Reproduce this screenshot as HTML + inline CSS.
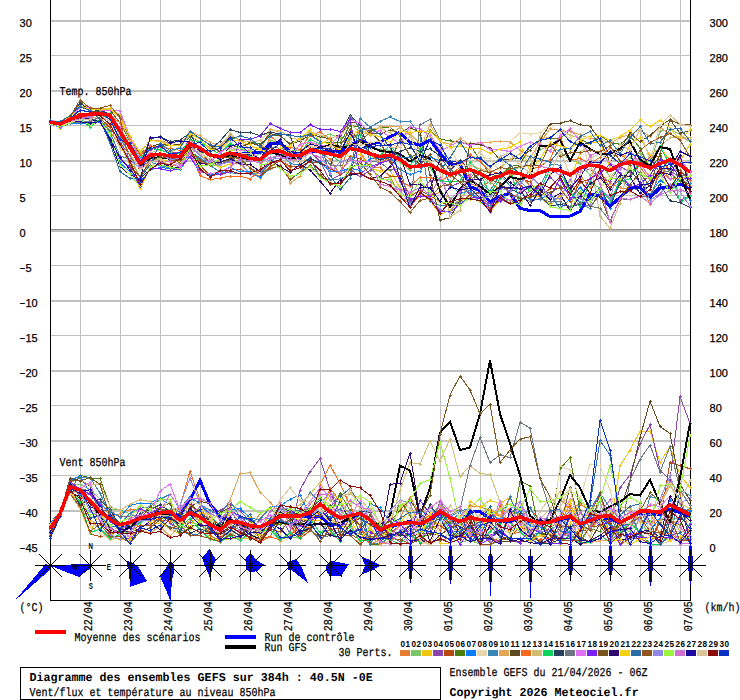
<!DOCTYPE html>
<html lang="fr"><head><meta charset="utf-8"><title>Diagramme des ensembles GEFS</title>
<style>html,body{margin:0;padding:0;background:#fff}svg{display:block}text{stroke:#000;stroke-width:0.25px;paint-order:stroke fill}text[font-weight=bold]{stroke-width:0}</style></head>
<body>
<svg width="740" height="700" viewBox="0 0 740 700">
<rect width="740" height="700" fill="#fff"/>
<g shape-rendering="crispEdges">
<rect x="80" y="0" width="1" height="600" fill="#c0c0c0"/>
<rect x="120" y="0" width="1" height="600" fill="#c0c0c0"/>
<rect x="160" y="0" width="1" height="600" fill="#c0c0c0"/>
<rect x="200" y="0" width="1" height="600" fill="#c0c0c0"/>
<rect x="240" y="0" width="1" height="600" fill="#c0c0c0"/>
<rect x="280" y="0" width="1" height="600" fill="#c0c0c0"/>
<rect x="320" y="0" width="1" height="600" fill="#c0c0c0"/>
<rect x="360" y="0" width="1" height="600" fill="#c0c0c0"/>
<rect x="400" y="0" width="1" height="600" fill="#c0c0c0"/>
<rect x="440" y="0" width="1" height="600" fill="#c0c0c0"/>
<rect x="480" y="0" width="1" height="600" fill="#c0c0c0"/>
<rect x="520" y="0" width="1" height="600" fill="#c0c0c0"/>
<rect x="560" y="0" width="1" height="600" fill="#c0c0c0"/>
<rect x="600" y="0" width="1" height="600" fill="#c0c0c0"/>
<rect x="640" y="0" width="1" height="600" fill="#c0c0c0"/>
<rect x="680" y="0" width="1" height="600" fill="#c0c0c0"/>
<rect x="50" y="20" width="640" height="2" fill="#c0c0c0"/>
<rect x="50" y="55" width="640" height="1" fill="#c0c0c0"/>
<rect x="50" y="90" width="640" height="2" fill="#c0c0c0"/>
<rect x="50" y="125" width="640" height="1" fill="#c0c0c0"/>
<rect x="50" y="160" width="640" height="2" fill="#c0c0c0"/>
<rect x="50" y="195" width="640" height="1" fill="#c0c0c0"/>
<rect x="50" y="230" width="640" height="2" fill="#c0c0c0"/>
<rect x="50" y="229" width="640" height="1" fill="#909090"/>
<rect x="50" y="265" width="640" height="1" fill="#c0c0c0"/>
<rect x="50" y="300" width="640" height="2" fill="#c0c0c0"/>
<rect x="50" y="335" width="640" height="1" fill="#c0c0c0"/>
<rect x="50" y="370" width="640" height="2" fill="#c0c0c0"/>
<rect x="50" y="405" width="640" height="1" fill="#c0c0c0"/>
<rect x="50" y="440" width="640" height="2" fill="#c0c0c0"/>
<rect x="50" y="475" width="640" height="1" fill="#c0c0c0"/>
<rect x="50" y="510" width="640" height="2" fill="#c0c0c0"/>
<rect x="50" y="545" width="640" height="1" fill="#c0c0c0"/>
</g>
<g shape-rendering="crispEdges" fill="#000">
<rect x="50" y="0" width="1" height="601"/>
<rect x="690" y="0" width="1" height="601"/>
<rect x="50" y="600" width="641" height="1"/>
</g>
<g shape-rendering="crispEdges" stroke-linejoin="miter">
<polyline points="50,122.8 60,126.3 70,120.7 80,117.4 90,118.0 100,116.4 110,130.7 120,146.6 130,161.1 140,176.4 150,162.8 160,160.2 170,165.4 180,164.9 190,150.4 200,162.5 210,163.5 220,160.6 230,162.9 240,164.1 250,173.1 260,175.7 270,166.2 280,160.4 290,167.4 300,152.1 310,149.4 320,151.7 330,159.4 340,174.5 350,139.9 360,151.6 370,167.4 380,167.8 390,176.1 400,196.3 410,204.6 420,196.4 430,194.3 440,192.7 450,206.6 460,199.5 470,183.7 480,187.2 490,181.6 500,189.8 510,174.5 520,174.3 530,186.0 540,197.1 550,203.8 560,195.7 570,208.9 580,175.2 590,187.3 600,173.6 610,183.1 620,187.8 630,188.9 640,184.1 650,204.1 660,166.5 670,179.1 680,178.0 690,187.0" fill="none" stroke="#E67E30" stroke-width="1" />
<path d="M49,122h3v1h-3zM50,121h1v3h-1zM59,126h3v1h-3zM60,125h1v3h-1zM69,120h3v1h-3zM70,119h1v3h-1zM79,117h3v1h-3zM80,116h1v3h-1zM89,118h3v1h-3zM90,117h1v3h-1zM99,116h3v1h-3zM100,115h1v3h-1zM109,130h3v1h-3zM110,129h1v3h-1zM119,146h3v1h-3zM120,145h1v3h-1zM129,161h3v1h-3zM130,160h1v3h-1zM139,176h3v1h-3zM140,175h1v3h-1zM149,162h3v1h-3zM150,161h1v3h-1zM159,160h3v1h-3zM160,159h1v3h-1zM169,165h3v1h-3zM170,164h1v3h-1zM179,164h3v1h-3zM180,163h1v3h-1zM189,150h3v1h-3zM190,149h1v3h-1zM199,162h3v1h-3zM200,161h1v3h-1zM209,163h3v1h-3zM210,162h1v3h-1zM219,160h3v1h-3zM220,159h1v3h-1zM229,162h3v1h-3zM230,161h1v3h-1zM239,164h3v1h-3zM240,163h1v3h-1zM249,173h3v1h-3zM250,172h1v3h-1zM259,175h3v1h-3zM260,174h1v3h-1zM269,166h3v1h-3zM270,165h1v3h-1zM279,160h3v1h-3zM280,159h1v3h-1zM289,167h3v1h-3zM290,166h1v3h-1zM299,152h3v1h-3zM300,151h1v3h-1zM309,149h3v1h-3zM310,148h1v3h-1zM319,151h3v1h-3zM320,150h1v3h-1zM329,159h3v1h-3zM330,158h1v3h-1zM339,174h3v1h-3zM340,173h1v3h-1zM349,139h3v1h-3zM350,138h1v3h-1zM359,151h3v1h-3zM360,150h1v3h-1zM369,167h3v1h-3zM370,166h1v3h-1zM379,167h3v1h-3zM380,166h1v3h-1zM389,176h3v1h-3zM390,175h1v3h-1zM399,196h3v1h-3zM400,195h1v3h-1zM409,204h3v1h-3zM410,203h1v3h-1zM419,196h3v1h-3zM420,195h1v3h-1zM429,194h3v1h-3zM430,193h1v3h-1zM439,192h3v1h-3zM440,191h1v3h-1zM449,206h3v1h-3zM450,205h1v3h-1zM459,199h3v1h-3zM460,198h1v3h-1zM469,183h3v1h-3zM470,182h1v3h-1zM479,187h3v1h-3zM480,186h1v3h-1zM489,181h3v1h-3zM490,180h1v3h-1zM499,189h3v1h-3zM500,188h1v3h-1zM509,174h3v1h-3zM510,173h1v3h-1zM519,174h3v1h-3zM520,173h1v3h-1zM529,186h3v1h-3zM530,185h1v3h-1zM539,197h3v1h-3zM540,196h1v3h-1zM549,203h3v1h-3zM550,202h1v3h-1zM559,195h3v1h-3zM560,194h1v3h-1zM569,208h3v1h-3zM570,207h1v3h-1zM579,175h3v1h-3zM580,174h1v3h-1zM589,187h3v1h-3zM590,186h1v3h-1zM599,173h3v1h-3zM600,172h1v3h-1zM609,183h3v1h-3zM610,182h1v3h-1zM619,187h3v1h-3zM620,186h1v3h-1zM629,188h3v1h-3zM630,187h1v3h-1zM639,184h3v1h-3zM640,183h1v3h-1zM649,204h3v1h-3zM650,203h1v3h-1zM659,166h3v1h-3zM660,165h1v3h-1zM669,179h3v1h-3zM670,178h1v3h-1zM679,177h3v1h-3zM680,176h1v3h-1zM689,186h3v1h-3zM690,185h1v3h-1z" fill="#E67E30"/>
<polyline points="50,529.7 60,514.3 70,485.6 80,495.1 90,505.9 100,501.3 110,516.2 120,513.8 130,509.4 140,508.8 150,514.6 160,514.2 170,516.5 180,527.9 190,506.4 200,511.2 210,521.1 220,530.3 230,522.6 240,525.3 250,528.7 260,513.5 270,508.4 280,517.5 290,526.7 300,538.4 310,512.6 320,514.0 330,488.5 340,500.8 350,517.0 360,514.7 370,512.3 380,541.6 390,531.5 400,518.6 410,497.1 420,513.5 430,523.8 440,502.7 450,521.3 460,517.0 470,505.9 480,506.5 490,511.0 500,515.9 510,497.6 520,518.4 530,508.1 540,521.4 550,523.5 560,499.8 570,508.4 580,504.3 590,510.4 600,496.5 610,525.8 620,530.8 630,529.5 640,511.8 650,505.9 660,503.1 670,481.3 680,492.9 690,537.9" fill="none" stroke="#E67E30" stroke-width="1" />
<path d="M49,529h3v1h-3zM50,528h1v3h-1zM59,514h3v1h-3zM60,513h1v3h-1zM69,485h3v1h-3zM70,484h1v3h-1zM79,495h3v1h-3zM80,494h1v3h-1zM89,505h3v1h-3zM90,504h1v3h-1zM99,501h3v1h-3zM100,500h1v3h-1zM109,516h3v1h-3zM110,515h1v3h-1zM119,513h3v1h-3zM120,512h1v3h-1zM129,509h3v1h-3zM130,508h1v3h-1zM139,508h3v1h-3zM140,507h1v3h-1zM149,514h3v1h-3zM150,513h1v3h-1zM159,514h3v1h-3zM160,513h1v3h-1zM169,516h3v1h-3zM170,515h1v3h-1zM179,527h3v1h-3zM180,526h1v3h-1zM189,506h3v1h-3zM190,505h1v3h-1zM199,511h3v1h-3zM200,510h1v3h-1zM209,521h3v1h-3zM210,520h1v3h-1zM219,530h3v1h-3zM220,529h1v3h-1zM229,522h3v1h-3zM230,521h1v3h-1zM239,525h3v1h-3zM240,524h1v3h-1zM249,528h3v1h-3zM250,527h1v3h-1zM259,513h3v1h-3zM260,512h1v3h-1zM269,508h3v1h-3zM270,507h1v3h-1zM279,517h3v1h-3zM280,516h1v3h-1zM289,526h3v1h-3zM290,525h1v3h-1zM299,538h3v1h-3zM300,537h1v3h-1zM309,512h3v1h-3zM310,511h1v3h-1zM319,514h3v1h-3zM320,513h1v3h-1zM329,488h3v1h-3zM330,487h1v3h-1zM339,500h3v1h-3zM340,499h1v3h-1zM349,517h3v1h-3zM350,516h1v3h-1zM359,514h3v1h-3zM360,513h1v3h-1zM369,512h3v1h-3zM370,511h1v3h-1zM379,541h3v1h-3zM380,540h1v3h-1zM389,531h3v1h-3zM390,530h1v3h-1zM399,518h3v1h-3zM400,517h1v3h-1zM409,497h3v1h-3zM410,496h1v3h-1zM419,513h3v1h-3zM420,512h1v3h-1zM429,523h3v1h-3zM430,522h1v3h-1zM439,502h3v1h-3zM440,501h1v3h-1zM449,521h3v1h-3zM450,520h1v3h-1zM459,516h3v1h-3zM460,515h1v3h-1zM469,505h3v1h-3zM470,504h1v3h-1zM479,506h3v1h-3zM480,505h1v3h-1zM489,511h3v1h-3zM490,510h1v3h-1zM499,515h3v1h-3zM500,514h1v3h-1zM509,497h3v1h-3zM510,496h1v3h-1zM519,518h3v1h-3zM520,517h1v3h-1zM529,508h3v1h-3zM530,507h1v3h-1zM539,521h3v1h-3zM540,520h1v3h-1zM549,523h3v1h-3zM550,522h1v3h-1zM559,499h3v1h-3zM560,498h1v3h-1zM569,508h3v1h-3zM570,507h1v3h-1zM579,504h3v1h-3zM580,503h1v3h-1zM589,510h3v1h-3zM590,509h1v3h-1zM599,496h3v1h-3zM600,495h1v3h-1zM609,525h3v1h-3zM610,524h1v3h-1zM619,530h3v1h-3zM620,529h1v3h-1zM629,529h3v1h-3zM630,528h1v3h-1zM639,511h3v1h-3zM640,510h1v3h-1zM649,505h3v1h-3zM650,504h1v3h-1zM659,503h3v1h-3zM660,502h1v3h-1zM669,481h3v1h-3zM670,480h1v3h-1zM679,492h3v1h-3zM680,491h1v3h-1zM689,537h3v1h-3zM690,536h1v3h-1z" fill="#E67E30"/>
<polyline points="50,121.9 60,123.8 70,119.0 80,116.0 90,115.2 100,113.6 110,119.7 120,134.3 130,155.2 140,178.0 150,162.2 160,158.3 170,162.2 180,163.6 190,152.9 200,160.8 210,165.1 220,165.7 230,157.1 240,162.7 250,159.4 260,153.4 270,140.0 280,143.4 290,150.6 300,150.7 310,132.7 320,137.2 330,134.1 340,138.3 350,134.7 360,139.7 370,146.6 380,149.8 390,150.1 400,162.2 410,170.3 420,158.1 430,162.1 440,190.9 450,198.8 460,202.7 470,182.5 480,173.8 490,183.7 500,173.7 510,170.3 520,167.3 530,165.1 540,149.7 550,145.4 560,152.3 570,159.5 580,163.6 590,175.1 600,163.5 610,176.4 620,168.6 630,157.0 640,153.3 650,165.4 660,131.2 670,129.5 680,134.7 690,141.8" fill="none" stroke="#7DC46A" stroke-width="1" />
<path d="M49,121h3v1h-3zM50,120h1v3h-1zM59,123h3v1h-3zM60,122h1v3h-1zM69,119h3v1h-3zM70,118h1v3h-1zM79,115h3v1h-3zM80,114h1v3h-1zM89,115h3v1h-3zM90,114h1v3h-1zM99,113h3v1h-3zM100,112h1v3h-1zM109,119h3v1h-3zM110,118h1v3h-1zM119,134h3v1h-3zM120,133h1v3h-1zM129,155h3v1h-3zM130,154h1v3h-1zM139,177h3v1h-3zM140,176h1v3h-1zM149,162h3v1h-3zM150,161h1v3h-1zM159,158h3v1h-3zM160,157h1v3h-1zM169,162h3v1h-3zM170,161h1v3h-1zM179,163h3v1h-3zM180,162h1v3h-1zM189,152h3v1h-3zM190,151h1v3h-1zM199,160h3v1h-3zM200,159h1v3h-1zM209,165h3v1h-3zM210,164h1v3h-1zM219,165h3v1h-3zM220,164h1v3h-1zM229,157h3v1h-3zM230,156h1v3h-1zM239,162h3v1h-3zM240,161h1v3h-1zM249,159h3v1h-3zM250,158h1v3h-1zM259,153h3v1h-3zM260,152h1v3h-1zM269,140h3v1h-3zM270,139h1v3h-1zM279,143h3v1h-3zM280,142h1v3h-1zM289,150h3v1h-3zM290,149h1v3h-1zM299,150h3v1h-3zM300,149h1v3h-1zM309,132h3v1h-3zM310,131h1v3h-1zM319,137h3v1h-3zM320,136h1v3h-1zM329,134h3v1h-3zM330,133h1v3h-1zM339,138h3v1h-3zM340,137h1v3h-1zM349,134h3v1h-3zM350,133h1v3h-1zM359,139h3v1h-3zM360,138h1v3h-1zM369,146h3v1h-3zM370,145h1v3h-1zM379,149h3v1h-3zM380,148h1v3h-1zM389,150h3v1h-3zM390,149h1v3h-1zM399,162h3v1h-3zM400,161h1v3h-1zM409,170h3v1h-3zM410,169h1v3h-1zM419,158h3v1h-3zM420,157h1v3h-1zM429,162h3v1h-3zM430,161h1v3h-1zM439,190h3v1h-3zM440,189h1v3h-1zM449,198h3v1h-3zM450,197h1v3h-1zM459,202h3v1h-3zM460,201h1v3h-1zM469,182h3v1h-3zM470,181h1v3h-1zM479,173h3v1h-3zM480,172h1v3h-1zM489,183h3v1h-3zM490,182h1v3h-1zM499,173h3v1h-3zM500,172h1v3h-1zM509,170h3v1h-3zM510,169h1v3h-1zM519,167h3v1h-3zM520,166h1v3h-1zM529,165h3v1h-3zM530,164h1v3h-1zM539,149h3v1h-3zM540,148h1v3h-1zM549,145h3v1h-3zM550,144h1v3h-1zM559,152h3v1h-3zM560,151h1v3h-1zM569,159h3v1h-3zM570,158h1v3h-1zM579,163h3v1h-3zM580,162h1v3h-1zM589,175h3v1h-3zM590,174h1v3h-1zM599,163h3v1h-3zM600,162h1v3h-1zM609,176h3v1h-3zM610,175h1v3h-1zM619,168h3v1h-3zM620,167h1v3h-1zM629,157h3v1h-3zM630,156h1v3h-1zM639,153h3v1h-3zM640,152h1v3h-1zM649,165h3v1h-3zM650,164h1v3h-1zM659,131h3v1h-3zM660,130h1v3h-1zM669,129h3v1h-3zM670,128h1v3h-1zM679,134h3v1h-3zM680,133h1v3h-1zM689,141h3v1h-3zM690,140h1v3h-1z" fill="#7DC46A"/>
<polyline points="50,529.7 60,513.8 70,484.4 80,484.1 90,489.7 100,499.0 110,509.2 120,510.1 130,513.8 140,518.3 150,517.0 160,512.1 170,509.2 180,515.8 190,514.0 200,521.5 210,535.2 220,542.8 230,532.4 240,538.9 250,538.7 260,531.2 270,526.9 280,537.5 290,536.6 300,538.3 310,530.6 320,536.4 330,516.6 340,508.9 350,522.3 360,515.1 370,530.2 380,539.0 390,528.6 400,521.2 410,533.4 420,524.7 430,523.4 440,511.0 450,538.1 460,542.4 470,539.9 480,544.5 490,531.4 500,521.8 510,522.4 520,519.7 530,533.8 540,525.2 550,522.9 560,518.4 570,531.0 580,544.7 590,525.3 600,500.6 610,535.8 620,528.3 630,531.7 640,518.9 650,536.4 660,541.1 670,519.4 680,518.1 690,516.9" fill="none" stroke="#7DC46A" stroke-width="1" />
<path d="M49,529h3v1h-3zM50,528h1v3h-1zM59,513h3v1h-3zM60,512h1v3h-1zM69,484h3v1h-3zM70,483h1v3h-1zM79,484h3v1h-3zM80,483h1v3h-1zM89,489h3v1h-3zM90,488h1v3h-1zM99,499h3v1h-3zM100,498h1v3h-1zM109,509h3v1h-3zM110,508h1v3h-1zM119,510h3v1h-3zM120,509h1v3h-1zM129,513h3v1h-3zM130,512h1v3h-1zM139,518h3v1h-3zM140,517h1v3h-1zM149,517h3v1h-3zM150,516h1v3h-1zM159,512h3v1h-3zM160,511h1v3h-1zM169,509h3v1h-3zM170,508h1v3h-1zM179,515h3v1h-3zM180,514h1v3h-1zM189,513h3v1h-3zM190,512h1v3h-1zM199,521h3v1h-3zM200,520h1v3h-1zM209,535h3v1h-3zM210,534h1v3h-1zM219,542h3v1h-3zM220,541h1v3h-1zM229,532h3v1h-3zM230,531h1v3h-1zM239,538h3v1h-3zM240,537h1v3h-1zM249,538h3v1h-3zM250,537h1v3h-1zM259,531h3v1h-3zM260,530h1v3h-1zM269,526h3v1h-3zM270,525h1v3h-1zM279,537h3v1h-3zM280,536h1v3h-1zM289,536h3v1h-3zM290,535h1v3h-1zM299,538h3v1h-3zM300,537h1v3h-1zM309,530h3v1h-3zM310,529h1v3h-1zM319,536h3v1h-3zM320,535h1v3h-1zM329,516h3v1h-3zM330,515h1v3h-1zM339,508h3v1h-3zM340,507h1v3h-1zM349,522h3v1h-3zM350,521h1v3h-1zM359,515h3v1h-3zM360,514h1v3h-1zM369,530h3v1h-3zM370,529h1v3h-1zM379,539h3v1h-3zM380,538h1v3h-1zM389,528h3v1h-3zM390,527h1v3h-1zM399,521h3v1h-3zM400,520h1v3h-1zM409,533h3v1h-3zM410,532h1v3h-1zM419,524h3v1h-3zM420,523h1v3h-1zM429,523h3v1h-3zM430,522h1v3h-1zM439,511h3v1h-3zM440,510h1v3h-1zM449,538h3v1h-3zM450,537h1v3h-1zM459,542h3v1h-3zM460,541h1v3h-1zM469,539h3v1h-3zM470,538h1v3h-1zM479,544h3v1h-3zM480,543h1v3h-1zM489,531h3v1h-3zM490,530h1v3h-1zM499,521h3v1h-3zM500,520h1v3h-1zM509,522h3v1h-3zM510,521h1v3h-1zM519,519h3v1h-3zM520,518h1v3h-1zM529,533h3v1h-3zM530,532h1v3h-1zM539,525h3v1h-3zM540,524h1v3h-1zM549,522h3v1h-3zM550,521h1v3h-1zM559,518h3v1h-3zM560,517h1v3h-1zM569,530h3v1h-3zM570,529h1v3h-1zM579,544h3v1h-3zM580,543h1v3h-1zM589,525h3v1h-3zM590,524h1v3h-1zM599,500h3v1h-3zM600,499h1v3h-1zM609,535h3v1h-3zM610,534h1v3h-1zM619,528h3v1h-3zM620,527h1v3h-1zM629,531h3v1h-3zM630,530h1v3h-1zM639,518h3v1h-3zM640,517h1v3h-1zM649,536h3v1h-3zM650,535h1v3h-1zM659,541h3v1h-3zM660,540h1v3h-1zM669,519h3v1h-3zM670,518h1v3h-1zM679,518h3v1h-3zM680,517h1v3h-1zM689,516h3v1h-3zM690,515h1v3h-1z" fill="#7DC46A"/>
<polyline points="50,121.6 60,128.0 70,119.3 80,117.0 90,114.2 100,113.8 110,114.9 120,145.1 130,165.0 140,188.8 150,168.0 160,158.3 170,162.5 180,161.6 190,147.6 200,154.4 210,162.4 220,167.6 230,164.1 240,159.0 250,167.6 260,178.3 270,161.6 280,153.4 290,152.8 300,155.5 310,141.4 320,145.1 330,138.2 340,148.4 350,157.6 360,154.3 370,167.3 380,171.4 390,170.1 400,188.2 410,193.1 420,193.7 430,200.0 440,214.7 450,210.4 460,199.5 470,199.3 480,191.4 490,211.8 500,200.2 510,200.6 520,200.8 530,196.2 540,197.1 550,205.8 560,196.3 570,181.0 580,153.2 590,143.2 600,141.6 610,167.7 620,166.5 630,144.5 640,137.7 650,155.1 660,147.5 670,160.2 680,161.7 690,144.1" fill="none" stroke="#F1C40F" stroke-width="1" />
<path d="M49,121h3v1h-3zM50,120h1v3h-1zM59,128h3v1h-3zM60,127h1v3h-1zM69,119h3v1h-3zM70,118h1v3h-1zM79,117h3v1h-3zM80,116h1v3h-1zM89,114h3v1h-3zM90,113h1v3h-1zM99,113h3v1h-3zM100,112h1v3h-1zM109,114h3v1h-3zM110,113h1v3h-1zM119,145h3v1h-3zM120,144h1v3h-1zM129,165h3v1h-3zM130,164h1v3h-1zM139,188h3v1h-3zM140,187h1v3h-1zM149,168h3v1h-3zM150,167h1v3h-1zM159,158h3v1h-3zM160,157h1v3h-1zM169,162h3v1h-3zM170,161h1v3h-1zM179,161h3v1h-3zM180,160h1v3h-1zM189,147h3v1h-3zM190,146h1v3h-1zM199,154h3v1h-3zM200,153h1v3h-1zM209,162h3v1h-3zM210,161h1v3h-1zM219,167h3v1h-3zM220,166h1v3h-1zM229,164h3v1h-3zM230,163h1v3h-1zM239,159h3v1h-3zM240,158h1v3h-1zM249,167h3v1h-3zM250,166h1v3h-1zM259,178h3v1h-3zM260,177h1v3h-1zM269,161h3v1h-3zM270,160h1v3h-1zM279,153h3v1h-3zM280,152h1v3h-1zM289,152h3v1h-3zM290,151h1v3h-1zM299,155h3v1h-3zM300,154h1v3h-1zM309,141h3v1h-3zM310,140h1v3h-1zM319,145h3v1h-3zM320,144h1v3h-1zM329,138h3v1h-3zM330,137h1v3h-1zM339,148h3v1h-3zM340,147h1v3h-1zM349,157h3v1h-3zM350,156h1v3h-1zM359,154h3v1h-3zM360,153h1v3h-1zM369,167h3v1h-3zM370,166h1v3h-1zM379,171h3v1h-3zM380,170h1v3h-1zM389,170h3v1h-3zM390,169h1v3h-1zM399,188h3v1h-3zM400,187h1v3h-1zM409,193h3v1h-3zM410,192h1v3h-1zM419,193h3v1h-3zM420,192h1v3h-1zM429,199h3v1h-3zM430,198h1v3h-1zM439,214h3v1h-3zM440,213h1v3h-1zM449,210h3v1h-3zM450,209h1v3h-1zM459,199h3v1h-3zM460,198h1v3h-1zM469,199h3v1h-3zM470,198h1v3h-1zM479,191h3v1h-3zM480,190h1v3h-1zM489,211h3v1h-3zM490,210h1v3h-1zM499,200h3v1h-3zM500,199h1v3h-1zM509,200h3v1h-3zM510,199h1v3h-1zM519,200h3v1h-3zM520,199h1v3h-1zM529,196h3v1h-3zM530,195h1v3h-1zM539,197h3v1h-3zM540,196h1v3h-1zM549,205h3v1h-3zM550,204h1v3h-1zM559,196h3v1h-3zM560,195h1v3h-1zM569,180h3v1h-3zM570,179h1v3h-1zM579,153h3v1h-3zM580,152h1v3h-1zM589,143h3v1h-3zM590,142h1v3h-1zM599,141h3v1h-3zM600,140h1v3h-1zM609,167h3v1h-3zM610,166h1v3h-1zM619,166h3v1h-3zM620,165h1v3h-1zM629,144h3v1h-3zM630,143h1v3h-1zM639,137h3v1h-3zM640,136h1v3h-1zM649,155h3v1h-3zM650,154h1v3h-1zM659,147h3v1h-3zM660,146h1v3h-1zM669,160h3v1h-3zM670,159h1v3h-1zM679,161h3v1h-3zM680,160h1v3h-1zM689,144h3v1h-3zM690,143h1v3h-1z" fill="#F1C40F"/>
<polyline points="50,529.9 60,514.1 70,492.8 80,507.9 90,520.1 100,524.4 110,525.2 120,523.7 130,527.5 140,517.9 150,522.3 160,523.8 170,528.2 180,534.3 190,519.6 200,522.0 210,538.3 220,540.7 230,538.9 240,539.0 250,538.4 260,534.6 270,511.4 280,502.6 290,519.0 300,521.5 310,521.1 320,520.5 330,518.3 340,526.1 350,526.8 360,510.8 370,526.6 380,542.5 390,529.6 400,507.1 410,501.9 420,530.5 430,519.9 440,524.6 450,534.1 460,535.8 470,501.2 480,507.8 490,500.2 500,503.6 510,497.5 520,516.4 530,522.4 540,532.8 550,541.7 560,544.3 570,523.2 580,499.7 590,511.5 600,517.6 610,530.9 620,465.7 630,450.0 640,431.0 650,431.0 660,462.5 670,446.8 680,475.0 690,487.7" fill="none" stroke="#F1C40F" stroke-width="1" />
<path d="M49,529h3v1h-3zM50,528h1v3h-1zM59,514h3v1h-3zM60,513h1v3h-1zM69,492h3v1h-3zM70,491h1v3h-1zM79,507h3v1h-3zM80,506h1v3h-1zM89,520h3v1h-3zM90,519h1v3h-1zM99,524h3v1h-3zM100,523h1v3h-1zM109,525h3v1h-3zM110,524h1v3h-1zM119,523h3v1h-3zM120,522h1v3h-1zM129,527h3v1h-3zM130,526h1v3h-1zM139,517h3v1h-3zM140,516h1v3h-1zM149,522h3v1h-3zM150,521h1v3h-1zM159,523h3v1h-3zM160,522h1v3h-1zM169,528h3v1h-3zM170,527h1v3h-1zM179,534h3v1h-3zM180,533h1v3h-1zM189,519h3v1h-3zM190,518h1v3h-1zM199,522h3v1h-3zM200,521h1v3h-1zM209,538h3v1h-3zM210,537h1v3h-1zM219,540h3v1h-3zM220,539h1v3h-1zM229,538h3v1h-3zM230,537h1v3h-1zM239,539h3v1h-3zM240,538h1v3h-1zM249,538h3v1h-3zM250,537h1v3h-1zM259,534h3v1h-3zM260,533h1v3h-1zM269,511h3v1h-3zM270,510h1v3h-1zM279,502h3v1h-3zM280,501h1v3h-1zM289,518h3v1h-3zM290,517h1v3h-1zM299,521h3v1h-3zM300,520h1v3h-1zM309,521h3v1h-3zM310,520h1v3h-1zM319,520h3v1h-3zM320,519h1v3h-1zM329,518h3v1h-3zM330,517h1v3h-1zM339,526h3v1h-3zM340,525h1v3h-1zM349,526h3v1h-3zM350,525h1v3h-1zM359,510h3v1h-3zM360,509h1v3h-1zM369,526h3v1h-3zM370,525h1v3h-1zM379,542h3v1h-3zM380,541h1v3h-1zM389,529h3v1h-3zM390,528h1v3h-1zM399,507h3v1h-3zM400,506h1v3h-1zM409,501h3v1h-3zM410,500h1v3h-1zM419,530h3v1h-3zM420,529h1v3h-1zM429,519h3v1h-3zM430,518h1v3h-1zM439,524h3v1h-3zM440,523h1v3h-1zM449,534h3v1h-3zM450,533h1v3h-1zM459,535h3v1h-3zM460,534h1v3h-1zM469,501h3v1h-3zM470,500h1v3h-1zM479,507h3v1h-3zM480,506h1v3h-1zM489,500h3v1h-3zM490,499h1v3h-1zM499,503h3v1h-3zM500,502h1v3h-1zM509,497h3v1h-3zM510,496h1v3h-1zM519,516h3v1h-3zM520,515h1v3h-1zM529,522h3v1h-3zM530,521h1v3h-1zM539,532h3v1h-3zM540,531h1v3h-1zM549,541h3v1h-3zM550,540h1v3h-1zM559,544h3v1h-3zM560,543h1v3h-1zM569,523h3v1h-3zM570,522h1v3h-1zM579,499h3v1h-3zM580,498h1v3h-1zM589,511h3v1h-3zM590,510h1v3h-1zM599,517h3v1h-3zM600,516h1v3h-1zM609,530h3v1h-3zM610,529h1v3h-1zM619,465h3v1h-3zM620,464h1v3h-1zM629,450h3v1h-3zM630,449h1v3h-1zM639,431h3v1h-3zM640,430h1v3h-1zM649,431h3v1h-3zM650,430h1v3h-1zM659,462h3v1h-3zM660,461h1v3h-1zM669,446h3v1h-3zM670,445h1v3h-1zM679,475h3v1h-3zM680,474h1v3h-1zM689,487h3v1h-3zM690,486h1v3h-1z" fill="#F1C40F"/>
<polyline points="50,122.3 60,124.2 70,120.1 80,117.8 90,113.4 100,111.1 110,114.0 120,129.5 130,144.6 140,161.1 150,150.1 160,146.5 170,152.1 180,152.3 190,139.7 200,147.1 210,154.7 220,157.7 230,154.2 240,153.7 250,155.8 260,162.0 270,150.5 280,152.3 290,155.9 300,159.3 310,151.2 320,161.5 330,180.4 340,174.7 350,168.9 360,176.9 370,170.4 380,163.1 390,160.0 400,178.7 410,201.9 420,193.5 430,180.6 440,180.3 450,186.6 460,182.6 470,194.9 480,198.1 490,208.4 500,199.6 510,203.3 520,203.3 530,190.1 540,188.7 550,177.4 560,186.4 570,193.2 580,167.5 590,169.6 600,177.7 610,181.3 620,166.1 630,172.4 640,163.8 650,158.1 660,172.9 670,185.7 680,200.5 690,195.3" fill="none" stroke="#8E44AD" stroke-width="1" />
<path d="M49,122h3v1h-3zM50,121h1v3h-1zM59,124h3v1h-3zM60,123h1v3h-1zM69,120h3v1h-3zM70,119h1v3h-1zM79,117h3v1h-3zM80,116h1v3h-1zM89,113h3v1h-3zM90,112h1v3h-1zM99,111h3v1h-3zM100,110h1v3h-1zM109,113h3v1h-3zM110,112h1v3h-1zM119,129h3v1h-3zM120,128h1v3h-1zM129,144h3v1h-3zM130,143h1v3h-1zM139,161h3v1h-3zM140,160h1v3h-1zM149,150h3v1h-3zM150,149h1v3h-1zM159,146h3v1h-3zM160,145h1v3h-1zM169,152h3v1h-3zM170,151h1v3h-1zM179,152h3v1h-3zM180,151h1v3h-1zM189,139h3v1h-3zM190,138h1v3h-1zM199,147h3v1h-3zM200,146h1v3h-1zM209,154h3v1h-3zM210,153h1v3h-1zM219,157h3v1h-3zM220,156h1v3h-1zM229,154h3v1h-3zM230,153h1v3h-1zM239,153h3v1h-3zM240,152h1v3h-1zM249,155h3v1h-3zM250,154h1v3h-1zM259,162h3v1h-3zM260,161h1v3h-1zM269,150h3v1h-3zM270,149h1v3h-1zM279,152h3v1h-3zM280,151h1v3h-1zM289,155h3v1h-3zM290,154h1v3h-1zM299,159h3v1h-3zM300,158h1v3h-1zM309,151h3v1h-3zM310,150h1v3h-1zM319,161h3v1h-3zM320,160h1v3h-1zM329,180h3v1h-3zM330,179h1v3h-1zM339,174h3v1h-3zM340,173h1v3h-1zM349,168h3v1h-3zM350,167h1v3h-1zM359,176h3v1h-3zM360,175h1v3h-1zM369,170h3v1h-3zM370,169h1v3h-1zM379,163h3v1h-3zM380,162h1v3h-1zM389,159h3v1h-3zM390,158h1v3h-1zM399,178h3v1h-3zM400,177h1v3h-1zM409,201h3v1h-3zM410,200h1v3h-1zM419,193h3v1h-3zM420,192h1v3h-1zM429,180h3v1h-3zM430,179h1v3h-1zM439,180h3v1h-3zM440,179h1v3h-1zM449,186h3v1h-3zM450,185h1v3h-1zM459,182h3v1h-3zM460,181h1v3h-1zM469,194h3v1h-3zM470,193h1v3h-1zM479,198h3v1h-3zM480,197h1v3h-1zM489,208h3v1h-3zM490,207h1v3h-1zM499,199h3v1h-3zM500,198h1v3h-1zM509,203h3v1h-3zM510,202h1v3h-1zM519,203h3v1h-3zM520,202h1v3h-1zM529,190h3v1h-3zM530,189h1v3h-1zM539,188h3v1h-3zM540,187h1v3h-1zM549,177h3v1h-3zM550,176h1v3h-1zM559,186h3v1h-3zM560,185h1v3h-1zM569,193h3v1h-3zM570,192h1v3h-1zM579,167h3v1h-3zM580,166h1v3h-1zM589,169h3v1h-3zM590,168h1v3h-1zM599,177h3v1h-3zM600,176h1v3h-1zM609,181h3v1h-3zM610,180h1v3h-1zM619,166h3v1h-3zM620,165h1v3h-1zM629,172h3v1h-3zM630,171h1v3h-1zM639,163h3v1h-3zM640,162h1v3h-1zM649,158h3v1h-3zM650,157h1v3h-1zM659,172h3v1h-3zM660,171h1v3h-1zM669,185h3v1h-3zM670,184h1v3h-1zM679,200h3v1h-3zM680,199h1v3h-1zM689,195h3v1h-3zM690,194h1v3h-1z" fill="#8E44AD"/>
<polyline points="50,531.8 60,514.8 70,493.4 80,489.2 90,494.8 100,502.6 110,527.3 120,532.9 130,540.2 140,527.0 150,523.6 160,508.4 170,523.2 180,530.4 190,522.1 200,506.4 210,513.5 220,510.7 230,504.1 240,510.6 250,521.2 260,533.4 270,527.6 280,515.2 290,533.4 300,490.0 310,471.6 320,458.6 330,490.0 340,515.0 350,534.6 360,527.1 370,540.4 380,531.8 390,532.9 400,525.6 410,522.3 420,509.7 430,516.4 440,506.0 450,517.1 460,527.6 470,532.8 480,533.5 490,542.0 500,523.2 510,522.0 520,516.5 530,532.6 540,541.0 550,526.7 560,522.1 570,510.9 580,526.0 590,515.6 600,492.4 610,525.8 620,487.7 630,475.0 640,443.7 650,424.8 660,470.0 670,480.0 680,396.5 690,423.3" fill="none" stroke="#8E44AD" stroke-width="1" />
<path d="M49,531h3v1h-3zM50,530h1v3h-1zM59,514h3v1h-3zM60,513h1v3h-1zM69,493h3v1h-3zM70,492h1v3h-1zM79,489h3v1h-3zM80,488h1v3h-1zM89,494h3v1h-3zM90,493h1v3h-1zM99,502h3v1h-3zM100,501h1v3h-1zM109,527h3v1h-3zM110,526h1v3h-1zM119,532h3v1h-3zM120,531h1v3h-1zM129,540h3v1h-3zM130,539h1v3h-1zM139,526h3v1h-3zM140,525h1v3h-1zM149,523h3v1h-3zM150,522h1v3h-1zM159,508h3v1h-3zM160,507h1v3h-1zM169,523h3v1h-3zM170,522h1v3h-1zM179,530h3v1h-3zM180,529h1v3h-1zM189,522h3v1h-3zM190,521h1v3h-1zM199,506h3v1h-3zM200,505h1v3h-1zM209,513h3v1h-3zM210,512h1v3h-1zM219,510h3v1h-3zM220,509h1v3h-1zM229,504h3v1h-3zM230,503h1v3h-1zM239,510h3v1h-3zM240,509h1v3h-1zM249,521h3v1h-3zM250,520h1v3h-1zM259,533h3v1h-3zM260,532h1v3h-1zM269,527h3v1h-3zM270,526h1v3h-1zM279,515h3v1h-3zM280,514h1v3h-1zM289,533h3v1h-3zM290,532h1v3h-1zM299,490h3v1h-3zM300,489h1v3h-1zM309,471h3v1h-3zM310,470h1v3h-1zM319,458h3v1h-3zM320,457h1v3h-1zM329,490h3v1h-3zM330,489h1v3h-1zM339,515h3v1h-3zM340,514h1v3h-1zM349,534h3v1h-3zM350,533h1v3h-1zM359,527h3v1h-3zM360,526h1v3h-1zM369,540h3v1h-3zM370,539h1v3h-1zM379,531h3v1h-3zM380,530h1v3h-1zM389,532h3v1h-3zM390,531h1v3h-1zM399,525h3v1h-3zM400,524h1v3h-1zM409,522h3v1h-3zM410,521h1v3h-1zM419,509h3v1h-3zM420,508h1v3h-1zM429,516h3v1h-3zM430,515h1v3h-1zM439,505h3v1h-3zM440,504h1v3h-1zM449,517h3v1h-3zM450,516h1v3h-1zM459,527h3v1h-3zM460,526h1v3h-1zM469,532h3v1h-3zM470,531h1v3h-1zM479,533h3v1h-3zM480,532h1v3h-1zM489,541h3v1h-3zM490,540h1v3h-1zM499,523h3v1h-3zM500,522h1v3h-1zM509,522h3v1h-3zM510,521h1v3h-1zM519,516h3v1h-3zM520,515h1v3h-1zM529,532h3v1h-3zM530,531h1v3h-1zM539,540h3v1h-3zM540,539h1v3h-1zM549,526h3v1h-3zM550,525h1v3h-1zM559,522h3v1h-3zM560,521h1v3h-1zM569,510h3v1h-3zM570,509h1v3h-1zM579,525h3v1h-3zM580,524h1v3h-1zM589,515h3v1h-3zM590,514h1v3h-1zM599,492h3v1h-3zM600,491h1v3h-1zM609,525h3v1h-3zM610,524h1v3h-1zM619,487h3v1h-3zM620,486h1v3h-1zM629,475h3v1h-3zM630,474h1v3h-1zM639,443h3v1h-3zM640,442h1v3h-1zM649,424h3v1h-3zM650,423h1v3h-1zM659,470h3v1h-3zM660,469h1v3h-1zM669,480h3v1h-3zM670,479h1v3h-1zM679,396h3v1h-3zM680,395h1v3h-1zM689,423h3v1h-3zM690,422h1v3h-1z" fill="#8E44AD"/>
<polyline points="50,122.8 60,125.2 70,121.1 80,117.7 90,120.3 100,118.0 110,127.4 120,142.5 130,155.5 140,169.9 150,155.2 160,154.5 170,160.2 180,162.4 190,151.5 200,165.1 210,175.8 220,174.2 230,170.1 240,169.2 250,173.9 260,176.5 270,166.9 280,160.7 290,166.1 300,166.4 310,162.0 320,162.4 330,168.3 340,174.4 350,156.6 360,158.5 370,165.4 380,178.8 390,176.8 400,176.3 410,196.2 420,190.2 430,195.9 440,201.3 450,206.2 460,205.0 470,194.6 480,192.0 490,210.4 500,184.9 510,191.2 520,178.2 530,181.9 540,196.3 550,188.9 560,188.2 570,201.3 580,182.1 590,179.3 600,170.6 610,187.9 620,179.3 630,175.8 640,165.2 650,157.4 660,156.1 670,170.9 680,170.6 690,180.4" fill="none" stroke="#B5490F" stroke-width="1" />
<path d="M49,122h3v1h-3zM50,121h1v3h-1zM59,125h3v1h-3zM60,124h1v3h-1zM69,121h3v1h-3zM70,120h1v3h-1zM79,117h3v1h-3zM80,116h1v3h-1zM89,120h3v1h-3zM90,119h1v3h-1zM99,117h3v1h-3zM100,116h1v3h-1zM109,127h3v1h-3zM110,126h1v3h-1zM119,142h3v1h-3zM120,141h1v3h-1zM129,155h3v1h-3zM130,154h1v3h-1zM139,169h3v1h-3zM140,168h1v3h-1zM149,155h3v1h-3zM150,154h1v3h-1zM159,154h3v1h-3zM160,153h1v3h-1zM169,160h3v1h-3zM170,159h1v3h-1zM179,162h3v1h-3zM180,161h1v3h-1zM189,151h3v1h-3zM190,150h1v3h-1zM199,165h3v1h-3zM200,164h1v3h-1zM209,175h3v1h-3zM210,174h1v3h-1zM219,174h3v1h-3zM220,173h1v3h-1zM229,170h3v1h-3zM230,169h1v3h-1zM239,169h3v1h-3zM240,168h1v3h-1zM249,173h3v1h-3zM250,172h1v3h-1zM259,176h3v1h-3zM260,175h1v3h-1zM269,166h3v1h-3zM270,165h1v3h-1zM279,160h3v1h-3zM280,159h1v3h-1zM289,166h3v1h-3zM290,165h1v3h-1zM299,166h3v1h-3zM300,165h1v3h-1zM309,161h3v1h-3zM310,160h1v3h-1zM319,162h3v1h-3zM320,161h1v3h-1zM329,168h3v1h-3zM330,167h1v3h-1zM339,174h3v1h-3zM340,173h1v3h-1zM349,156h3v1h-3zM350,155h1v3h-1zM359,158h3v1h-3zM360,157h1v3h-1zM369,165h3v1h-3zM370,164h1v3h-1zM379,178h3v1h-3zM380,177h1v3h-1zM389,176h3v1h-3zM390,175h1v3h-1zM399,176h3v1h-3zM400,175h1v3h-1zM409,196h3v1h-3zM410,195h1v3h-1zM419,190h3v1h-3zM420,189h1v3h-1zM429,195h3v1h-3zM430,194h1v3h-1zM439,201h3v1h-3zM440,200h1v3h-1zM449,206h3v1h-3zM450,205h1v3h-1zM459,205h3v1h-3zM460,204h1v3h-1zM469,194h3v1h-3zM470,193h1v3h-1zM479,192h3v1h-3zM480,191h1v3h-1zM489,210h3v1h-3zM490,209h1v3h-1zM499,184h3v1h-3zM500,183h1v3h-1zM509,191h3v1h-3zM510,190h1v3h-1zM519,178h3v1h-3zM520,177h1v3h-1zM529,181h3v1h-3zM530,180h1v3h-1zM539,196h3v1h-3zM540,195h1v3h-1zM549,188h3v1h-3zM550,187h1v3h-1zM559,188h3v1h-3zM560,187h1v3h-1zM569,201h3v1h-3zM570,200h1v3h-1zM579,182h3v1h-3zM580,181h1v3h-1zM589,179h3v1h-3zM590,178h1v3h-1zM599,170h3v1h-3zM600,169h1v3h-1zM609,187h3v1h-3zM610,186h1v3h-1zM619,179h3v1h-3zM620,178h1v3h-1zM629,175h3v1h-3zM630,174h1v3h-1zM639,165h3v1h-3zM640,164h1v3h-1zM649,157h3v1h-3zM650,156h1v3h-1zM659,156h3v1h-3zM660,155h1v3h-1zM669,170h3v1h-3zM670,169h1v3h-1zM679,170h3v1h-3zM680,169h1v3h-1zM689,180h3v1h-3zM690,179h1v3h-1z" fill="#B5490F"/>
<polyline points="50,528.6 60,514.0 70,489.4 80,502.0 90,533.9 100,536.4 110,534.9 120,530.6 130,531.1 140,525.5 150,525.9 160,517.1 170,518.5 180,519.7 190,527.4 200,523.3 210,528.8 220,537.3 230,530.6 240,535.1 250,537.4 260,539.2 270,536.5 280,520.7 290,524.2 300,538.5 310,531.0 320,510.9 330,530.4 340,527.8 350,533.6 360,540.0 370,528.9 380,542.2 390,532.7 400,535.7 410,528.4 420,543.4 430,526.7 440,525.7 450,532.4 460,539.4 470,513.7 480,530.7 490,542.6 500,537.4 510,537.2 520,527.3 530,530.2 540,542.5 550,541.7 560,537.2 570,531.1 580,531.4 590,529.7 600,514.5 610,524.3 620,544.7 630,538.1 640,538.4 650,543.5 660,522.0 670,462.5 680,465.7 690,468.8" fill="none" stroke="#B5490F" stroke-width="1" />
<path d="M49,528h3v1h-3zM50,527h1v3h-1zM59,514h3v1h-3zM60,513h1v3h-1zM69,489h3v1h-3zM70,488h1v3h-1zM79,502h3v1h-3zM80,501h1v3h-1zM89,533h3v1h-3zM90,532h1v3h-1zM99,536h3v1h-3zM100,535h1v3h-1zM109,534h3v1h-3zM110,533h1v3h-1zM119,530h3v1h-3zM120,529h1v3h-1zM129,531h3v1h-3zM130,530h1v3h-1zM139,525h3v1h-3zM140,524h1v3h-1zM149,525h3v1h-3zM150,524h1v3h-1zM159,517h3v1h-3zM160,516h1v3h-1zM169,518h3v1h-3zM170,517h1v3h-1zM179,519h3v1h-3zM180,518h1v3h-1zM189,527h3v1h-3zM190,526h1v3h-1zM199,523h3v1h-3zM200,522h1v3h-1zM209,528h3v1h-3zM210,527h1v3h-1zM219,537h3v1h-3zM220,536h1v3h-1zM229,530h3v1h-3zM230,529h1v3h-1zM239,535h3v1h-3zM240,534h1v3h-1zM249,537h3v1h-3zM250,536h1v3h-1zM259,539h3v1h-3zM260,538h1v3h-1zM269,536h3v1h-3zM270,535h1v3h-1zM279,520h3v1h-3zM280,519h1v3h-1zM289,524h3v1h-3zM290,523h1v3h-1zM299,538h3v1h-3zM300,537h1v3h-1zM309,530h3v1h-3zM310,529h1v3h-1zM319,510h3v1h-3zM320,509h1v3h-1zM329,530h3v1h-3zM330,529h1v3h-1zM339,527h3v1h-3zM340,526h1v3h-1zM349,533h3v1h-3zM350,532h1v3h-1zM359,539h3v1h-3zM360,538h1v3h-1zM369,528h3v1h-3zM370,527h1v3h-1zM379,542h3v1h-3zM380,541h1v3h-1zM389,532h3v1h-3zM390,531h1v3h-1zM399,535h3v1h-3zM400,534h1v3h-1zM409,528h3v1h-3zM410,527h1v3h-1zM419,543h3v1h-3zM420,542h1v3h-1zM429,526h3v1h-3zM430,525h1v3h-1zM439,525h3v1h-3zM440,524h1v3h-1zM449,532h3v1h-3zM450,531h1v3h-1zM459,539h3v1h-3zM460,538h1v3h-1zM469,513h3v1h-3zM470,512h1v3h-1zM479,530h3v1h-3zM480,529h1v3h-1zM489,542h3v1h-3zM490,541h1v3h-1zM499,537h3v1h-3zM500,536h1v3h-1zM509,537h3v1h-3zM510,536h1v3h-1zM519,527h3v1h-3zM520,526h1v3h-1zM529,530h3v1h-3zM530,529h1v3h-1zM539,542h3v1h-3zM540,541h1v3h-1zM549,541h3v1h-3zM550,540h1v3h-1zM559,537h3v1h-3zM560,536h1v3h-1zM569,531h3v1h-3zM570,530h1v3h-1zM579,531h3v1h-3zM580,530h1v3h-1zM589,529h3v1h-3zM590,528h1v3h-1zM599,514h3v1h-3zM600,513h1v3h-1zM609,524h3v1h-3zM610,523h1v3h-1zM619,544h3v1h-3zM620,543h1v3h-1zM629,538h3v1h-3zM630,537h1v3h-1zM639,538h3v1h-3zM640,537h1v3h-1zM649,543h3v1h-3zM650,542h1v3h-1zM659,522h3v1h-3zM660,521h1v3h-1zM669,462h3v1h-3zM670,461h1v3h-1zM679,465h3v1h-3zM680,464h1v3h-1zM689,468h3v1h-3zM690,467h1v3h-1z" fill="#B5490F"/>
<polyline points="50,121.0 60,122.2 70,115.8 80,102.6 90,108.3 100,108.7 110,109.1 120,116.1 130,138.6 140,153.4 150,146.2 160,146.7 170,145.4 180,145.7 190,136.6 200,141.4 210,148.9 220,147.9 230,136.2 240,140.2 250,142.4 260,144.1 270,135.9 280,135.5 290,143.5 300,139.2 310,133.4 320,142.1 330,142.8 340,142.8 350,125.3 360,127.3 370,131.0 380,127.8 390,126.9 400,136.2 410,157.3 420,152.7 430,130.8 440,139.1 450,140.9 460,142.3 470,144.8 480,159.9 490,174.1 500,176.2 510,166.4 520,164.9 530,146.5 540,139.5 550,138.8 560,138.4 570,130.7 580,139.1 590,144.0 600,135.4 610,142.3 620,144.3 630,135.9 640,148.0 650,169.4 660,155.9 670,173.4 680,181.2 690,184.0" fill="none" stroke="#4E7F0E" stroke-width="1" />
<path d="M49,121h3v1h-3zM50,120h1v3h-1zM59,122h3v1h-3zM60,121h1v3h-1zM69,115h3v1h-3zM70,114h1v3h-1zM79,102h3v1h-3zM80,101h1v3h-1zM89,108h3v1h-3zM90,107h1v3h-1zM99,108h3v1h-3zM100,107h1v3h-1zM109,109h3v1h-3zM110,108h1v3h-1zM119,116h3v1h-3zM120,115h1v3h-1zM129,138h3v1h-3zM130,137h1v3h-1zM139,153h3v1h-3zM140,152h1v3h-1zM149,146h3v1h-3zM150,145h1v3h-1zM159,146h3v1h-3zM160,145h1v3h-1zM169,145h3v1h-3zM170,144h1v3h-1zM179,145h3v1h-3zM180,144h1v3h-1zM189,136h3v1h-3zM190,135h1v3h-1zM199,141h3v1h-3zM200,140h1v3h-1zM209,148h3v1h-3zM210,147h1v3h-1zM219,147h3v1h-3zM220,146h1v3h-1zM229,136h3v1h-3zM230,135h1v3h-1zM239,140h3v1h-3zM240,139h1v3h-1zM249,142h3v1h-3zM250,141h1v3h-1zM259,144h3v1h-3zM260,143h1v3h-1zM269,135h3v1h-3zM270,134h1v3h-1zM279,135h3v1h-3zM280,134h1v3h-1zM289,143h3v1h-3zM290,142h1v3h-1zM299,139h3v1h-3zM300,138h1v3h-1zM309,133h3v1h-3zM310,132h1v3h-1zM319,142h3v1h-3zM320,141h1v3h-1zM329,142h3v1h-3zM330,141h1v3h-1zM339,142h3v1h-3zM340,141h1v3h-1zM349,125h3v1h-3zM350,124h1v3h-1zM359,127h3v1h-3zM360,126h1v3h-1zM369,130h3v1h-3zM370,129h1v3h-1zM379,127h3v1h-3zM380,126h1v3h-1zM389,126h3v1h-3zM390,125h1v3h-1zM399,136h3v1h-3zM400,135h1v3h-1zM409,157h3v1h-3zM410,156h1v3h-1zM419,152h3v1h-3zM420,151h1v3h-1zM429,130h3v1h-3zM430,129h1v3h-1zM439,139h3v1h-3zM440,138h1v3h-1zM449,140h3v1h-3zM450,139h1v3h-1zM459,142h3v1h-3zM460,141h1v3h-1zM469,144h3v1h-3zM470,143h1v3h-1zM479,159h3v1h-3zM480,158h1v3h-1zM489,174h3v1h-3zM490,173h1v3h-1zM499,176h3v1h-3zM500,175h1v3h-1zM509,166h3v1h-3zM510,165h1v3h-1zM519,164h3v1h-3zM520,163h1v3h-1zM529,146h3v1h-3zM530,145h1v3h-1zM539,139h3v1h-3zM540,138h1v3h-1zM549,138h3v1h-3zM550,137h1v3h-1zM559,138h3v1h-3zM560,137h1v3h-1zM569,130h3v1h-3zM570,129h1v3h-1zM579,139h3v1h-3zM580,138h1v3h-1zM589,143h3v1h-3zM590,142h1v3h-1zM599,135h3v1h-3zM600,134h1v3h-1zM609,142h3v1h-3zM610,141h1v3h-1zM619,144h3v1h-3zM620,143h1v3h-1zM629,135h3v1h-3zM630,134h1v3h-1zM639,148h3v1h-3zM640,147h1v3h-1zM649,169h3v1h-3zM650,168h1v3h-1zM659,155h3v1h-3zM660,154h1v3h-1zM669,173h3v1h-3zM670,172h1v3h-1zM679,181h3v1h-3zM680,180h1v3h-1zM689,183h3v1h-3zM690,182h1v3h-1z" fill="#4E7F0E"/>
<polyline points="50,530.7 60,514.8 70,490.7 80,475.0 90,478.0 100,478.0 110,507.0 120,534.6 130,527.7 140,521.5 150,513.0 160,518.5 170,518.5 180,534.6 190,526.3 200,525.1 210,531.9 220,532.5 230,522.8 240,521.2 250,529.9 260,529.9 270,524.0 280,524.3 290,520.2 300,511.0 310,508.5 320,497.5 330,513.5 340,493.6 350,510.3 360,532.2 370,544.1 380,544.9 390,536.3 400,500.3 410,515.3 420,537.0 430,534.8 440,510.4 450,523.8 460,536.5 470,527.4 480,544.3 490,545.0 500,539.4 510,537.1 520,481.0 530,486.0 540,535.0 550,531.7 560,468.8 570,457.8 580,510.0 590,528.4 600,531.7 610,506.9 620,537.0 630,510.2 640,535.1 650,543.0 660,518.6 670,520.9 680,524.8 690,511.1" fill="none" stroke="#4E7F0E" stroke-width="1" />
<path d="M49,530h3v1h-3zM50,529h1v3h-1zM59,514h3v1h-3zM60,513h1v3h-1zM69,490h3v1h-3zM70,489h1v3h-1zM79,475h3v1h-3zM80,474h1v3h-1zM89,478h3v1h-3zM90,477h1v3h-1zM99,478h3v1h-3zM100,477h1v3h-1zM109,507h3v1h-3zM110,506h1v3h-1zM119,534h3v1h-3zM120,533h1v3h-1zM129,527h3v1h-3zM130,526h1v3h-1zM139,521h3v1h-3zM140,520h1v3h-1zM149,513h3v1h-3zM150,512h1v3h-1zM159,518h3v1h-3zM160,517h1v3h-1zM169,518h3v1h-3zM170,517h1v3h-1zM179,534h3v1h-3zM180,533h1v3h-1zM189,526h3v1h-3zM190,525h1v3h-1zM199,525h3v1h-3zM200,524h1v3h-1zM209,531h3v1h-3zM210,530h1v3h-1zM219,532h3v1h-3zM220,531h1v3h-1zM229,522h3v1h-3zM230,521h1v3h-1zM239,521h3v1h-3zM240,520h1v3h-1zM249,529h3v1h-3zM250,528h1v3h-1zM259,529h3v1h-3zM260,528h1v3h-1zM269,524h3v1h-3zM270,523h1v3h-1zM279,524h3v1h-3zM280,523h1v3h-1zM289,520h3v1h-3zM290,519h1v3h-1zM299,510h3v1h-3zM300,509h1v3h-1zM309,508h3v1h-3zM310,507h1v3h-1zM319,497h3v1h-3zM320,496h1v3h-1zM329,513h3v1h-3zM330,512h1v3h-1zM339,493h3v1h-3zM340,492h1v3h-1zM349,510h3v1h-3zM350,509h1v3h-1zM359,532h3v1h-3zM360,531h1v3h-1zM369,544h3v1h-3zM370,543h1v3h-1zM379,544h3v1h-3zM380,543h1v3h-1zM389,536h3v1h-3zM390,535h1v3h-1zM399,500h3v1h-3zM400,499h1v3h-1zM409,515h3v1h-3zM410,514h1v3h-1zM419,537h3v1h-3zM420,536h1v3h-1zM429,534h3v1h-3zM430,533h1v3h-1zM439,510h3v1h-3zM440,509h1v3h-1zM449,523h3v1h-3zM450,522h1v3h-1zM459,536h3v1h-3zM460,535h1v3h-1zM469,527h3v1h-3zM470,526h1v3h-1zM479,544h3v1h-3zM480,543h1v3h-1zM489,544h3v1h-3zM490,543h1v3h-1zM499,539h3v1h-3zM500,538h1v3h-1zM509,537h3v1h-3zM510,536h1v3h-1zM519,481h3v1h-3zM520,480h1v3h-1zM529,486h3v1h-3zM530,485h1v3h-1zM539,535h3v1h-3zM540,534h1v3h-1zM549,531h3v1h-3zM550,530h1v3h-1zM559,468h3v1h-3zM560,467h1v3h-1zM569,457h3v1h-3zM570,456h1v3h-1zM579,510h3v1h-3zM580,509h1v3h-1zM589,528h3v1h-3zM590,527h1v3h-1zM599,531h3v1h-3zM600,530h1v3h-1zM609,506h3v1h-3zM610,505h1v3h-1zM619,536h3v1h-3zM620,535h1v3h-1zM629,510h3v1h-3zM630,509h1v3h-1zM639,535h3v1h-3zM640,534h1v3h-1zM649,543h3v1h-3zM650,542h1v3h-1zM659,518h3v1h-3zM660,517h1v3h-1zM669,520h3v1h-3zM670,519h1v3h-1zM679,524h3v1h-3zM680,523h1v3h-1zM689,511h3v1h-3zM690,510h1v3h-1z" fill="#4E7F0E"/>
<polyline points="50,124.0 60,127.4 70,123.2 80,123.6 90,123.8 100,121.9 110,137.2 120,162.9 130,171.8 140,182.3 150,169.7 160,167.6 170,168.4 180,169.7 190,156.1 200,170.1 210,175.3 220,172.6 230,167.1 240,171.9 250,171.4 260,177.8 270,168.5 280,165.6 290,179.3 300,173.1 310,158.8 320,162.6 330,171.0 340,171.5 350,168.2 360,170.5 370,158.3 380,158.8 390,157.1 400,169.7 410,174.6 420,171.1 430,157.4 440,160.5 450,184.3 460,193.5 470,190.4 480,202.1 490,205.5 500,195.9 510,200.4 520,191.8 530,199.2 540,199.5 550,193.6 560,208.3 570,199.5 580,187.4 590,197.1 600,188.8 610,208.1 620,179.1 630,187.4 640,188.2 650,194.2 660,180.1 670,187.9 680,177.8 690,200.5" fill="none" stroke="#0A7CFF" stroke-width="1" />
<path d="M49,124h3v1h-3zM50,123h1v3h-1zM59,127h3v1h-3zM60,126h1v3h-1zM69,123h3v1h-3zM70,122h1v3h-1zM79,123h3v1h-3zM80,122h1v3h-1zM89,123h3v1h-3zM90,122h1v3h-1zM99,121h3v1h-3zM100,120h1v3h-1zM109,137h3v1h-3zM110,136h1v3h-1zM119,162h3v1h-3zM120,161h1v3h-1zM129,171h3v1h-3zM130,170h1v3h-1zM139,182h3v1h-3zM140,181h1v3h-1zM149,169h3v1h-3zM150,168h1v3h-1zM159,167h3v1h-3zM160,166h1v3h-1zM169,168h3v1h-3zM170,167h1v3h-1zM179,169h3v1h-3zM180,168h1v3h-1zM189,156h3v1h-3zM190,155h1v3h-1zM199,170h3v1h-3zM200,169h1v3h-1zM209,175h3v1h-3zM210,174h1v3h-1zM219,172h3v1h-3zM220,171h1v3h-1zM229,167h3v1h-3zM230,166h1v3h-1zM239,171h3v1h-3zM240,170h1v3h-1zM249,171h3v1h-3zM250,170h1v3h-1zM259,177h3v1h-3zM260,176h1v3h-1zM269,168h3v1h-3zM270,167h1v3h-1zM279,165h3v1h-3zM280,164h1v3h-1zM289,179h3v1h-3zM290,178h1v3h-1zM299,173h3v1h-3zM300,172h1v3h-1zM309,158h3v1h-3zM310,157h1v3h-1zM319,162h3v1h-3zM320,161h1v3h-1zM329,171h3v1h-3zM330,170h1v3h-1zM339,171h3v1h-3zM340,170h1v3h-1zM349,168h3v1h-3zM350,167h1v3h-1zM359,170h3v1h-3zM360,169h1v3h-1zM369,158h3v1h-3zM370,157h1v3h-1zM379,158h3v1h-3zM380,157h1v3h-1zM389,157h3v1h-3zM390,156h1v3h-1zM399,169h3v1h-3zM400,168h1v3h-1zM409,174h3v1h-3zM410,173h1v3h-1zM419,171h3v1h-3zM420,170h1v3h-1zM429,157h3v1h-3zM430,156h1v3h-1zM439,160h3v1h-3zM440,159h1v3h-1zM449,184h3v1h-3zM450,183h1v3h-1zM459,193h3v1h-3zM460,192h1v3h-1zM469,190h3v1h-3zM470,189h1v3h-1zM479,202h3v1h-3zM480,201h1v3h-1zM489,205h3v1h-3zM490,204h1v3h-1zM499,195h3v1h-3zM500,194h1v3h-1zM509,200h3v1h-3zM510,199h1v3h-1zM519,191h3v1h-3zM520,190h1v3h-1zM529,199h3v1h-3zM530,198h1v3h-1zM539,199h3v1h-3zM540,198h1v3h-1zM549,193h3v1h-3zM550,192h1v3h-1zM559,208h3v1h-3zM560,207h1v3h-1zM569,199h3v1h-3zM570,198h1v3h-1zM579,187h3v1h-3zM580,186h1v3h-1zM589,197h3v1h-3zM590,196h1v3h-1zM599,188h3v1h-3zM600,187h1v3h-1zM609,208h3v1h-3zM610,207h1v3h-1zM619,179h3v1h-3zM620,178h1v3h-1zM629,187h3v1h-3zM630,186h1v3h-1zM639,188h3v1h-3zM640,187h1v3h-1zM649,194h3v1h-3zM650,193h1v3h-1zM659,180h3v1h-3zM660,179h1v3h-1zM669,187h3v1h-3zM670,186h1v3h-1zM679,177h3v1h-3zM680,176h1v3h-1zM689,200h3v1h-3zM690,199h1v3h-1z" fill="#0A7CFF"/>
<polyline points="50,523.3 60,511.7 70,480.3 80,476.1 90,492.6 100,504.2 110,511.4 120,517.4 130,505.4 140,503.0 150,503.2 160,498.1 170,504.8 180,512.5 190,499.3 200,502.0 210,516.8 220,524.3 230,509.7 240,508.5 250,518.0 260,520.1 270,507.3 280,506.0 290,499.2 300,495.1 310,514.3 320,512.4 330,517.2 340,518.7 350,514.7 360,524.9 370,503.8 380,507.8 390,521.5 400,525.4 410,522.2 420,520.7 430,506.4 440,519.2 450,516.8 460,511.4 470,540.9 480,535.4 490,515.8 500,518.8 510,518.1 520,510.9 530,525.9 540,526.4 550,534.6 560,530.7 570,533.1 580,531.9 590,514.5 600,518.2 610,525.6 620,526.8 630,523.1 640,509.3 650,530.3 660,518.5 670,500.2 680,508.6 690,510.9" fill="none" stroke="#0A7CFF" stroke-width="1" />
<path d="M49,523h3v1h-3zM50,522h1v3h-1zM59,511h3v1h-3zM60,510h1v3h-1zM69,480h3v1h-3zM70,479h1v3h-1zM79,476h3v1h-3zM80,475h1v3h-1zM89,492h3v1h-3zM90,491h1v3h-1zM99,504h3v1h-3zM100,503h1v3h-1zM109,511h3v1h-3zM110,510h1v3h-1zM119,517h3v1h-3zM120,516h1v3h-1zM129,505h3v1h-3zM130,504h1v3h-1zM139,503h3v1h-3zM140,502h1v3h-1zM149,503h3v1h-3zM150,502h1v3h-1zM159,498h3v1h-3zM160,497h1v3h-1zM169,504h3v1h-3zM170,503h1v3h-1zM179,512h3v1h-3zM180,511h1v3h-1zM189,499h3v1h-3zM190,498h1v3h-1zM199,502h3v1h-3zM200,501h1v3h-1zM209,516h3v1h-3zM210,515h1v3h-1zM219,524h3v1h-3zM220,523h1v3h-1zM229,509h3v1h-3zM230,508h1v3h-1zM239,508h3v1h-3zM240,507h1v3h-1zM249,517h3v1h-3zM250,516h1v3h-1zM259,520h3v1h-3zM260,519h1v3h-1zM269,507h3v1h-3zM270,506h1v3h-1zM279,505h3v1h-3zM280,504h1v3h-1zM289,499h3v1h-3zM290,498h1v3h-1zM299,495h3v1h-3zM300,494h1v3h-1zM309,514h3v1h-3zM310,513h1v3h-1zM319,512h3v1h-3zM320,511h1v3h-1zM329,517h3v1h-3zM330,516h1v3h-1zM339,518h3v1h-3zM340,517h1v3h-1zM349,514h3v1h-3zM350,513h1v3h-1zM359,524h3v1h-3zM360,523h1v3h-1zM369,503h3v1h-3zM370,502h1v3h-1zM379,507h3v1h-3zM380,506h1v3h-1zM389,521h3v1h-3zM390,520h1v3h-1zM399,525h3v1h-3zM400,524h1v3h-1zM409,522h3v1h-3zM410,521h1v3h-1zM419,520h3v1h-3zM420,519h1v3h-1zM429,506h3v1h-3zM430,505h1v3h-1zM439,519h3v1h-3zM440,518h1v3h-1zM449,516h3v1h-3zM450,515h1v3h-1zM459,511h3v1h-3zM460,510h1v3h-1zM469,540h3v1h-3zM470,539h1v3h-1zM479,535h3v1h-3zM480,534h1v3h-1zM489,515h3v1h-3zM490,514h1v3h-1zM499,518h3v1h-3zM500,517h1v3h-1zM509,518h3v1h-3zM510,517h1v3h-1zM519,510h3v1h-3zM520,509h1v3h-1zM529,525h3v1h-3zM530,524h1v3h-1zM539,526h3v1h-3zM540,525h1v3h-1zM549,534h3v1h-3zM550,533h1v3h-1zM559,530h3v1h-3zM560,529h1v3h-1zM569,533h3v1h-3zM570,532h1v3h-1zM579,531h3v1h-3zM580,530h1v3h-1zM589,514h3v1h-3zM590,513h1v3h-1zM599,518h3v1h-3zM600,517h1v3h-1zM609,525h3v1h-3zM610,524h1v3h-1zM619,526h3v1h-3zM620,525h1v3h-1zM629,523h3v1h-3zM630,522h1v3h-1zM639,509h3v1h-3zM640,508h1v3h-1zM649,530h3v1h-3zM650,529h1v3h-1zM659,518h3v1h-3zM660,517h1v3h-1zM669,500h3v1h-3zM670,499h1v3h-1zM679,508h3v1h-3zM680,507h1v3h-1zM689,510h3v1h-3zM690,509h1v3h-1z" fill="#0A7CFF"/>
<polyline points="50,121.8 60,123.8 70,120.2 80,115.6 90,112.4 100,111.7 110,113.1 120,128.1 130,144.0 140,155.9 150,152.7 160,154.5 170,156.5 180,161.1 190,150.5 200,153.0 210,155.9 220,150.7 230,140.3 240,143.1 250,148.0 260,147.6 270,143.2 280,135.5 290,143.7 300,149.9 310,146.6 320,146.0 330,149.8 340,162.7 350,144.7 360,137.9 370,148.1 380,159.8 390,144.0 400,147.1 410,129.2 420,130.6 430,131.6 440,152.9 450,145.4 460,168.8 470,163.3 480,156.6 490,158.9 500,171.4 510,142.0 520,132.7 530,134.2 540,132.7 550,124.5 560,133.0 570,138.0 580,134.0 590,169.7 600,180.8 610,175.1 620,178.4 630,192.1 640,172.6 650,173.7 660,175.2 670,158.8 680,159.6 690,164.0" fill="none" stroke="#E8D5A8" stroke-width="1" />
<path d="M49,121h3v1h-3zM50,120h1v3h-1zM59,123h3v1h-3zM60,122h1v3h-1zM69,120h3v1h-3zM70,119h1v3h-1zM79,115h3v1h-3zM80,114h1v3h-1zM89,112h3v1h-3zM90,111h1v3h-1zM99,111h3v1h-3zM100,110h1v3h-1zM109,113h3v1h-3zM110,112h1v3h-1zM119,128h3v1h-3zM120,127h1v3h-1zM129,144h3v1h-3zM130,143h1v3h-1zM139,155h3v1h-3zM140,154h1v3h-1zM149,152h3v1h-3zM150,151h1v3h-1zM159,154h3v1h-3zM160,153h1v3h-1zM169,156h3v1h-3zM170,155h1v3h-1zM179,161h3v1h-3zM180,160h1v3h-1zM189,150h3v1h-3zM190,149h1v3h-1zM199,153h3v1h-3zM200,152h1v3h-1zM209,155h3v1h-3zM210,154h1v3h-1zM219,150h3v1h-3zM220,149h1v3h-1zM229,140h3v1h-3zM230,139h1v3h-1zM239,143h3v1h-3zM240,142h1v3h-1zM249,148h3v1h-3zM250,147h1v3h-1zM259,147h3v1h-3zM260,146h1v3h-1zM269,143h3v1h-3zM270,142h1v3h-1zM279,135h3v1h-3zM280,134h1v3h-1zM289,143h3v1h-3zM290,142h1v3h-1zM299,149h3v1h-3zM300,148h1v3h-1zM309,146h3v1h-3zM310,145h1v3h-1zM319,146h3v1h-3zM320,145h1v3h-1zM329,149h3v1h-3zM330,148h1v3h-1zM339,162h3v1h-3zM340,161h1v3h-1zM349,144h3v1h-3zM350,143h1v3h-1zM359,137h3v1h-3zM360,136h1v3h-1zM369,148h3v1h-3zM370,147h1v3h-1zM379,159h3v1h-3zM380,158h1v3h-1zM389,144h3v1h-3zM390,143h1v3h-1zM399,147h3v1h-3zM400,146h1v3h-1zM409,129h3v1h-3zM410,128h1v3h-1zM419,130h3v1h-3zM420,129h1v3h-1zM429,131h3v1h-3zM430,130h1v3h-1zM439,152h3v1h-3zM440,151h1v3h-1zM449,145h3v1h-3zM450,144h1v3h-1zM459,168h3v1h-3zM460,167h1v3h-1zM469,163h3v1h-3zM470,162h1v3h-1zM479,156h3v1h-3zM480,155h1v3h-1zM489,158h3v1h-3zM490,157h1v3h-1zM499,171h3v1h-3zM500,170h1v3h-1zM509,142h3v1h-3zM510,141h1v3h-1zM519,132h3v1h-3zM520,131h1v3h-1zM529,134h3v1h-3zM530,133h1v3h-1zM539,132h3v1h-3zM540,131h1v3h-1zM549,124h3v1h-3zM550,123h1v3h-1zM559,133h3v1h-3zM560,132h1v3h-1zM569,138h3v1h-3zM570,137h1v3h-1zM579,134h3v1h-3zM580,133h1v3h-1zM589,169h3v1h-3zM590,168h1v3h-1zM599,180h3v1h-3zM600,179h1v3h-1zM609,175h3v1h-3zM610,174h1v3h-1zM619,178h3v1h-3zM620,177h1v3h-1zM629,192h3v1h-3zM630,191h1v3h-1zM639,172h3v1h-3zM640,171h1v3h-1zM649,173h3v1h-3zM650,172h1v3h-1zM659,175h3v1h-3zM660,174h1v3h-1zM669,158h3v1h-3zM670,157h1v3h-1zM679,159h3v1h-3zM680,158h1v3h-1zM689,163h3v1h-3zM690,162h1v3h-1z" fill="#E8D5A8"/>
<polyline points="50,533.0 60,515.1 70,494.2 80,498.1 90,526.1 100,533.2 110,539.4 120,538.1 130,527.3 140,515.7 150,518.5 160,512.8 170,530.9 180,525.1 190,533.7 200,531.7 210,524.4 220,531.2 230,532.9 240,519.2 250,525.9 260,529.4 270,528.7 280,542.2 290,537.8 300,521.4 310,514.6 320,491.7 330,505.2 340,519.6 350,517.2 360,523.8 370,515.5 380,522.0 390,532.1 400,537.2 410,511.6 420,542.7 430,544.5 440,539.0 450,532.9 460,529.3 470,510.5 480,524.2 490,539.5 500,537.8 510,516.3 520,503.8 530,521.9 540,535.4 550,544.6 560,465.7 570,470.0 580,500.0 590,464.0 600,465.7 610,490.0 620,529.9 630,512.1 640,522.5 650,537.7 660,544.5 670,541.1 680,519.7 690,542.4" fill="none" stroke="#E8D5A8" stroke-width="1" />
<path d="M49,532h3v1h-3zM50,531h1v3h-1zM59,515h3v1h-3zM60,514h1v3h-1zM69,494h3v1h-3zM70,493h1v3h-1zM79,498h3v1h-3zM80,497h1v3h-1zM89,526h3v1h-3zM90,525h1v3h-1zM99,533h3v1h-3zM100,532h1v3h-1zM109,539h3v1h-3zM110,538h1v3h-1zM119,538h3v1h-3zM120,537h1v3h-1zM129,527h3v1h-3zM130,526h1v3h-1zM139,515h3v1h-3zM140,514h1v3h-1zM149,518h3v1h-3zM150,517h1v3h-1zM159,512h3v1h-3zM160,511h1v3h-1zM169,530h3v1h-3zM170,529h1v3h-1zM179,525h3v1h-3zM180,524h1v3h-1zM189,533h3v1h-3zM190,532h1v3h-1zM199,531h3v1h-3zM200,530h1v3h-1zM209,524h3v1h-3zM210,523h1v3h-1zM219,531h3v1h-3zM220,530h1v3h-1zM229,532h3v1h-3zM230,531h1v3h-1zM239,519h3v1h-3zM240,518h1v3h-1zM249,525h3v1h-3zM250,524h1v3h-1zM259,529h3v1h-3zM260,528h1v3h-1zM269,528h3v1h-3zM270,527h1v3h-1zM279,542h3v1h-3zM280,541h1v3h-1zM289,537h3v1h-3zM290,536h1v3h-1zM299,521h3v1h-3zM300,520h1v3h-1zM309,514h3v1h-3zM310,513h1v3h-1zM319,491h3v1h-3zM320,490h1v3h-1zM329,505h3v1h-3zM330,504h1v3h-1zM339,519h3v1h-3zM340,518h1v3h-1zM349,517h3v1h-3zM350,516h1v3h-1zM359,523h3v1h-3zM360,522h1v3h-1zM369,515h3v1h-3zM370,514h1v3h-1zM379,521h3v1h-3zM380,520h1v3h-1zM389,532h3v1h-3zM390,531h1v3h-1zM399,537h3v1h-3zM400,536h1v3h-1zM409,511h3v1h-3zM410,510h1v3h-1zM419,542h3v1h-3zM420,541h1v3h-1zM429,544h3v1h-3zM430,543h1v3h-1zM439,538h3v1h-3zM440,537h1v3h-1zM449,532h3v1h-3zM450,531h1v3h-1zM459,529h3v1h-3zM460,528h1v3h-1zM469,510h3v1h-3zM470,509h1v3h-1zM479,524h3v1h-3zM480,523h1v3h-1zM489,539h3v1h-3zM490,538h1v3h-1zM499,537h3v1h-3zM500,536h1v3h-1zM509,516h3v1h-3zM510,515h1v3h-1zM519,503h3v1h-3zM520,502h1v3h-1zM529,521h3v1h-3zM530,520h1v3h-1zM539,535h3v1h-3zM540,534h1v3h-1zM549,544h3v1h-3zM550,543h1v3h-1zM559,465h3v1h-3zM560,464h1v3h-1zM569,470h3v1h-3zM570,469h1v3h-1zM579,500h3v1h-3zM580,499h1v3h-1zM589,464h3v1h-3zM590,463h1v3h-1zM599,465h3v1h-3zM600,464h1v3h-1zM609,490h3v1h-3zM610,489h1v3h-1zM619,529h3v1h-3zM620,528h1v3h-1zM629,512h3v1h-3zM630,511h1v3h-1zM639,522h3v1h-3zM640,521h1v3h-1zM649,537h3v1h-3zM650,536h1v3h-1zM659,544h3v1h-3zM660,543h1v3h-1zM669,541h3v1h-3zM670,540h1v3h-1zM679,519h3v1h-3zM680,518h1v3h-1zM689,542h3v1h-3zM690,541h1v3h-1z" fill="#E8D5A8"/>
<polyline points="50,123.0 60,125.3 70,122.3 80,120.6 90,123.5 100,119.7 110,131.8 120,156.2 130,159.1 140,167.7 150,161.9 160,165.6 170,167.8 180,168.7 190,151.2 200,158.0 210,165.4 220,172.1 230,172.6 240,173.9 250,173.4 260,173.6 270,163.5 280,151.7 290,163.4 300,165.2 310,157.3 320,177.5 330,180.3 340,178.9 350,174.0 360,118.4 370,127.0 380,121.6 390,116.9 400,121.6 410,121.6 420,135.0 430,201.1 440,205.6 450,204.8 460,203.0 470,198.6 480,182.8 490,190.8 500,174.6 510,185.9 520,181.4 530,190.2 540,186.8 550,164.7 560,165.1 570,192.2 580,202.5 590,208.8 600,191.2 610,204.2 620,179.0 630,184.4 640,192.6 650,179.4 660,173.3 670,158.3 680,174.5 690,183.9" fill="none" stroke="#3A87B7" stroke-width="1" />
<path d="M49,123h3v1h-3zM50,122h1v3h-1zM59,125h3v1h-3zM60,124h1v3h-1zM69,122h3v1h-3zM70,121h1v3h-1zM79,120h3v1h-3zM80,119h1v3h-1zM89,123h3v1h-3zM90,122h1v3h-1zM99,119h3v1h-3zM100,118h1v3h-1zM109,131h3v1h-3zM110,130h1v3h-1zM119,156h3v1h-3zM120,155h1v3h-1zM129,159h3v1h-3zM130,158h1v3h-1zM139,167h3v1h-3zM140,166h1v3h-1zM149,161h3v1h-3zM150,160h1v3h-1zM159,165h3v1h-3zM160,164h1v3h-1zM169,167h3v1h-3zM170,166h1v3h-1zM179,168h3v1h-3zM180,167h1v3h-1zM189,151h3v1h-3zM190,150h1v3h-1zM199,158h3v1h-3zM200,157h1v3h-1zM209,165h3v1h-3zM210,164h1v3h-1zM219,172h3v1h-3zM220,171h1v3h-1zM229,172h3v1h-3zM230,171h1v3h-1zM239,173h3v1h-3zM240,172h1v3h-1zM249,173h3v1h-3zM250,172h1v3h-1zM259,173h3v1h-3zM260,172h1v3h-1zM269,163h3v1h-3zM270,162h1v3h-1zM279,151h3v1h-3zM280,150h1v3h-1zM289,163h3v1h-3zM290,162h1v3h-1zM299,165h3v1h-3zM300,164h1v3h-1zM309,157h3v1h-3zM310,156h1v3h-1zM319,177h3v1h-3zM320,176h1v3h-1zM329,180h3v1h-3zM330,179h1v3h-1zM339,178h3v1h-3zM340,177h1v3h-1zM349,174h3v1h-3zM350,173h1v3h-1zM359,118h3v1h-3zM360,117h1v3h-1zM369,127h3v1h-3zM370,126h1v3h-1zM379,121h3v1h-3zM380,120h1v3h-1zM389,116h3v1h-3zM390,115h1v3h-1zM399,121h3v1h-3zM400,120h1v3h-1zM409,121h3v1h-3zM410,120h1v3h-1zM419,135h3v1h-3zM420,134h1v3h-1zM429,201h3v1h-3zM430,200h1v3h-1zM439,205h3v1h-3zM440,204h1v3h-1zM449,204h3v1h-3zM450,203h1v3h-1zM459,202h3v1h-3zM460,201h1v3h-1zM469,198h3v1h-3zM470,197h1v3h-1zM479,182h3v1h-3zM480,181h1v3h-1zM489,190h3v1h-3zM490,189h1v3h-1zM499,174h3v1h-3zM500,173h1v3h-1zM509,185h3v1h-3zM510,184h1v3h-1zM519,181h3v1h-3zM520,180h1v3h-1zM529,190h3v1h-3zM530,189h1v3h-1zM539,186h3v1h-3zM540,185h1v3h-1zM549,164h3v1h-3zM550,163h1v3h-1zM559,165h3v1h-3zM560,164h1v3h-1zM569,192h3v1h-3zM570,191h1v3h-1zM579,202h3v1h-3zM580,201h1v3h-1zM589,208h3v1h-3zM590,207h1v3h-1zM599,191h3v1h-3zM600,190h1v3h-1zM609,204h3v1h-3zM610,203h1v3h-1zM619,178h3v1h-3zM620,177h1v3h-1zM629,184h3v1h-3zM630,183h1v3h-1zM639,192h3v1h-3zM640,191h1v3h-1zM649,179h3v1h-3zM650,178h1v3h-1zM659,173h3v1h-3zM660,172h1v3h-1zM669,158h3v1h-3zM670,157h1v3h-1zM679,174h3v1h-3zM680,173h1v3h-1zM689,183h3v1h-3zM690,182h1v3h-1z" fill="#3A87B7"/>
<polyline points="50,526.4 60,512.3 70,482.0 80,477.8 90,477.3 100,493.2 110,514.7 120,524.1 130,513.2 140,508.4 150,506.6 160,499.3 170,494.2 180,509.1 190,496.3 200,504.5 210,510.1 220,514.6 230,500.7 240,517.0 250,520.7 260,519.2 270,518.7 280,508.8 290,513.1 300,509.6 310,492.3 320,503.0 330,512.9 340,509.5 350,512.9 360,517.5 370,543.5 380,543.5 390,537.3 400,530.5 410,525.5 420,533.1 430,524.8 440,510.5 450,525.7 460,510.6 470,509.2 480,528.0 490,509.5 500,523.5 510,497.0 520,520.9 530,507.7 540,526.0 550,521.0 560,524.1 570,533.3 580,501.5 590,510.4 600,492.6 610,508.1 620,519.0 630,511.9 640,536.6 650,496.4 660,499.5 670,540.2 680,490.5 690,495.6" fill="none" stroke="#3A87B7" stroke-width="1" />
<path d="M49,526h3v1h-3zM50,525h1v3h-1zM59,512h3v1h-3zM60,511h1v3h-1zM69,482h3v1h-3zM70,481h1v3h-1zM79,477h3v1h-3zM80,476h1v3h-1zM89,477h3v1h-3zM90,476h1v3h-1zM99,493h3v1h-3zM100,492h1v3h-1zM109,514h3v1h-3zM110,513h1v3h-1zM119,524h3v1h-3zM120,523h1v3h-1zM129,513h3v1h-3zM130,512h1v3h-1zM139,508h3v1h-3zM140,507h1v3h-1zM149,506h3v1h-3zM150,505h1v3h-1zM159,499h3v1h-3zM160,498h1v3h-1zM169,494h3v1h-3zM170,493h1v3h-1zM179,509h3v1h-3zM180,508h1v3h-1zM189,496h3v1h-3zM190,495h1v3h-1zM199,504h3v1h-3zM200,503h1v3h-1zM209,510h3v1h-3zM210,509h1v3h-1zM219,514h3v1h-3zM220,513h1v3h-1zM229,500h3v1h-3zM230,499h1v3h-1zM239,517h3v1h-3zM240,516h1v3h-1zM249,520h3v1h-3zM250,519h1v3h-1zM259,519h3v1h-3zM260,518h1v3h-1zM269,518h3v1h-3zM270,517h1v3h-1zM279,508h3v1h-3zM280,507h1v3h-1zM289,513h3v1h-3zM290,512h1v3h-1zM299,509h3v1h-3zM300,508h1v3h-1zM309,492h3v1h-3zM310,491h1v3h-1zM319,502h3v1h-3zM320,501h1v3h-1zM329,512h3v1h-3zM330,511h1v3h-1zM339,509h3v1h-3zM340,508h1v3h-1zM349,512h3v1h-3zM350,511h1v3h-1zM359,517h3v1h-3zM360,516h1v3h-1zM369,543h3v1h-3zM370,542h1v3h-1zM379,543h3v1h-3zM380,542h1v3h-1zM389,537h3v1h-3zM390,536h1v3h-1zM399,530h3v1h-3zM400,529h1v3h-1zM409,525h3v1h-3zM410,524h1v3h-1zM419,533h3v1h-3zM420,532h1v3h-1zM429,524h3v1h-3zM430,523h1v3h-1zM439,510h3v1h-3zM440,509h1v3h-1zM449,525h3v1h-3zM450,524h1v3h-1zM459,510h3v1h-3zM460,509h1v3h-1zM469,509h3v1h-3zM470,508h1v3h-1zM479,527h3v1h-3zM480,526h1v3h-1zM489,509h3v1h-3zM490,508h1v3h-1zM499,523h3v1h-3zM500,522h1v3h-1zM509,496h3v1h-3zM510,495h1v3h-1zM519,520h3v1h-3zM520,519h1v3h-1zM529,507h3v1h-3zM530,506h1v3h-1zM539,526h3v1h-3zM540,525h1v3h-1zM549,521h3v1h-3zM550,520h1v3h-1zM559,524h3v1h-3zM560,523h1v3h-1zM569,533h3v1h-3zM570,532h1v3h-1zM579,501h3v1h-3zM580,500h1v3h-1zM589,510h3v1h-3zM590,509h1v3h-1zM599,492h3v1h-3zM600,491h1v3h-1zM609,508h3v1h-3zM610,507h1v3h-1zM619,518h3v1h-3zM620,517h1v3h-1zM629,511h3v1h-3zM630,510h1v3h-1zM639,536h3v1h-3zM640,535h1v3h-1zM649,496h3v1h-3zM650,495h1v3h-1zM659,499h3v1h-3zM660,498h1v3h-1zM669,540h3v1h-3zM670,539h1v3h-1zM679,490h3v1h-3zM680,489h1v3h-1zM689,495h3v1h-3zM690,494h1v3h-1z" fill="#3A87B7"/>
<polyline points="50,120.3 60,121.6 70,115.7 80,103.4 90,107.7 100,108.8 110,108.7 120,114.8 130,137.3 140,152.7 150,140.1 160,140.4 170,143.9 180,144.3 190,131.2 200,135.9 210,142.2 220,145.8 230,135.4 240,139.7 250,151.1 260,152.0 270,129.1 280,132.2 290,183.2 300,176.0 310,142.8 320,145.2 330,150.0 340,151.9 350,139.7 360,131.8 370,135.1 380,126.7 390,126.6 400,127.0 410,135.2 420,150.1 430,124.7 440,141.3 450,144.2 460,138.8 470,144.5 480,142.9 490,142.2 500,141.0 510,142.0 520,150.0 530,158.0 540,142.4 550,129.0 560,130.3 570,131.6 580,134.7 590,138.8 600,138.3 610,143.4 620,137.9 630,134.2 640,129.9 650,136.6 660,127.3 670,133.9 680,138.9 690,139.1" fill="none" stroke="#E4A656" stroke-width="1" />
<path d="M49,120h3v1h-3zM50,119h1v3h-1zM59,121h3v1h-3zM60,120h1v3h-1zM69,115h3v1h-3zM70,114h1v3h-1zM79,103h3v1h-3zM80,102h1v3h-1zM89,107h3v1h-3zM90,106h1v3h-1zM99,108h3v1h-3zM100,107h1v3h-1zM109,108h3v1h-3zM110,107h1v3h-1zM119,114h3v1h-3zM120,113h1v3h-1zM129,137h3v1h-3zM130,136h1v3h-1zM139,152h3v1h-3zM140,151h1v3h-1zM149,140h3v1h-3zM150,139h1v3h-1zM159,140h3v1h-3zM160,139h1v3h-1zM169,143h3v1h-3zM170,142h1v3h-1zM179,144h3v1h-3zM180,143h1v3h-1zM189,131h3v1h-3zM190,130h1v3h-1zM199,135h3v1h-3zM200,134h1v3h-1zM209,142h3v1h-3zM210,141h1v3h-1zM219,145h3v1h-3zM220,144h1v3h-1zM229,135h3v1h-3zM230,134h1v3h-1zM239,139h3v1h-3zM240,138h1v3h-1zM249,151h3v1h-3zM250,150h1v3h-1zM259,151h3v1h-3zM260,150h1v3h-1zM269,129h3v1h-3zM270,128h1v3h-1zM279,132h3v1h-3zM280,131h1v3h-1zM289,183h3v1h-3zM290,182h1v3h-1zM299,176h3v1h-3zM300,175h1v3h-1zM309,142h3v1h-3zM310,141h1v3h-1zM319,145h3v1h-3zM320,144h1v3h-1zM329,150h3v1h-3zM330,149h1v3h-1zM339,151h3v1h-3zM340,150h1v3h-1zM349,139h3v1h-3zM350,138h1v3h-1zM359,131h3v1h-3zM360,130h1v3h-1zM369,135h3v1h-3zM370,134h1v3h-1zM379,126h3v1h-3zM380,125h1v3h-1zM389,126h3v1h-3zM390,125h1v3h-1zM399,126h3v1h-3zM400,125h1v3h-1zM409,135h3v1h-3zM410,134h1v3h-1zM419,150h3v1h-3zM420,149h1v3h-1zM429,124h3v1h-3zM430,123h1v3h-1zM439,141h3v1h-3zM440,140h1v3h-1zM449,144h3v1h-3zM450,143h1v3h-1zM459,138h3v1h-3zM460,137h1v3h-1zM469,144h3v1h-3zM470,143h1v3h-1zM479,142h3v1h-3zM480,141h1v3h-1zM489,142h3v1h-3zM490,141h1v3h-1zM499,141h3v1h-3zM500,140h1v3h-1zM509,142h3v1h-3zM510,141h1v3h-1zM519,150h3v1h-3zM520,149h1v3h-1zM529,158h3v1h-3zM530,157h1v3h-1zM539,142h3v1h-3zM540,141h1v3h-1zM549,128h3v1h-3zM550,127h1v3h-1zM559,130h3v1h-3zM560,129h1v3h-1zM569,131h3v1h-3zM570,130h1v3h-1zM579,134h3v1h-3zM580,133h1v3h-1zM589,138h3v1h-3zM590,137h1v3h-1zM599,138h3v1h-3zM600,137h1v3h-1zM609,143h3v1h-3zM610,142h1v3h-1zM619,137h3v1h-3zM620,136h1v3h-1zM629,134h3v1h-3zM630,133h1v3h-1zM639,129h3v1h-3zM640,128h1v3h-1zM649,136h3v1h-3zM650,135h1v3h-1zM659,127h3v1h-3zM660,126h1v3h-1zM669,133h3v1h-3zM670,132h1v3h-1zM679,138h3v1h-3zM680,137h1v3h-1zM689,139h3v1h-3zM690,138h1v3h-1z" fill="#E4A656"/>
<polyline points="50,533.6 60,516.8 70,493.7 80,508.9 90,518.8 100,529.7 110,539.4 120,538.2 130,536.4 140,529.8 150,532.8 160,526.5 170,536.3 180,524.8 190,511.5 200,521.5 210,519.2 220,532.8 230,500.0 240,473.8 250,472.7 260,492.2 270,502.0 280,515.0 290,515.1 300,536.7 310,524.8 320,524.4 330,533.7 340,539.8 350,522.6 360,542.4 370,534.7 380,544.8 390,541.0 400,533.4 410,525.1 420,519.0 430,515.5 440,505.4 450,515.7 460,532.6 470,535.2 480,514.1 490,509.1 500,515.1 510,508.0 520,523.3 530,538.9 540,535.7 550,539.3 560,533.8 570,511.9 580,544.4 590,542.4 600,541.0 610,539.9 620,527.7 630,510.9 640,522.3 650,522.0 660,520.1 670,513.5 680,531.8 690,530.2" fill="none" stroke="#E4A656" stroke-width="1" />
<path d="M49,533h3v1h-3zM50,532h1v3h-1zM59,516h3v1h-3zM60,515h1v3h-1zM69,493h3v1h-3zM70,492h1v3h-1zM79,508h3v1h-3zM80,507h1v3h-1zM89,518h3v1h-3zM90,517h1v3h-1zM99,529h3v1h-3zM100,528h1v3h-1zM109,539h3v1h-3zM110,538h1v3h-1zM119,538h3v1h-3zM120,537h1v3h-1zM129,536h3v1h-3zM130,535h1v3h-1zM139,529h3v1h-3zM140,528h1v3h-1zM149,532h3v1h-3zM150,531h1v3h-1zM159,526h3v1h-3zM160,525h1v3h-1zM169,536h3v1h-3zM170,535h1v3h-1zM179,524h3v1h-3zM180,523h1v3h-1zM189,511h3v1h-3zM190,510h1v3h-1zM199,521h3v1h-3zM200,520h1v3h-1zM209,519h3v1h-3zM210,518h1v3h-1zM219,532h3v1h-3zM220,531h1v3h-1zM229,500h3v1h-3zM230,499h1v3h-1zM239,473h3v1h-3zM240,472h1v3h-1zM249,472h3v1h-3zM250,471h1v3h-1zM259,492h3v1h-3zM260,491h1v3h-1zM269,502h3v1h-3zM270,501h1v3h-1zM279,515h3v1h-3zM280,514h1v3h-1zM289,515h3v1h-3zM290,514h1v3h-1zM299,536h3v1h-3zM300,535h1v3h-1zM309,524h3v1h-3zM310,523h1v3h-1zM319,524h3v1h-3zM320,523h1v3h-1zM329,533h3v1h-3zM330,532h1v3h-1zM339,539h3v1h-3zM340,538h1v3h-1zM349,522h3v1h-3zM350,521h1v3h-1zM359,542h3v1h-3zM360,541h1v3h-1zM369,534h3v1h-3zM370,533h1v3h-1zM379,544h3v1h-3zM380,543h1v3h-1zM389,540h3v1h-3zM390,539h1v3h-1zM399,533h3v1h-3zM400,532h1v3h-1zM409,525h3v1h-3zM410,524h1v3h-1zM419,518h3v1h-3zM420,517h1v3h-1zM429,515h3v1h-3zM430,514h1v3h-1zM439,505h3v1h-3zM440,504h1v3h-1zM449,515h3v1h-3zM450,514h1v3h-1zM459,532h3v1h-3zM460,531h1v3h-1zM469,535h3v1h-3zM470,534h1v3h-1zM479,514h3v1h-3zM480,513h1v3h-1zM489,509h3v1h-3zM490,508h1v3h-1zM499,515h3v1h-3zM500,514h1v3h-1zM509,508h3v1h-3zM510,507h1v3h-1zM519,523h3v1h-3zM520,522h1v3h-1zM529,538h3v1h-3zM530,537h1v3h-1zM539,535h3v1h-3zM540,534h1v3h-1zM549,539h3v1h-3zM550,538h1v3h-1zM559,533h3v1h-3zM560,532h1v3h-1zM569,511h3v1h-3zM570,510h1v3h-1zM579,544h3v1h-3zM580,543h1v3h-1zM589,542h3v1h-3zM590,541h1v3h-1zM599,540h3v1h-3zM600,539h1v3h-1zM609,539h3v1h-3zM610,538h1v3h-1zM619,527h3v1h-3zM620,526h1v3h-1zM629,510h3v1h-3zM630,509h1v3h-1zM639,522h3v1h-3zM640,521h1v3h-1zM649,522h3v1h-3zM650,521h1v3h-1zM659,520h3v1h-3zM660,519h1v3h-1zM669,513h3v1h-3zM670,512h1v3h-1zM679,531h3v1h-3zM680,530h1v3h-1zM689,530h3v1h-3zM690,529h1v3h-1z" fill="#E4A656"/>
<polyline points="50,121.6 60,123.2 70,118.4 80,110.7 90,111.4 100,111.2 110,110.0 120,123.0 130,141.3 140,158.0 150,147.1 160,143.8 170,145.4 180,144.5 190,134.3 200,138.1 210,145.4 220,152.0 230,145.1 240,147.5 250,142.9 260,145.9 270,133.6 280,135.5 290,144.3 300,141.1 310,135.0 320,136.5 330,139.0 340,134.4 350,122.2 360,123.1 370,133.6 380,133.9 390,130.4 400,132.8 410,127.1 420,133.0 430,175.0 440,220.0 450,217.8 460,200.0 470,143.5 480,144.5 490,148.0 500,159.9 510,159.2 520,158.5 530,150.0 540,140.0 550,124.0 560,123.0 570,120.8 580,124.7 590,126.2 600,140.0 610,161.8 620,149.3 630,132.9 640,141.7 650,135.4 660,126.3 670,119.5 680,133.3 690,130.7" fill="none" stroke="#5E4A1E" stroke-width="1" />
<path d="M49,121h3v1h-3zM50,120h1v3h-1zM59,123h3v1h-3zM60,122h1v3h-1zM69,118h3v1h-3zM70,117h1v3h-1zM79,110h3v1h-3zM80,109h1v3h-1zM89,111h3v1h-3zM90,110h1v3h-1zM99,111h3v1h-3zM100,110h1v3h-1zM109,109h3v1h-3zM110,108h1v3h-1zM119,122h3v1h-3zM120,121h1v3h-1zM129,141h3v1h-3zM130,140h1v3h-1zM139,157h3v1h-3zM140,156h1v3h-1zM149,147h3v1h-3zM150,146h1v3h-1zM159,143h3v1h-3zM160,142h1v3h-1zM169,145h3v1h-3zM170,144h1v3h-1zM179,144h3v1h-3zM180,143h1v3h-1zM189,134h3v1h-3zM190,133h1v3h-1zM199,138h3v1h-3zM200,137h1v3h-1zM209,145h3v1h-3zM210,144h1v3h-1zM219,151h3v1h-3zM220,150h1v3h-1zM229,145h3v1h-3zM230,144h1v3h-1zM239,147h3v1h-3zM240,146h1v3h-1zM249,142h3v1h-3zM250,141h1v3h-1zM259,145h3v1h-3zM260,144h1v3h-1zM269,133h3v1h-3zM270,132h1v3h-1zM279,135h3v1h-3zM280,134h1v3h-1zM289,144h3v1h-3zM290,143h1v3h-1zM299,141h3v1h-3zM300,140h1v3h-1zM309,135h3v1h-3zM310,134h1v3h-1zM319,136h3v1h-3zM320,135h1v3h-1zM329,139h3v1h-3zM330,138h1v3h-1zM339,134h3v1h-3zM340,133h1v3h-1zM349,122h3v1h-3zM350,121h1v3h-1zM359,123h3v1h-3zM360,122h1v3h-1zM369,133h3v1h-3zM370,132h1v3h-1zM379,133h3v1h-3zM380,132h1v3h-1zM389,130h3v1h-3zM390,129h1v3h-1zM399,132h3v1h-3zM400,131h1v3h-1zM409,127h3v1h-3zM410,126h1v3h-1zM419,132h3v1h-3zM420,131h1v3h-1zM429,175h3v1h-3zM430,174h1v3h-1zM439,220h3v1h-3zM440,219h1v3h-1zM449,217h3v1h-3zM450,216h1v3h-1zM459,200h3v1h-3zM460,199h1v3h-1zM469,143h3v1h-3zM470,142h1v3h-1zM479,144h3v1h-3zM480,143h1v3h-1zM489,148h3v1h-3zM490,147h1v3h-1zM499,159h3v1h-3zM500,158h1v3h-1zM509,159h3v1h-3zM510,158h1v3h-1zM519,158h3v1h-3zM520,157h1v3h-1zM529,150h3v1h-3zM530,149h1v3h-1zM539,140h3v1h-3zM540,139h1v3h-1zM549,124h3v1h-3zM550,123h1v3h-1zM559,123h3v1h-3zM560,122h1v3h-1zM569,120h3v1h-3zM570,119h1v3h-1zM579,124h3v1h-3zM580,123h1v3h-1zM589,126h3v1h-3zM590,125h1v3h-1zM599,140h3v1h-3zM600,139h1v3h-1zM609,161h3v1h-3zM610,160h1v3h-1zM619,149h3v1h-3zM620,148h1v3h-1zM629,132h3v1h-3zM630,131h1v3h-1zM639,141h3v1h-3zM640,140h1v3h-1zM649,135h3v1h-3zM650,134h1v3h-1zM659,126h3v1h-3zM660,125h1v3h-1zM669,119h3v1h-3zM670,118h1v3h-1zM679,133h3v1h-3zM680,132h1v3h-1zM689,130h3v1h-3zM690,129h1v3h-1z" fill="#5E4A1E"/>
<polyline points="50,529.1 60,512.9 70,478.5 80,480.3 90,486.0 100,515.4 110,516.3 120,522.5 130,528.0 140,521.3 150,516.9 160,508.0 170,503.1 180,532.1 190,507.1 200,501.3 210,503.7 220,512.8 230,507.4 240,527.4 250,539.4 260,537.4 270,525.1 280,513.2 290,519.7 300,519.7 310,524.0 320,535.7 330,534.6 340,537.3 350,524.8 360,518.0 370,524.2 380,534.3 390,529.7 400,534.8 410,536.1 420,534.2 430,533.1 440,535.8 450,527.4 460,524.9 470,518.7 480,535.6 490,538.0 500,542.0 510,541.4 520,541.8 530,540.5 540,531.1 550,539.3 560,527.0 570,526.4 580,537.5 590,541.9 600,523.1 610,510.7 620,510.0 630,480.0 640,437.4 650,401.3 660,426.4 670,433.6 680,484.5 690,500.0" fill="none" stroke="#5E4A1E" stroke-width="1" />
<path d="M49,529h3v1h-3zM50,528h1v3h-1zM59,512h3v1h-3zM60,511h1v3h-1zM69,478h3v1h-3zM70,477h1v3h-1zM79,480h3v1h-3zM80,479h1v3h-1zM89,485h3v1h-3zM90,484h1v3h-1zM99,515h3v1h-3zM100,514h1v3h-1zM109,516h3v1h-3zM110,515h1v3h-1zM119,522h3v1h-3zM120,521h1v3h-1zM129,527h3v1h-3zM130,526h1v3h-1zM139,521h3v1h-3zM140,520h1v3h-1zM149,516h3v1h-3zM150,515h1v3h-1zM159,507h3v1h-3zM160,506h1v3h-1zM169,503h3v1h-3zM170,502h1v3h-1zM179,532h3v1h-3zM180,531h1v3h-1zM189,507h3v1h-3zM190,506h1v3h-1zM199,501h3v1h-3zM200,500h1v3h-1zM209,503h3v1h-3zM210,502h1v3h-1zM219,512h3v1h-3zM220,511h1v3h-1zM229,507h3v1h-3zM230,506h1v3h-1zM239,527h3v1h-3zM240,526h1v3h-1zM249,539h3v1h-3zM250,538h1v3h-1zM259,537h3v1h-3zM260,536h1v3h-1zM269,525h3v1h-3zM270,524h1v3h-1zM279,513h3v1h-3zM280,512h1v3h-1zM289,519h3v1h-3zM290,518h1v3h-1zM299,519h3v1h-3zM300,518h1v3h-1zM309,523h3v1h-3zM310,522h1v3h-1zM319,535h3v1h-3zM320,534h1v3h-1zM329,534h3v1h-3zM330,533h1v3h-1zM339,537h3v1h-3zM340,536h1v3h-1zM349,524h3v1h-3zM350,523h1v3h-1zM359,518h3v1h-3zM360,517h1v3h-1zM369,524h3v1h-3zM370,523h1v3h-1zM379,534h3v1h-3zM380,533h1v3h-1zM389,529h3v1h-3zM390,528h1v3h-1zM399,534h3v1h-3zM400,533h1v3h-1zM409,536h3v1h-3zM410,535h1v3h-1zM419,534h3v1h-3zM420,533h1v3h-1zM429,533h3v1h-3zM430,532h1v3h-1zM439,535h3v1h-3zM440,534h1v3h-1zM449,527h3v1h-3zM450,526h1v3h-1zM459,524h3v1h-3zM460,523h1v3h-1zM469,518h3v1h-3zM470,517h1v3h-1zM479,535h3v1h-3zM480,534h1v3h-1zM489,538h3v1h-3zM490,537h1v3h-1zM499,542h3v1h-3zM500,541h1v3h-1zM509,541h3v1h-3zM510,540h1v3h-1zM519,541h3v1h-3zM520,540h1v3h-1zM529,540h3v1h-3zM530,539h1v3h-1zM539,531h3v1h-3zM540,530h1v3h-1zM549,539h3v1h-3zM550,538h1v3h-1zM559,526h3v1h-3zM560,525h1v3h-1zM569,526h3v1h-3zM570,525h1v3h-1zM579,537h3v1h-3zM580,536h1v3h-1zM589,541h3v1h-3zM590,540h1v3h-1zM599,523h3v1h-3zM600,522h1v3h-1zM609,510h3v1h-3zM610,509h1v3h-1zM619,510h3v1h-3zM620,509h1v3h-1zM629,480h3v1h-3zM630,479h1v3h-1zM639,437h3v1h-3zM640,436h1v3h-1zM649,401h3v1h-3zM650,400h1v3h-1zM659,426h3v1h-3zM660,425h1v3h-1zM669,433h3v1h-3zM670,432h1v3h-1zM679,484h3v1h-3zM680,483h1v3h-1zM689,500h3v1h-3zM690,499h1v3h-1z" fill="#5E4A1E"/>
<polyline points="50,121.9 60,123.8 70,121.3 80,117.6 90,115.9 100,115.2 110,115.3 120,123.0 130,139.5 140,155.5 150,145.8 160,147.1 170,148.4 180,150.4 190,150.0 200,175.7 210,179.6 220,178.0 230,176.0 240,176.0 250,179.0 260,170.0 270,135.5 280,144.8 290,147.4 300,149.3 310,135.3 320,131.9 330,139.1 340,153.8 350,146.9 360,150.2 370,153.9 380,162.9 390,157.6 400,181.3 410,186.3 420,177.1 430,177.7 440,180.5 450,176.0 460,167.0 470,154.4 480,162.0 490,171.0 500,173.5 510,172.9 520,185.5 530,169.4 540,166.6 550,159.2 560,136.8 570,160.4 580,158.3 590,163.8 600,157.2 610,147.9 620,153.8 630,162.1 640,166.9 650,180.4 660,175.8 670,162.4 680,156.7 690,181.0" fill="none" stroke="#F56A1E" stroke-width="1" />
<path d="M49,121h3v1h-3zM50,120h1v3h-1zM59,123h3v1h-3zM60,122h1v3h-1zM69,121h3v1h-3zM70,120h1v3h-1zM79,117h3v1h-3zM80,116h1v3h-1zM89,115h3v1h-3zM90,114h1v3h-1zM99,115h3v1h-3zM100,114h1v3h-1zM109,115h3v1h-3zM110,114h1v3h-1zM119,123h3v1h-3zM120,122h1v3h-1zM129,139h3v1h-3zM130,138h1v3h-1zM139,155h3v1h-3zM140,154h1v3h-1zM149,145h3v1h-3zM150,144h1v3h-1zM159,147h3v1h-3zM160,146h1v3h-1zM169,148h3v1h-3zM170,147h1v3h-1zM179,150h3v1h-3zM180,149h1v3h-1zM189,150h3v1h-3zM190,149h1v3h-1zM199,175h3v1h-3zM200,174h1v3h-1zM209,179h3v1h-3zM210,178h1v3h-1zM219,178h3v1h-3zM220,177h1v3h-1zM229,176h3v1h-3zM230,175h1v3h-1zM239,176h3v1h-3zM240,175h1v3h-1zM249,179h3v1h-3zM250,178h1v3h-1zM259,170h3v1h-3zM260,169h1v3h-1zM269,135h3v1h-3zM270,134h1v3h-1zM279,144h3v1h-3zM280,143h1v3h-1zM289,147h3v1h-3zM290,146h1v3h-1zM299,149h3v1h-3zM300,148h1v3h-1zM309,135h3v1h-3zM310,134h1v3h-1zM319,131h3v1h-3zM320,130h1v3h-1zM329,139h3v1h-3zM330,138h1v3h-1zM339,153h3v1h-3zM340,152h1v3h-1zM349,146h3v1h-3zM350,145h1v3h-1zM359,150h3v1h-3zM360,149h1v3h-1zM369,153h3v1h-3zM370,152h1v3h-1zM379,162h3v1h-3zM380,161h1v3h-1zM389,157h3v1h-3zM390,156h1v3h-1zM399,181h3v1h-3zM400,180h1v3h-1zM409,186h3v1h-3zM410,185h1v3h-1zM419,177h3v1h-3zM420,176h1v3h-1zM429,177h3v1h-3zM430,176h1v3h-1zM439,180h3v1h-3zM440,179h1v3h-1zM449,176h3v1h-3zM450,175h1v3h-1zM459,167h3v1h-3zM460,166h1v3h-1zM469,154h3v1h-3zM470,153h1v3h-1zM479,161h3v1h-3zM480,160h1v3h-1zM489,171h3v1h-3zM490,170h1v3h-1zM499,173h3v1h-3zM500,172h1v3h-1zM509,172h3v1h-3zM510,171h1v3h-1zM519,185h3v1h-3zM520,184h1v3h-1zM529,169h3v1h-3zM530,168h1v3h-1zM539,166h3v1h-3zM540,165h1v3h-1zM549,159h3v1h-3zM550,158h1v3h-1zM559,136h3v1h-3zM560,135h1v3h-1zM569,160h3v1h-3zM570,159h1v3h-1zM579,158h3v1h-3zM580,157h1v3h-1zM589,163h3v1h-3zM590,162h1v3h-1zM599,157h3v1h-3zM600,156h1v3h-1zM609,147h3v1h-3zM610,146h1v3h-1zM619,153h3v1h-3zM620,152h1v3h-1zM629,162h3v1h-3zM630,161h1v3h-1zM639,166h3v1h-3zM640,165h1v3h-1zM649,180h3v1h-3zM650,179h1v3h-1zM659,175h3v1h-3zM660,174h1v3h-1zM669,162h3v1h-3zM670,161h1v3h-1zM679,156h3v1h-3zM680,155h1v3h-1zM689,180h3v1h-3zM690,179h1v3h-1z" fill="#F56A1E"/>
<polyline points="50,533.2 60,514.3 70,488.0 80,494.5 90,500.8 100,513.9 110,518.8 120,525.9 130,519.6 140,518.4 150,520.8 160,519.6 170,521.3 180,507.0 190,471.0 200,500.0 210,535.9 220,539.8 230,524.5 240,533.5 250,536.6 260,541.8 270,536.7 280,540.0 290,535.7 300,525.3 310,528.1 320,485.0 330,465.0 340,483.5 350,505.0 360,527.4 370,544.6 380,539.7 390,536.4 400,524.6 410,524.9 420,520.5 430,515.2 440,530.2 450,516.6 460,536.7 470,537.2 480,534.1 490,528.4 500,505.9 510,534.8 520,532.0 530,539.4 540,539.5 550,538.2 560,523.1 570,504.7 580,524.7 590,529.3 600,517.9 610,533.2 620,523.0 630,537.7 640,529.5 650,512.7 660,534.6 670,533.7 680,539.6 690,539.4" fill="none" stroke="#F56A1E" stroke-width="1" />
<path d="M49,533h3v1h-3zM50,532h1v3h-1zM59,514h3v1h-3zM60,513h1v3h-1zM69,488h3v1h-3zM70,487h1v3h-1zM79,494h3v1h-3zM80,493h1v3h-1zM89,500h3v1h-3zM90,499h1v3h-1zM99,513h3v1h-3zM100,512h1v3h-1zM109,518h3v1h-3zM110,517h1v3h-1zM119,525h3v1h-3zM120,524h1v3h-1zM129,519h3v1h-3zM130,518h1v3h-1zM139,518h3v1h-3zM140,517h1v3h-1zM149,520h3v1h-3zM150,519h1v3h-1zM159,519h3v1h-3zM160,518h1v3h-1zM169,521h3v1h-3zM170,520h1v3h-1zM179,507h3v1h-3zM180,506h1v3h-1zM189,471h3v1h-3zM190,470h1v3h-1zM199,500h3v1h-3zM200,499h1v3h-1zM209,535h3v1h-3zM210,534h1v3h-1zM219,539h3v1h-3zM220,538h1v3h-1zM229,524h3v1h-3zM230,523h1v3h-1zM239,533h3v1h-3zM240,532h1v3h-1zM249,536h3v1h-3zM250,535h1v3h-1zM259,541h3v1h-3zM260,540h1v3h-1zM269,536h3v1h-3zM270,535h1v3h-1zM279,540h3v1h-3zM280,539h1v3h-1zM289,535h3v1h-3zM290,534h1v3h-1zM299,525h3v1h-3zM300,524h1v3h-1zM309,528h3v1h-3zM310,527h1v3h-1zM319,485h3v1h-3zM320,484h1v3h-1zM329,465h3v1h-3zM330,464h1v3h-1zM339,483h3v1h-3zM340,482h1v3h-1zM349,505h3v1h-3zM350,504h1v3h-1zM359,527h3v1h-3zM360,526h1v3h-1zM369,544h3v1h-3zM370,543h1v3h-1zM379,539h3v1h-3zM380,538h1v3h-1zM389,536h3v1h-3zM390,535h1v3h-1zM399,524h3v1h-3zM400,523h1v3h-1zM409,524h3v1h-3zM410,523h1v3h-1zM419,520h3v1h-3zM420,519h1v3h-1zM429,515h3v1h-3zM430,514h1v3h-1zM439,530h3v1h-3zM440,529h1v3h-1zM449,516h3v1h-3zM450,515h1v3h-1zM459,536h3v1h-3zM460,535h1v3h-1zM469,537h3v1h-3zM470,536h1v3h-1zM479,534h3v1h-3zM480,533h1v3h-1zM489,528h3v1h-3zM490,527h1v3h-1zM499,505h3v1h-3zM500,504h1v3h-1zM509,534h3v1h-3zM510,533h1v3h-1zM519,531h3v1h-3zM520,530h1v3h-1zM529,539h3v1h-3zM530,538h1v3h-1zM539,539h3v1h-3zM540,538h1v3h-1zM549,538h3v1h-3zM550,537h1v3h-1zM559,523h3v1h-3zM560,522h1v3h-1zM569,504h3v1h-3zM570,503h1v3h-1zM579,524h3v1h-3zM580,523h1v3h-1zM589,529h3v1h-3zM590,528h1v3h-1zM599,517h3v1h-3zM600,516h1v3h-1zM609,533h3v1h-3zM610,532h1v3h-1zM619,522h3v1h-3zM620,521h1v3h-1zM629,537h3v1h-3zM630,536h1v3h-1zM639,529h3v1h-3zM640,528h1v3h-1zM649,512h3v1h-3zM650,511h1v3h-1zM659,534h3v1h-3zM660,533h1v3h-1zM669,533h3v1h-3zM670,532h1v3h-1zM679,539h3v1h-3zM680,538h1v3h-1zM689,539h3v1h-3zM690,538h1v3h-1z" fill="#F56A1E"/>
<polyline points="50,120.4 60,122.2 70,116.3 80,105.2 90,109.2 100,109.4 110,109.2 120,117.8 130,141.6 140,157.9 150,152.8 160,150.1 170,152.3 180,147.2 190,134.9 200,142.1 210,147.2 220,148.5 230,133.8 240,141.5 250,141.4 260,140.8 270,131.2 280,130.4 290,137.7 300,140.0 310,131.7 320,135.4 330,137.3 340,136.5 350,123.3 360,132.8 370,129.0 380,127.7 390,132.9 400,127.8 410,133.5 420,143.5 430,135.7 440,161.7 450,217.0 460,210.3 470,165.7 480,168.8 490,171.8 500,168.1 510,159.4 520,154.0 530,170.6 540,136.9 550,137.4 560,129.8 570,135.3 580,137.5 590,157.1 600,216.0 610,228.5 620,203.0 630,161.2 640,159.0 650,159.6 660,146.2 670,138.0 680,136.8 690,137.3" fill="none" stroke="#D1BC72" stroke-width="1" />
<path d="M49,120h3v1h-3zM50,119h1v3h-1zM59,122h3v1h-3zM60,121h1v3h-1zM69,116h3v1h-3zM70,115h1v3h-1zM79,105h3v1h-3zM80,104h1v3h-1zM89,109h3v1h-3zM90,108h1v3h-1zM99,109h3v1h-3zM100,108h1v3h-1zM109,109h3v1h-3zM110,108h1v3h-1zM119,117h3v1h-3zM120,116h1v3h-1zM129,141h3v1h-3zM130,140h1v3h-1zM139,157h3v1h-3zM140,156h1v3h-1zM149,152h3v1h-3zM150,151h1v3h-1zM159,150h3v1h-3zM160,149h1v3h-1zM169,152h3v1h-3zM170,151h1v3h-1zM179,147h3v1h-3zM180,146h1v3h-1zM189,134h3v1h-3zM190,133h1v3h-1zM199,142h3v1h-3zM200,141h1v3h-1zM209,147h3v1h-3zM210,146h1v3h-1zM219,148h3v1h-3zM220,147h1v3h-1zM229,133h3v1h-3zM230,132h1v3h-1zM239,141h3v1h-3zM240,140h1v3h-1zM249,141h3v1h-3zM250,140h1v3h-1zM259,140h3v1h-3zM260,139h1v3h-1zM269,131h3v1h-3zM270,130h1v3h-1zM279,130h3v1h-3zM280,129h1v3h-1zM289,137h3v1h-3zM290,136h1v3h-1zM299,140h3v1h-3zM300,139h1v3h-1zM309,131h3v1h-3zM310,130h1v3h-1zM319,135h3v1h-3zM320,134h1v3h-1zM329,137h3v1h-3zM330,136h1v3h-1zM339,136h3v1h-3zM340,135h1v3h-1zM349,123h3v1h-3zM350,122h1v3h-1zM359,132h3v1h-3zM360,131h1v3h-1zM369,129h3v1h-3zM370,128h1v3h-1zM379,127h3v1h-3zM380,126h1v3h-1zM389,132h3v1h-3zM390,131h1v3h-1zM399,127h3v1h-3zM400,126h1v3h-1zM409,133h3v1h-3zM410,132h1v3h-1zM419,143h3v1h-3zM420,142h1v3h-1zM429,135h3v1h-3zM430,134h1v3h-1zM439,161h3v1h-3zM440,160h1v3h-1zM449,217h3v1h-3zM450,216h1v3h-1zM459,210h3v1h-3zM460,209h1v3h-1zM469,165h3v1h-3zM470,164h1v3h-1zM479,168h3v1h-3zM480,167h1v3h-1zM489,171h3v1h-3zM490,170h1v3h-1zM499,168h3v1h-3zM500,167h1v3h-1zM509,159h3v1h-3zM510,158h1v3h-1zM519,153h3v1h-3zM520,152h1v3h-1zM529,170h3v1h-3zM530,169h1v3h-1zM539,136h3v1h-3zM540,135h1v3h-1zM549,137h3v1h-3zM550,136h1v3h-1zM559,129h3v1h-3zM560,128h1v3h-1zM569,135h3v1h-3zM570,134h1v3h-1zM579,137h3v1h-3zM580,136h1v3h-1zM589,157h3v1h-3zM590,156h1v3h-1zM599,216h3v1h-3zM600,215h1v3h-1zM609,228h3v1h-3zM610,227h1v3h-1zM619,203h3v1h-3zM620,202h1v3h-1zM629,161h3v1h-3zM630,160h1v3h-1zM639,159h3v1h-3zM640,158h1v3h-1zM649,159h3v1h-3zM650,158h1v3h-1zM659,146h3v1h-3zM660,145h1v3h-1zM669,137h3v1h-3zM670,136h1v3h-1zM679,136h3v1h-3zM680,135h1v3h-1zM689,137h3v1h-3zM690,136h1v3h-1z" fill="#D1BC72"/>
<polyline points="50,524.7 60,511.4 70,481.7 80,480.0 90,485.1 100,483.9 110,506.4 120,510.2 130,504.4 140,499.8 150,501.6 160,509.6 170,501.5 180,519.0 190,512.6 200,509.5 210,514.2 220,525.9 230,519.0 240,522.7 250,532.5 260,534.2 270,522.5 280,535.0 290,510.6 300,504.9 310,494.2 320,482.4 330,501.0 340,496.7 350,494.0 360,498.4 370,510.9 380,531.6 390,525.2 400,490.0 410,462.5 420,464.0 430,441.0 440,461.0 450,439.0 460,476.7 470,465.7 480,473.5 490,474.5 500,501.8 510,515.0 520,520.6 530,535.3 540,518.7 550,509.2 560,491.6 570,513.0 580,519.7 590,537.2 600,512.9 610,518.5 620,506.9 630,508.3 640,520.0 650,529.9 660,505.6 670,485.6 680,504.1 690,508.2" fill="none" stroke="#D1BC72" stroke-width="1" />
<path d="M49,524h3v1h-3zM50,523h1v3h-1zM59,511h3v1h-3zM60,510h1v3h-1zM69,481h3v1h-3zM70,480h1v3h-1zM79,480h3v1h-3zM80,479h1v3h-1zM89,485h3v1h-3zM90,484h1v3h-1zM99,483h3v1h-3zM100,482h1v3h-1zM109,506h3v1h-3zM110,505h1v3h-1zM119,510h3v1h-3zM120,509h1v3h-1zM129,504h3v1h-3zM130,503h1v3h-1zM139,499h3v1h-3zM140,498h1v3h-1zM149,501h3v1h-3zM150,500h1v3h-1zM159,509h3v1h-3zM160,508h1v3h-1zM169,501h3v1h-3zM170,500h1v3h-1zM179,519h3v1h-3zM180,518h1v3h-1zM189,512h3v1h-3zM190,511h1v3h-1zM199,509h3v1h-3zM200,508h1v3h-1zM209,514h3v1h-3zM210,513h1v3h-1zM219,525h3v1h-3zM220,524h1v3h-1zM229,519h3v1h-3zM230,518h1v3h-1zM239,522h3v1h-3zM240,521h1v3h-1zM249,532h3v1h-3zM250,531h1v3h-1zM259,534h3v1h-3zM260,533h1v3h-1zM269,522h3v1h-3zM270,521h1v3h-1zM279,535h3v1h-3zM280,534h1v3h-1zM289,510h3v1h-3zM290,509h1v3h-1zM299,504h3v1h-3zM300,503h1v3h-1zM309,494h3v1h-3zM310,493h1v3h-1zM319,482h3v1h-3zM320,481h1v3h-1zM329,500h3v1h-3zM330,499h1v3h-1zM339,496h3v1h-3zM340,495h1v3h-1zM349,493h3v1h-3zM350,492h1v3h-1zM359,498h3v1h-3zM360,497h1v3h-1zM369,510h3v1h-3zM370,509h1v3h-1zM379,531h3v1h-3zM380,530h1v3h-1zM389,525h3v1h-3zM390,524h1v3h-1zM399,490h3v1h-3zM400,489h1v3h-1zM409,462h3v1h-3zM410,461h1v3h-1zM419,464h3v1h-3zM420,463h1v3h-1zM429,441h3v1h-3zM430,440h1v3h-1zM439,461h3v1h-3zM440,460h1v3h-1zM449,439h3v1h-3zM450,438h1v3h-1zM459,476h3v1h-3zM460,475h1v3h-1zM469,465h3v1h-3zM470,464h1v3h-1zM479,473h3v1h-3zM480,472h1v3h-1zM489,474h3v1h-3zM490,473h1v3h-1zM499,501h3v1h-3zM500,500h1v3h-1zM509,515h3v1h-3zM510,514h1v3h-1zM519,520h3v1h-3zM520,519h1v3h-1zM529,535h3v1h-3zM530,534h1v3h-1zM539,518h3v1h-3zM540,517h1v3h-1zM549,509h3v1h-3zM550,508h1v3h-1zM559,491h3v1h-3zM560,490h1v3h-1zM569,513h3v1h-3zM570,512h1v3h-1zM579,519h3v1h-3zM580,518h1v3h-1zM589,537h3v1h-3zM590,536h1v3h-1zM599,512h3v1h-3zM600,511h1v3h-1zM609,518h3v1h-3zM610,517h1v3h-1zM619,506h3v1h-3zM620,505h1v3h-1zM629,508h3v1h-3zM630,507h1v3h-1zM639,520h3v1h-3zM640,519h1v3h-1zM649,529h3v1h-3zM650,528h1v3h-1zM659,505h3v1h-3zM660,504h1v3h-1zM669,485h3v1h-3zM670,484h1v3h-1zM679,504h3v1h-3zM680,503h1v3h-1zM689,508h3v1h-3zM690,507h1v3h-1z" fill="#D1BC72"/>
<polyline points="50,121.1 60,122.8 70,117.7 80,119.0 90,127.0 100,119.0 110,113.1 120,128.4 130,145.2 140,157.9 150,148.5 160,149.7 170,153.6 180,153.1 190,140.1 200,141.7 210,149.0 220,153.9 230,143.5 240,147.8 250,156.2 260,162.0 270,153.6 280,152.7 290,158.7 300,154.4 310,139.1 320,143.8 330,153.7 340,162.1 350,136.1 360,135.4 370,155.1 380,155.9 390,145.0 400,157.3 410,166.1 420,148.3 430,167.9 440,180.8 450,181.3 460,181.5 470,162.3 480,172.3 490,194.4 500,178.6 510,168.4 520,203.4 530,188.9 540,190.7 550,168.9 560,171.8 570,191.3 580,207.0 590,181.9 600,188.5 610,200.3 620,181.7 630,178.8 640,160.5 650,165.7 660,147.0 670,164.3 680,202.9 690,195.3" fill="none" stroke="#0FD45C" stroke-width="1" />
<path d="M49,121h3v1h-3zM50,120h1v3h-1zM59,122h3v1h-3zM60,121h1v3h-1zM69,117h3v1h-3zM70,116h1v3h-1zM79,119h3v1h-3zM80,118h1v3h-1zM89,127h3v1h-3zM90,126h1v3h-1zM99,119h3v1h-3zM100,118h1v3h-1zM109,113h3v1h-3zM110,112h1v3h-1zM119,128h3v1h-3zM120,127h1v3h-1zM129,145h3v1h-3zM130,144h1v3h-1zM139,157h3v1h-3zM140,156h1v3h-1zM149,148h3v1h-3zM150,147h1v3h-1zM159,149h3v1h-3zM160,148h1v3h-1zM169,153h3v1h-3zM170,152h1v3h-1zM179,153h3v1h-3zM180,152h1v3h-1zM189,140h3v1h-3zM190,139h1v3h-1zM199,141h3v1h-3zM200,140h1v3h-1zM209,149h3v1h-3zM210,148h1v3h-1zM219,153h3v1h-3zM220,152h1v3h-1zM229,143h3v1h-3zM230,142h1v3h-1zM239,147h3v1h-3zM240,146h1v3h-1zM249,156h3v1h-3zM250,155h1v3h-1zM259,162h3v1h-3zM260,161h1v3h-1zM269,153h3v1h-3zM270,152h1v3h-1zM279,152h3v1h-3zM280,151h1v3h-1zM289,158h3v1h-3zM290,157h1v3h-1zM299,154h3v1h-3zM300,153h1v3h-1zM309,139h3v1h-3zM310,138h1v3h-1zM319,143h3v1h-3zM320,142h1v3h-1zM329,153h3v1h-3zM330,152h1v3h-1zM339,162h3v1h-3zM340,161h1v3h-1zM349,136h3v1h-3zM350,135h1v3h-1zM359,135h3v1h-3zM360,134h1v3h-1zM369,155h3v1h-3zM370,154h1v3h-1zM379,155h3v1h-3zM380,154h1v3h-1zM389,144h3v1h-3zM390,143h1v3h-1zM399,157h3v1h-3zM400,156h1v3h-1zM409,166h3v1h-3zM410,165h1v3h-1zM419,148h3v1h-3zM420,147h1v3h-1zM429,167h3v1h-3zM430,166h1v3h-1zM439,180h3v1h-3zM440,179h1v3h-1zM449,181h3v1h-3zM450,180h1v3h-1zM459,181h3v1h-3zM460,180h1v3h-1zM469,162h3v1h-3zM470,161h1v3h-1zM479,172h3v1h-3zM480,171h1v3h-1zM489,194h3v1h-3zM490,193h1v3h-1zM499,178h3v1h-3zM500,177h1v3h-1zM509,168h3v1h-3zM510,167h1v3h-1zM519,203h3v1h-3zM520,202h1v3h-1zM529,188h3v1h-3zM530,187h1v3h-1zM539,190h3v1h-3zM540,189h1v3h-1zM549,168h3v1h-3zM550,167h1v3h-1zM559,171h3v1h-3zM560,170h1v3h-1zM569,191h3v1h-3zM570,190h1v3h-1zM579,207h3v1h-3zM580,206h1v3h-1zM589,181h3v1h-3zM590,180h1v3h-1zM599,188h3v1h-3zM600,187h1v3h-1zM609,200h3v1h-3zM610,199h1v3h-1zM619,181h3v1h-3zM620,180h1v3h-1zM629,178h3v1h-3zM630,177h1v3h-1zM639,160h3v1h-3zM640,159h1v3h-1zM649,165h3v1h-3zM650,164h1v3h-1zM659,146h3v1h-3zM660,145h1v3h-1zM669,164h3v1h-3zM670,163h1v3h-1zM679,202h3v1h-3zM680,201h1v3h-1zM689,195h3v1h-3zM690,194h1v3h-1z" fill="#0FD45C"/>
<polyline points="50,529.9 60,516.3 70,491.4 80,501.6 90,533.0 100,528.5 110,538.4 120,534.4 130,531.9 140,522.5 150,517.8 160,511.4 170,518.5 180,527.4 190,518.5 200,529.7 210,539.4 220,541.6 230,535.8 240,540.4 250,533.0 260,532.2 270,529.4 280,539.6 290,533.0 300,537.9 310,518.4 320,532.9 330,530.1 340,541.2 350,526.3 360,540.9 370,540.4 380,538.1 390,539.8 400,543.9 410,534.4 420,542.4 430,517.4 440,511.3 450,530.9 460,537.3 470,530.9 480,540.4 490,531.6 500,523.0 510,522.3 520,532.0 530,540.6 540,532.1 550,522.8 560,542.5 570,535.3 580,542.7 590,542.2 600,535.0 610,542.1 620,532.1 630,523.0 640,532.4 650,544.7 660,544.2 670,536.4 680,540.7 690,523.9" fill="none" stroke="#0FD45C" stroke-width="1" />
<path d="M49,529h3v1h-3zM50,528h1v3h-1zM59,516h3v1h-3zM60,515h1v3h-1zM69,491h3v1h-3zM70,490h1v3h-1zM79,501h3v1h-3zM80,500h1v3h-1zM89,533h3v1h-3zM90,532h1v3h-1zM99,528h3v1h-3zM100,527h1v3h-1zM109,538h3v1h-3zM110,537h1v3h-1zM119,534h3v1h-3zM120,533h1v3h-1zM129,531h3v1h-3zM130,530h1v3h-1zM139,522h3v1h-3zM140,521h1v3h-1zM149,517h3v1h-3zM150,516h1v3h-1zM159,511h3v1h-3zM160,510h1v3h-1zM169,518h3v1h-3zM170,517h1v3h-1zM179,527h3v1h-3zM180,526h1v3h-1zM189,518h3v1h-3zM190,517h1v3h-1zM199,529h3v1h-3zM200,528h1v3h-1zM209,539h3v1h-3zM210,538h1v3h-1zM219,541h3v1h-3zM220,540h1v3h-1zM229,535h3v1h-3zM230,534h1v3h-1zM239,540h3v1h-3zM240,539h1v3h-1zM249,532h3v1h-3zM250,531h1v3h-1zM259,532h3v1h-3zM260,531h1v3h-1zM269,529h3v1h-3zM270,528h1v3h-1zM279,539h3v1h-3zM280,538h1v3h-1zM289,532h3v1h-3zM290,531h1v3h-1zM299,537h3v1h-3zM300,536h1v3h-1zM309,518h3v1h-3zM310,517h1v3h-1zM319,532h3v1h-3zM320,531h1v3h-1zM329,530h3v1h-3zM330,529h1v3h-1zM339,541h3v1h-3zM340,540h1v3h-1zM349,526h3v1h-3zM350,525h1v3h-1zM359,540h3v1h-3zM360,539h1v3h-1zM369,540h3v1h-3zM370,539h1v3h-1zM379,538h3v1h-3zM380,537h1v3h-1zM389,539h3v1h-3zM390,538h1v3h-1zM399,543h3v1h-3zM400,542h1v3h-1zM409,534h3v1h-3zM410,533h1v3h-1zM419,542h3v1h-3zM420,541h1v3h-1zM429,517h3v1h-3zM430,516h1v3h-1zM439,511h3v1h-3zM440,510h1v3h-1zM449,530h3v1h-3zM450,529h1v3h-1zM459,537h3v1h-3zM460,536h1v3h-1zM469,530h3v1h-3zM470,529h1v3h-1zM479,540h3v1h-3zM480,539h1v3h-1zM489,531h3v1h-3zM490,530h1v3h-1zM499,523h3v1h-3zM500,522h1v3h-1zM509,522h3v1h-3zM510,521h1v3h-1zM519,531h3v1h-3zM520,530h1v3h-1zM529,540h3v1h-3zM530,539h1v3h-1zM539,532h3v1h-3zM540,531h1v3h-1zM549,522h3v1h-3zM550,521h1v3h-1zM559,542h3v1h-3zM560,541h1v3h-1zM569,535h3v1h-3zM570,534h1v3h-1zM579,542h3v1h-3zM580,541h1v3h-1zM589,542h3v1h-3zM590,541h1v3h-1zM599,535h3v1h-3zM600,534h1v3h-1zM609,542h3v1h-3zM610,541h1v3h-1zM619,532h3v1h-3zM620,531h1v3h-1zM629,522h3v1h-3zM630,521h1v3h-1zM639,532h3v1h-3zM640,531h1v3h-1zM649,544h3v1h-3zM650,543h1v3h-1zM659,544h3v1h-3zM660,543h1v3h-1zM669,536h3v1h-3zM670,535h1v3h-1zM679,540h3v1h-3zM680,539h1v3h-1zM689,523h3v1h-3zM690,522h1v3h-1z" fill="#0FD45C"/>
<polyline points="50,121.2 60,122.1 70,116.7 80,103.3 90,109.7 100,110.3 110,114.0 120,128.2 130,147.5 140,166.0 150,139.0 160,136.5 170,141.6 180,140.0 190,133.0 200,152.7 210,150.0 220,141.0 230,129.8 240,132.4 250,132.4 260,135.7 270,132.0 280,134.0 290,135.0 300,164.9 310,158.4 320,163.1 330,167.4 340,135.0 350,115.1 360,125.0 370,153.5 380,159.9 390,157.6 400,151.6 410,147.9 420,151.5 430,148.8 440,156.1 450,170.5 460,160.3 470,169.9 480,180.8 490,202.1 500,185.0 510,189.0 520,193.2 530,186.9 540,195.8 550,206.3 560,204.1 570,206.9 580,204.0 590,199.8 600,187.3 610,206.9 620,183.2 630,170.0 640,182.1 650,195.8 660,184.5 670,200.9 680,202.5 690,207.3" fill="none" stroke="#28405C" stroke-width="1" />
<path d="M49,121h3v1h-3zM50,120h1v3h-1zM59,122h3v1h-3zM60,121h1v3h-1zM69,116h3v1h-3zM70,115h1v3h-1zM79,103h3v1h-3zM80,102h1v3h-1zM89,109h3v1h-3zM90,108h1v3h-1zM99,110h3v1h-3zM100,109h1v3h-1zM109,114h3v1h-3zM110,113h1v3h-1zM119,128h3v1h-3zM120,127h1v3h-1zM129,147h3v1h-3zM130,146h1v3h-1zM139,165h3v1h-3zM140,164h1v3h-1zM149,139h3v1h-3zM150,138h1v3h-1zM159,136h3v1h-3zM160,135h1v3h-1zM169,141h3v1h-3zM170,140h1v3h-1zM179,140h3v1h-3zM180,139h1v3h-1zM189,133h3v1h-3zM190,132h1v3h-1zM199,152h3v1h-3zM200,151h1v3h-1zM209,149h3v1h-3zM210,148h1v3h-1zM219,141h3v1h-3zM220,140h1v3h-1zM229,129h3v1h-3zM230,128h1v3h-1zM239,132h3v1h-3zM240,131h1v3h-1zM249,132h3v1h-3zM250,131h1v3h-1zM259,135h3v1h-3zM260,134h1v3h-1zM269,132h3v1h-3zM270,131h1v3h-1zM279,134h3v1h-3zM280,133h1v3h-1zM289,135h3v1h-3zM290,134h1v3h-1zM299,164h3v1h-3zM300,163h1v3h-1zM309,158h3v1h-3zM310,157h1v3h-1zM319,163h3v1h-3zM320,162h1v3h-1zM329,167h3v1h-3zM330,166h1v3h-1zM339,135h3v1h-3zM340,134h1v3h-1zM349,115h3v1h-3zM350,114h1v3h-1zM359,125h3v1h-3zM360,124h1v3h-1zM369,153h3v1h-3zM370,152h1v3h-1zM379,159h3v1h-3zM380,158h1v3h-1zM389,157h3v1h-3zM390,156h1v3h-1zM399,151h3v1h-3zM400,150h1v3h-1zM409,147h3v1h-3zM410,146h1v3h-1zM419,151h3v1h-3zM420,150h1v3h-1zM429,148h3v1h-3zM430,147h1v3h-1zM439,156h3v1h-3zM440,155h1v3h-1zM449,170h3v1h-3zM450,169h1v3h-1zM459,160h3v1h-3zM460,159h1v3h-1zM469,169h3v1h-3zM470,168h1v3h-1zM479,180h3v1h-3zM480,179h1v3h-1zM489,202h3v1h-3zM490,201h1v3h-1zM499,185h3v1h-3zM500,184h1v3h-1zM509,188h3v1h-3zM510,187h1v3h-1zM519,193h3v1h-3zM520,192h1v3h-1zM529,186h3v1h-3zM530,185h1v3h-1zM539,195h3v1h-3zM540,194h1v3h-1zM549,206h3v1h-3zM550,205h1v3h-1zM559,204h3v1h-3zM560,203h1v3h-1zM569,206h3v1h-3zM570,205h1v3h-1zM579,203h3v1h-3zM580,202h1v3h-1zM589,199h3v1h-3zM590,198h1v3h-1zM599,187h3v1h-3zM600,186h1v3h-1zM609,206h3v1h-3zM610,205h1v3h-1zM619,183h3v1h-3zM620,182h1v3h-1zM629,169h3v1h-3zM630,168h1v3h-1zM639,182h3v1h-3zM640,181h1v3h-1zM649,195h3v1h-3zM650,194h1v3h-1zM659,184h3v1h-3zM660,183h1v3h-1zM669,200h3v1h-3zM670,199h1v3h-1zM679,202h3v1h-3zM680,201h1v3h-1zM689,207h3v1h-3zM690,206h1v3h-1z" fill="#28405C"/>
<polyline points="50,528.3 60,512.3 70,487.6 80,505.1 90,498.4 100,499.9 110,509.9 120,525.7 130,524.3 140,513.8 150,509.7 160,504.8 170,511.4 180,513.6 190,533.1 200,529.0 210,532.7 220,534.8 230,528.5 240,536.3 250,526.5 260,527.4 270,520.9 280,505.5 290,511.8 300,514.2 310,510.0 320,500.0 330,520.5 340,501.7 350,521.5 360,511.6 370,512.1 380,541.4 390,534.0 400,535.3 410,525.4 420,526.6 430,504.9 440,518.2 450,516.3 460,533.4 470,513.2 480,534.3 490,536.1 500,529.3 510,540.7 520,513.1 530,530.6 540,543.7 550,543.3 560,539.5 570,526.3 580,524.9 590,520.0 600,516.7 610,536.3 620,521.3 630,539.0 640,533.5 650,531.1 660,544.6 670,522.3 680,498.2 690,543.8" fill="none" stroke="#28405C" stroke-width="1" />
<path d="M49,528h3v1h-3zM50,527h1v3h-1zM59,512h3v1h-3zM60,511h1v3h-1zM69,487h3v1h-3zM70,486h1v3h-1zM79,505h3v1h-3zM80,504h1v3h-1zM89,498h3v1h-3zM90,497h1v3h-1zM99,499h3v1h-3zM100,498h1v3h-1zM109,509h3v1h-3zM110,508h1v3h-1zM119,525h3v1h-3zM120,524h1v3h-1zM129,524h3v1h-3zM130,523h1v3h-1zM139,513h3v1h-3zM140,512h1v3h-1zM149,509h3v1h-3zM150,508h1v3h-1zM159,504h3v1h-3zM160,503h1v3h-1zM169,511h3v1h-3zM170,510h1v3h-1zM179,513h3v1h-3zM180,512h1v3h-1zM189,533h3v1h-3zM190,532h1v3h-1zM199,529h3v1h-3zM200,528h1v3h-1zM209,532h3v1h-3zM210,531h1v3h-1zM219,534h3v1h-3zM220,533h1v3h-1zM229,528h3v1h-3zM230,527h1v3h-1zM239,536h3v1h-3zM240,535h1v3h-1zM249,526h3v1h-3zM250,525h1v3h-1zM259,527h3v1h-3zM260,526h1v3h-1zM269,520h3v1h-3zM270,519h1v3h-1zM279,505h3v1h-3zM280,504h1v3h-1zM289,511h3v1h-3zM290,510h1v3h-1zM299,514h3v1h-3zM300,513h1v3h-1zM309,510h3v1h-3zM310,509h1v3h-1zM319,500h3v1h-3zM320,499h1v3h-1zM329,520h3v1h-3zM330,519h1v3h-1zM339,501h3v1h-3zM340,500h1v3h-1zM349,521h3v1h-3zM350,520h1v3h-1zM359,511h3v1h-3zM360,510h1v3h-1zM369,512h3v1h-3zM370,511h1v3h-1zM379,541h3v1h-3zM380,540h1v3h-1zM389,533h3v1h-3zM390,532h1v3h-1zM399,535h3v1h-3zM400,534h1v3h-1zM409,525h3v1h-3zM410,524h1v3h-1zM419,526h3v1h-3zM420,525h1v3h-1zM429,504h3v1h-3zM430,503h1v3h-1zM439,518h3v1h-3zM440,517h1v3h-1zM449,516h3v1h-3zM450,515h1v3h-1zM459,533h3v1h-3zM460,532h1v3h-1zM469,513h3v1h-3zM470,512h1v3h-1zM479,534h3v1h-3zM480,533h1v3h-1zM489,536h3v1h-3zM490,535h1v3h-1zM499,529h3v1h-3zM500,528h1v3h-1zM509,540h3v1h-3zM510,539h1v3h-1zM519,513h3v1h-3zM520,512h1v3h-1zM529,530h3v1h-3zM530,529h1v3h-1zM539,543h3v1h-3zM540,542h1v3h-1zM549,543h3v1h-3zM550,542h1v3h-1zM559,539h3v1h-3zM560,538h1v3h-1zM569,526h3v1h-3zM570,525h1v3h-1zM579,524h3v1h-3zM580,523h1v3h-1zM589,520h3v1h-3zM590,519h1v3h-1zM599,516h3v1h-3zM600,515h1v3h-1zM609,536h3v1h-3zM610,535h1v3h-1zM619,521h3v1h-3zM620,520h1v3h-1zM629,538h3v1h-3zM630,537h1v3h-1zM639,533h3v1h-3zM640,532h1v3h-1zM649,531h3v1h-3zM650,530h1v3h-1zM659,544h3v1h-3zM660,543h1v3h-1zM669,522h3v1h-3zM670,521h1v3h-1zM679,498h3v1h-3zM680,497h1v3h-1zM689,543h3v1h-3zM690,542h1v3h-1z" fill="#28405C"/>
<polyline points="50,123.5 60,126.1 70,122.6 80,122.3 90,121.2 100,117.0 110,121.0 120,137.9 130,154.6 140,169.0 150,160.7 160,160.0 170,166.9 180,167.5 190,150.5 200,161.1 210,159.9 220,164.1 230,160.5 240,162.9 250,161.4 260,159.9 270,147.0 280,148.2 290,151.1 300,158.6 310,148.5 320,150.4 330,165.0 340,165.3 350,116.0 360,128.0 370,161.4 380,162.3 390,170.2 400,168.4 410,204.9 420,124.9 430,119.5 440,140.0 450,169.5 460,175.3 470,193.9 480,193.6 490,206.0 500,197.0 510,203.0 520,197.2 530,201.3 540,198.4 550,201.6 560,201.9 570,206.6 580,203.5 590,206.1 600,208.2 610,220.9 620,198.7 630,199.7 640,196.4 650,197.4 660,172.9 670,170.6 680,177.3 690,171.7" fill="none" stroke="#6B7680" stroke-width="1" />
<path d="M49,123h3v1h-3zM50,122h1v3h-1zM59,126h3v1h-3zM60,125h1v3h-1zM69,122h3v1h-3zM70,121h1v3h-1zM79,122h3v1h-3zM80,121h1v3h-1zM89,121h3v1h-3zM90,120h1v3h-1zM99,117h3v1h-3zM100,116h1v3h-1zM109,121h3v1h-3zM110,120h1v3h-1zM119,137h3v1h-3zM120,136h1v3h-1zM129,154h3v1h-3zM130,153h1v3h-1zM139,168h3v1h-3zM140,167h1v3h-1zM149,160h3v1h-3zM150,159h1v3h-1zM159,160h3v1h-3zM160,159h1v3h-1zM169,166h3v1h-3zM170,165h1v3h-1zM179,167h3v1h-3zM180,166h1v3h-1zM189,150h3v1h-3zM190,149h1v3h-1zM199,161h3v1h-3zM200,160h1v3h-1zM209,159h3v1h-3zM210,158h1v3h-1zM219,164h3v1h-3zM220,163h1v3h-1zM229,160h3v1h-3zM230,159h1v3h-1zM239,162h3v1h-3zM240,161h1v3h-1zM249,161h3v1h-3zM250,160h1v3h-1zM259,159h3v1h-3zM260,158h1v3h-1zM269,147h3v1h-3zM270,146h1v3h-1zM279,148h3v1h-3zM280,147h1v3h-1zM289,151h3v1h-3zM290,150h1v3h-1zM299,158h3v1h-3zM300,157h1v3h-1zM309,148h3v1h-3zM310,147h1v3h-1zM319,150h3v1h-3zM320,149h1v3h-1zM329,164h3v1h-3zM330,163h1v3h-1zM339,165h3v1h-3zM340,164h1v3h-1zM349,116h3v1h-3zM350,115h1v3h-1zM359,128h3v1h-3zM360,127h1v3h-1zM369,161h3v1h-3zM370,160h1v3h-1zM379,162h3v1h-3zM380,161h1v3h-1zM389,170h3v1h-3zM390,169h1v3h-1zM399,168h3v1h-3zM400,167h1v3h-1zM409,204h3v1h-3zM410,203h1v3h-1zM419,124h3v1h-3zM420,123h1v3h-1zM429,119h3v1h-3zM430,118h1v3h-1zM439,140h3v1h-3zM440,139h1v3h-1zM449,169h3v1h-3zM450,168h1v3h-1zM459,175h3v1h-3zM460,174h1v3h-1zM469,193h3v1h-3zM470,192h1v3h-1zM479,193h3v1h-3zM480,192h1v3h-1zM489,205h3v1h-3zM490,204h1v3h-1zM499,197h3v1h-3zM500,196h1v3h-1zM509,202h3v1h-3zM510,201h1v3h-1zM519,197h3v1h-3zM520,196h1v3h-1zM529,201h3v1h-3zM530,200h1v3h-1zM539,198h3v1h-3zM540,197h1v3h-1zM549,201h3v1h-3zM550,200h1v3h-1zM559,201h3v1h-3zM560,200h1v3h-1zM569,206h3v1h-3zM570,205h1v3h-1zM579,203h3v1h-3zM580,202h1v3h-1zM589,206h3v1h-3zM590,205h1v3h-1zM599,208h3v1h-3zM600,207h1v3h-1zM609,220h3v1h-3zM610,219h1v3h-1zM619,198h3v1h-3zM620,197h1v3h-1zM629,199h3v1h-3zM630,198h1v3h-1zM639,196h3v1h-3zM640,195h1v3h-1zM649,197h3v1h-3zM650,196h1v3h-1zM659,172h3v1h-3zM660,171h1v3h-1zM669,170h3v1h-3zM670,169h1v3h-1zM679,177h3v1h-3zM680,176h1v3h-1zM689,171h3v1h-3zM690,170h1v3h-1z" fill="#6B7680"/>
<polyline points="50,527.1 60,512.2 70,483.8 80,488.5 90,491.2 100,510.0 110,510.8 120,516.9 130,516.2 140,515.3 150,507.0 160,508.9 170,510.9 180,515.3 190,510.2 200,516.2 210,517.3 220,530.3 230,526.0 240,529.7 250,532.2 260,518.7 270,507.9 280,518.1 290,525.0 300,525.8 310,529.7 320,538.0 330,535.6 340,531.7 350,532.4 360,533.4 370,514.5 380,532.5 390,536.0 400,541.7 410,530.0 420,529.3 430,528.1 440,501.7 450,515.0 460,509.6 470,465.7 480,437.4 490,462.5 500,454.7 510,457.8 520,422.3 530,428.0 540,478.0 550,510.0 560,530.8 570,537.6 580,534.2 590,516.1 600,523.3 610,513.6 620,540.2 630,480.0 640,459.4 650,445.0 660,472.0 670,446.8 680,490.0 690,505.0" fill="none" stroke="#6B7680" stroke-width="1" />
<path d="M49,527h3v1h-3zM50,526h1v3h-1zM59,512h3v1h-3zM60,511h1v3h-1zM69,483h3v1h-3zM70,482h1v3h-1zM79,488h3v1h-3zM80,487h1v3h-1zM89,491h3v1h-3zM90,490h1v3h-1zM99,509h3v1h-3zM100,508h1v3h-1zM109,510h3v1h-3zM110,509h1v3h-1zM119,516h3v1h-3zM120,515h1v3h-1zM129,516h3v1h-3zM130,515h1v3h-1zM139,515h3v1h-3zM140,514h1v3h-1zM149,507h3v1h-3zM150,506h1v3h-1zM159,508h3v1h-3zM160,507h1v3h-1zM169,510h3v1h-3zM170,509h1v3h-1zM179,515h3v1h-3zM180,514h1v3h-1zM189,510h3v1h-3zM190,509h1v3h-1zM199,516h3v1h-3zM200,515h1v3h-1zM209,517h3v1h-3zM210,516h1v3h-1zM219,530h3v1h-3zM220,529h1v3h-1zM229,525h3v1h-3zM230,524h1v3h-1zM239,529h3v1h-3zM240,528h1v3h-1zM249,532h3v1h-3zM250,531h1v3h-1zM259,518h3v1h-3zM260,517h1v3h-1zM269,507h3v1h-3zM270,506h1v3h-1zM279,518h3v1h-3zM280,517h1v3h-1zM289,524h3v1h-3zM290,523h1v3h-1zM299,525h3v1h-3zM300,524h1v3h-1zM309,529h3v1h-3zM310,528h1v3h-1zM319,537h3v1h-3zM320,536h1v3h-1zM329,535h3v1h-3zM330,534h1v3h-1zM339,531h3v1h-3zM340,530h1v3h-1zM349,532h3v1h-3zM350,531h1v3h-1zM359,533h3v1h-3zM360,532h1v3h-1zM369,514h3v1h-3zM370,513h1v3h-1zM379,532h3v1h-3zM380,531h1v3h-1zM389,535h3v1h-3zM390,534h1v3h-1zM399,541h3v1h-3zM400,540h1v3h-1zM409,530h3v1h-3zM410,529h1v3h-1zM419,529h3v1h-3zM420,528h1v3h-1zM429,528h3v1h-3zM430,527h1v3h-1zM439,501h3v1h-3zM440,500h1v3h-1zM449,515h3v1h-3zM450,514h1v3h-1zM459,509h3v1h-3zM460,508h1v3h-1zM469,465h3v1h-3zM470,464h1v3h-1zM479,437h3v1h-3zM480,436h1v3h-1zM489,462h3v1h-3zM490,461h1v3h-1zM499,454h3v1h-3zM500,453h1v3h-1zM509,457h3v1h-3zM510,456h1v3h-1zM519,422h3v1h-3zM520,421h1v3h-1zM529,428h3v1h-3zM530,427h1v3h-1zM539,478h3v1h-3zM540,477h1v3h-1zM549,510h3v1h-3zM550,509h1v3h-1zM559,530h3v1h-3zM560,529h1v3h-1zM569,537h3v1h-3zM570,536h1v3h-1zM579,534h3v1h-3zM580,533h1v3h-1zM589,516h3v1h-3zM590,515h1v3h-1zM599,523h3v1h-3zM600,522h1v3h-1zM609,513h3v1h-3zM610,512h1v3h-1zM619,540h3v1h-3zM620,539h1v3h-1zM629,480h3v1h-3zM630,479h1v3h-1zM639,459h3v1h-3zM640,458h1v3h-1zM649,445h3v1h-3zM650,444h1v3h-1zM659,472h3v1h-3zM660,471h1v3h-1zM669,446h3v1h-3zM670,445h1v3h-1zM679,490h3v1h-3zM680,489h1v3h-1zM689,505h3v1h-3zM690,504h1v3h-1z" fill="#6B7680"/>
<polyline points="50,120.6 60,122.2 70,117.2 80,107.7 90,107.9 100,110.1 110,110.0 120,111.0 130,137.0 140,159.9 150,153.7 160,154.0 170,160.0 180,165.2 190,151.8 200,151.5 210,162.5 220,152.4 230,146.8 240,150.4 250,150.7 260,160.0 270,158.7 280,154.7 290,157.2 300,144.3 310,142.2 320,144.7 330,146.0 340,134.1 350,119.3 360,123.4 370,132.7 380,130.7 390,136.7 400,144.0 410,126.5 420,129.2 430,135.4 440,150.6 450,146.1 460,141.1 470,145.7 480,142.1 490,149.8 500,149.9 510,151.6 520,146.1 530,142.3 540,144.4 550,151.2 560,135.8 570,128.9 580,141.2 590,155.1 600,152.6 610,163.1 620,169.2 630,151.1 640,163.6 650,177.1 660,169.9 670,180.0 680,158.5 690,172.4" fill="none" stroke="#E070F5" stroke-width="1" />
<path d="M49,120h3v1h-3zM50,119h1v3h-1zM59,122h3v1h-3zM60,121h1v3h-1zM69,117h3v1h-3zM70,116h1v3h-1zM79,107h3v1h-3zM80,106h1v3h-1zM89,107h3v1h-3zM90,106h1v3h-1zM99,110h3v1h-3zM100,109h1v3h-1zM109,110h3v1h-3zM110,109h1v3h-1zM119,111h3v1h-3zM120,110h1v3h-1zM129,137h3v1h-3zM130,136h1v3h-1zM139,159h3v1h-3zM140,158h1v3h-1zM149,153h3v1h-3zM150,152h1v3h-1zM159,153h3v1h-3zM160,152h1v3h-1zM169,160h3v1h-3zM170,159h1v3h-1zM179,165h3v1h-3zM180,164h1v3h-1zM189,151h3v1h-3zM190,150h1v3h-1zM199,151h3v1h-3zM200,150h1v3h-1zM209,162h3v1h-3zM210,161h1v3h-1zM219,152h3v1h-3zM220,151h1v3h-1zM229,146h3v1h-3zM230,145h1v3h-1zM239,150h3v1h-3zM240,149h1v3h-1zM249,150h3v1h-3zM250,149h1v3h-1zM259,160h3v1h-3zM260,159h1v3h-1zM269,158h3v1h-3zM270,157h1v3h-1zM279,154h3v1h-3zM280,153h1v3h-1zM289,157h3v1h-3zM290,156h1v3h-1zM299,144h3v1h-3zM300,143h1v3h-1zM309,142h3v1h-3zM310,141h1v3h-1zM319,144h3v1h-3zM320,143h1v3h-1zM329,146h3v1h-3zM330,145h1v3h-1zM339,134h3v1h-3zM340,133h1v3h-1zM349,119h3v1h-3zM350,118h1v3h-1zM359,123h3v1h-3zM360,122h1v3h-1zM369,132h3v1h-3zM370,131h1v3h-1zM379,130h3v1h-3zM380,129h1v3h-1zM389,136h3v1h-3zM390,135h1v3h-1zM399,143h3v1h-3zM400,142h1v3h-1zM409,126h3v1h-3zM410,125h1v3h-1zM419,129h3v1h-3zM420,128h1v3h-1zM429,135h3v1h-3zM430,134h1v3h-1zM439,150h3v1h-3zM440,149h1v3h-1zM449,146h3v1h-3zM450,145h1v3h-1zM459,141h3v1h-3zM460,140h1v3h-1zM469,145h3v1h-3zM470,144h1v3h-1zM479,142h3v1h-3zM480,141h1v3h-1zM489,149h3v1h-3zM490,148h1v3h-1zM499,149h3v1h-3zM500,148h1v3h-1zM509,151h3v1h-3zM510,150h1v3h-1zM519,146h3v1h-3zM520,145h1v3h-1zM529,142h3v1h-3zM530,141h1v3h-1zM539,144h3v1h-3zM540,143h1v3h-1zM549,151h3v1h-3zM550,150h1v3h-1zM559,135h3v1h-3zM560,134h1v3h-1zM569,128h3v1h-3zM570,127h1v3h-1zM579,141h3v1h-3zM580,140h1v3h-1zM589,155h3v1h-3zM590,154h1v3h-1zM599,152h3v1h-3zM600,151h1v3h-1zM609,163h3v1h-3zM610,162h1v3h-1zM619,169h3v1h-3zM620,168h1v3h-1zM629,151h3v1h-3zM630,150h1v3h-1zM639,163h3v1h-3zM640,162h1v3h-1zM649,177h3v1h-3zM650,176h1v3h-1zM659,169h3v1h-3zM660,168h1v3h-1zM669,179h3v1h-3zM670,178h1v3h-1zM679,158h3v1h-3zM680,157h1v3h-1zM689,172h3v1h-3zM690,171h1v3h-1z" fill="#E070F5"/>
<polyline points="50,525.6 60,513.0 70,482.2 80,488.8 90,482.8 100,510.5 110,520.5 120,524.8 130,538.3 140,515.8 150,514.0 160,491.0 170,484.0 180,510.0 190,500.1 200,519.3 210,526.7 220,534.2 230,515.7 240,532.0 250,526.4 260,521.4 270,515.0 280,517.1 290,527.3 300,513.7 310,501.4 320,487.9 330,496.0 340,527.2 350,516.3 360,501.4 370,520.2 380,539.4 390,536.8 400,525.8 410,520.3 420,537.5 430,531.1 440,503.9 450,515.0 460,521.7 470,532.6 480,520.8 490,526.6 500,501.1 510,529.3 520,501.2 530,532.6 540,517.6 550,519.4 560,515.7 570,499.5 580,534.7 590,512.4 600,520.1 610,507.2 620,518.0 630,512.8 640,512.7 650,504.6 660,506.6 670,496.0 680,527.5 690,536.7" fill="none" stroke="#E070F5" stroke-width="1" />
<path d="M49,525h3v1h-3zM50,524h1v3h-1zM59,512h3v1h-3zM60,511h1v3h-1zM69,482h3v1h-3zM70,481h1v3h-1zM79,488h3v1h-3zM80,487h1v3h-1zM89,482h3v1h-3zM90,481h1v3h-1zM99,510h3v1h-3zM100,509h1v3h-1zM109,520h3v1h-3zM110,519h1v3h-1zM119,524h3v1h-3zM120,523h1v3h-1zM129,538h3v1h-3zM130,537h1v3h-1zM139,515h3v1h-3zM140,514h1v3h-1zM149,513h3v1h-3zM150,512h1v3h-1zM159,491h3v1h-3zM160,490h1v3h-1zM169,484h3v1h-3zM170,483h1v3h-1zM179,510h3v1h-3zM180,509h1v3h-1zM189,500h3v1h-3zM190,499h1v3h-1zM199,519h3v1h-3zM200,518h1v3h-1zM209,526h3v1h-3zM210,525h1v3h-1zM219,534h3v1h-3zM220,533h1v3h-1zM229,515h3v1h-3zM230,514h1v3h-1zM239,532h3v1h-3zM240,531h1v3h-1zM249,526h3v1h-3zM250,525h1v3h-1zM259,521h3v1h-3zM260,520h1v3h-1zM269,515h3v1h-3zM270,514h1v3h-1zM279,517h3v1h-3zM280,516h1v3h-1zM289,527h3v1h-3zM290,526h1v3h-1zM299,513h3v1h-3zM300,512h1v3h-1zM309,501h3v1h-3zM310,500h1v3h-1zM319,487h3v1h-3zM320,486h1v3h-1zM329,496h3v1h-3zM330,495h1v3h-1zM339,527h3v1h-3zM340,526h1v3h-1zM349,516h3v1h-3zM350,515h1v3h-1zM359,501h3v1h-3zM360,500h1v3h-1zM369,520h3v1h-3zM370,519h1v3h-1zM379,539h3v1h-3zM380,538h1v3h-1zM389,536h3v1h-3zM390,535h1v3h-1zM399,525h3v1h-3zM400,524h1v3h-1zM409,520h3v1h-3zM410,519h1v3h-1zM419,537h3v1h-3zM420,536h1v3h-1zM429,531h3v1h-3zM430,530h1v3h-1zM439,503h3v1h-3zM440,502h1v3h-1zM449,515h3v1h-3zM450,514h1v3h-1zM459,521h3v1h-3zM460,520h1v3h-1zM469,532h3v1h-3zM470,531h1v3h-1zM479,520h3v1h-3zM480,519h1v3h-1zM489,526h3v1h-3zM490,525h1v3h-1zM499,501h3v1h-3zM500,500h1v3h-1zM509,529h3v1h-3zM510,528h1v3h-1zM519,501h3v1h-3zM520,500h1v3h-1zM529,532h3v1h-3zM530,531h1v3h-1zM539,517h3v1h-3zM540,516h1v3h-1zM549,519h3v1h-3zM550,518h1v3h-1zM559,515h3v1h-3zM560,514h1v3h-1zM569,499h3v1h-3zM570,498h1v3h-1zM579,534h3v1h-3zM580,533h1v3h-1zM589,512h3v1h-3zM590,511h1v3h-1zM599,520h3v1h-3zM600,519h1v3h-1zM609,507h3v1h-3zM610,506h1v3h-1zM619,517h3v1h-3zM620,516h1v3h-1zM629,512h3v1h-3zM630,511h1v3h-1zM639,512h3v1h-3zM640,511h1v3h-1zM649,504h3v1h-3zM650,503h1v3h-1zM659,506h3v1h-3zM660,505h1v3h-1zM669,496h3v1h-3zM670,495h1v3h-1zM679,527h3v1h-3zM680,526h1v3h-1zM689,536h3v1h-3zM690,535h1v3h-1z" fill="#E070F5"/>
<polyline points="50,123.4 60,124.3 70,122.2 80,121.1 90,125.1 100,121.4 110,139.6 120,159.0 130,167.3 140,186.2 150,168.9 160,168.7 170,170.9 180,168.3 190,156.9 200,172.5 210,173.5 220,175.0 230,171.7 240,139.0 250,139.5 260,136.0 270,123.8 280,128.1 290,132.4 300,132.4 310,124.9 320,129.2 330,129.2 340,131.4 350,119.5 360,173.9 370,166.6 380,163.3 390,159.9 400,181.3 410,199.2 420,196.4 430,196.5 440,211.2 450,212.0 460,204.3 470,197.3 480,198.5 490,203.4 500,201.6 510,190.2 520,183.9 530,197.6 540,184.8 550,197.0 560,178.6 570,198.2 580,197.4 590,178.5 600,173.1 610,164.2 620,173.2 630,187.2 640,183.9 650,175.3 660,159.5 670,163.7 680,177.9 690,178.2" fill="none" stroke="#7A1FF5" stroke-width="1" />
<path d="M49,123h3v1h-3zM50,122h1v3h-1zM59,124h3v1h-3zM60,123h1v3h-1zM69,122h3v1h-3zM70,121h1v3h-1zM79,121h3v1h-3zM80,120h1v3h-1zM89,125h3v1h-3zM90,124h1v3h-1zM99,121h3v1h-3zM100,120h1v3h-1zM109,139h3v1h-3zM110,138h1v3h-1zM119,158h3v1h-3zM120,157h1v3h-1zM129,167h3v1h-3zM130,166h1v3h-1zM139,186h3v1h-3zM140,185h1v3h-1zM149,168h3v1h-3zM150,167h1v3h-1zM159,168h3v1h-3zM160,167h1v3h-1zM169,170h3v1h-3zM170,169h1v3h-1zM179,168h3v1h-3zM180,167h1v3h-1zM189,156h3v1h-3zM190,155h1v3h-1zM199,172h3v1h-3zM200,171h1v3h-1zM209,173h3v1h-3zM210,172h1v3h-1zM219,174h3v1h-3zM220,173h1v3h-1zM229,171h3v1h-3zM230,170h1v3h-1zM239,139h3v1h-3zM240,138h1v3h-1zM249,139h3v1h-3zM250,138h1v3h-1zM259,136h3v1h-3zM260,135h1v3h-1zM269,123h3v1h-3zM270,122h1v3h-1zM279,128h3v1h-3zM280,127h1v3h-1zM289,132h3v1h-3zM290,131h1v3h-1zM299,132h3v1h-3zM300,131h1v3h-1zM309,124h3v1h-3zM310,123h1v3h-1zM319,129h3v1h-3zM320,128h1v3h-1zM329,129h3v1h-3zM330,128h1v3h-1zM339,131h3v1h-3zM340,130h1v3h-1zM349,119h3v1h-3zM350,118h1v3h-1zM359,173h3v1h-3zM360,172h1v3h-1zM369,166h3v1h-3zM370,165h1v3h-1zM379,163h3v1h-3zM380,162h1v3h-1zM389,159h3v1h-3zM390,158h1v3h-1zM399,181h3v1h-3zM400,180h1v3h-1zM409,199h3v1h-3zM410,198h1v3h-1zM419,196h3v1h-3zM420,195h1v3h-1zM429,196h3v1h-3zM430,195h1v3h-1zM439,211h3v1h-3zM440,210h1v3h-1zM449,212h3v1h-3zM450,211h1v3h-1zM459,204h3v1h-3zM460,203h1v3h-1zM469,197h3v1h-3zM470,196h1v3h-1zM479,198h3v1h-3zM480,197h1v3h-1zM489,203h3v1h-3zM490,202h1v3h-1zM499,201h3v1h-3zM500,200h1v3h-1zM509,190h3v1h-3zM510,189h1v3h-1zM519,183h3v1h-3zM520,182h1v3h-1zM529,197h3v1h-3zM530,196h1v3h-1zM539,184h3v1h-3zM540,183h1v3h-1zM549,197h3v1h-3zM550,196h1v3h-1zM559,178h3v1h-3zM560,177h1v3h-1zM569,198h3v1h-3zM570,197h1v3h-1zM579,197h3v1h-3zM580,196h1v3h-1zM589,178h3v1h-3zM590,177h1v3h-1zM599,173h3v1h-3zM600,172h1v3h-1zM609,164h3v1h-3zM610,163h1v3h-1zM619,173h3v1h-3zM620,172h1v3h-1zM629,187h3v1h-3zM630,186h1v3h-1zM639,183h3v1h-3zM640,182h1v3h-1zM649,175h3v1h-3zM650,174h1v3h-1zM659,159h3v1h-3zM660,158h1v3h-1zM669,163h3v1h-3zM670,162h1v3h-1zM679,177h3v1h-3zM680,176h1v3h-1zM689,178h3v1h-3zM690,177h1v3h-1z" fill="#7A1FF5"/>
<polyline points="50,527.4 60,512.8 70,481.6 80,489.1 90,494.0 100,505.3 110,521.8 120,526.8 130,528.0 140,508.1 150,513.9 160,507.3 170,518.6 180,522.7 190,514.5 200,516.9 210,525.9 220,528.0 230,509.9 240,516.4 250,525.8 260,529.2 270,525.5 280,516.5 290,508.0 300,525.7 310,520.5 320,516.7 330,510.4 340,528.6 350,514.6 360,524.8 370,532.9 380,533.7 390,517.9 400,524.1 410,534.9 420,500.7 430,513.5 440,515.5 450,526.5 460,544.5 470,530.6 480,544.2 490,538.9 500,530.1 510,538.7 520,543.1 530,528.4 540,532.4 550,543.9 560,543.3 570,516.9 580,527.5 590,518.2 600,525.4 610,521.1 620,544.5 630,533.6 640,537.6 650,537.1 660,536.2 670,538.2 680,541.5 690,524.3" fill="none" stroke="#7A1FF5" stroke-width="1" />
<path d="M49,527h3v1h-3zM50,526h1v3h-1zM59,512h3v1h-3zM60,511h1v3h-1zM69,481h3v1h-3zM70,480h1v3h-1zM79,489h3v1h-3zM80,488h1v3h-1zM89,493h3v1h-3zM90,492h1v3h-1zM99,505h3v1h-3zM100,504h1v3h-1zM109,521h3v1h-3zM110,520h1v3h-1zM119,526h3v1h-3zM120,525h1v3h-1zM129,527h3v1h-3zM130,526h1v3h-1zM139,508h3v1h-3zM140,507h1v3h-1zM149,513h3v1h-3zM150,512h1v3h-1zM159,507h3v1h-3zM160,506h1v3h-1zM169,518h3v1h-3zM170,517h1v3h-1zM179,522h3v1h-3zM180,521h1v3h-1zM189,514h3v1h-3zM190,513h1v3h-1zM199,516h3v1h-3zM200,515h1v3h-1zM209,525h3v1h-3zM210,524h1v3h-1zM219,527h3v1h-3zM220,526h1v3h-1zM229,509h3v1h-3zM230,508h1v3h-1zM239,516h3v1h-3zM240,515h1v3h-1zM249,525h3v1h-3zM250,524h1v3h-1zM259,529h3v1h-3zM260,528h1v3h-1zM269,525h3v1h-3zM270,524h1v3h-1zM279,516h3v1h-3zM280,515h1v3h-1zM289,507h3v1h-3zM290,506h1v3h-1zM299,525h3v1h-3zM300,524h1v3h-1zM309,520h3v1h-3zM310,519h1v3h-1zM319,516h3v1h-3zM320,515h1v3h-1zM329,510h3v1h-3zM330,509h1v3h-1zM339,528h3v1h-3zM340,527h1v3h-1zM349,514h3v1h-3zM350,513h1v3h-1zM359,524h3v1h-3zM360,523h1v3h-1zM369,532h3v1h-3zM370,531h1v3h-1zM379,533h3v1h-3zM380,532h1v3h-1zM389,517h3v1h-3zM390,516h1v3h-1zM399,524h3v1h-3zM400,523h1v3h-1zM409,534h3v1h-3zM410,533h1v3h-1zM419,500h3v1h-3zM420,499h1v3h-1zM429,513h3v1h-3zM430,512h1v3h-1zM439,515h3v1h-3zM440,514h1v3h-1zM449,526h3v1h-3zM450,525h1v3h-1zM459,544h3v1h-3zM460,543h1v3h-1zM469,530h3v1h-3zM470,529h1v3h-1zM479,544h3v1h-3zM480,543h1v3h-1zM489,538h3v1h-3zM490,537h1v3h-1zM499,530h3v1h-3zM500,529h1v3h-1zM509,538h3v1h-3zM510,537h1v3h-1zM519,543h3v1h-3zM520,542h1v3h-1zM529,528h3v1h-3zM530,527h1v3h-1zM539,532h3v1h-3zM540,531h1v3h-1zM549,543h3v1h-3zM550,542h1v3h-1zM559,543h3v1h-3zM560,542h1v3h-1zM569,516h3v1h-3zM570,515h1v3h-1zM579,527h3v1h-3zM580,526h1v3h-1zM589,518h3v1h-3zM590,517h1v3h-1zM599,525h3v1h-3zM600,524h1v3h-1zM609,521h3v1h-3zM610,520h1v3h-1zM619,544h3v1h-3zM620,543h1v3h-1zM629,533h3v1h-3zM630,532h1v3h-1zM639,537h3v1h-3zM640,536h1v3h-1zM649,537h3v1h-3zM650,536h1v3h-1zM659,536h3v1h-3zM660,535h1v3h-1zM669,538h3v1h-3zM670,537h1v3h-1zM679,541h3v1h-3zM680,540h1v3h-1zM689,524h3v1h-3zM690,523h1v3h-1z" fill="#7A1FF5"/>
<polyline points="50,122.2 60,123.9 70,119.6 80,115.3 90,114.2 100,113.5 110,115.3 120,131.5 130,147.7 140,163.3 150,155.3 160,154.2 170,155.9 180,156.4 190,143.4 200,148.2 210,155.1 220,157.6 230,153.0 240,153.1 250,153.4 260,152.5 270,143.9 280,142.8 290,151.1 300,155.8 310,150.7 320,151.9 330,151.0 340,151.6 350,145.4 360,140.0 370,144.3 380,142.2 390,136.8 400,132.4 410,142.2 420,145.4 430,140.0 440,153.0 450,164.9 460,163.8 470,186.5 480,190.8 490,201.6 500,196.3 510,193.2 520,208.4 530,210.5 540,210.5 550,216.6 560,216.6 570,216.0 580,211.6 590,193.9 600,196.3 610,206.6 620,197.3 630,188.5 640,187.0 650,197.8 660,188.0 670,187.0 680,184.0 690,189.0" fill="none" stroke="#0000ff" stroke-width="3" />
<polyline points="50,528.9 60,513.8 70,487.8 80,492.0 90,501.8 100,511.6 110,518.2 120,525.6 130,524.4 140,519.1 150,515.9 160,512.1 170,512.6 180,515.0 190,500.0 200,480.3 210,504.0 220,517.0 230,520.0 240,524.4 250,526.7 260,526.8 270,524.4 280,517.0 290,516.0 300,517.0 310,516.7 320,516.0 330,525.6 340,524.1 350,517.4 360,514.4 370,519.7 380,531.0 390,527.4 400,523.8 410,521.2 420,524.8 430,521.0 440,512.2 450,517.5 460,522.6 470,511.5 480,511.7 490,518.6 500,521.6 510,521.7 520,517.0 530,521.6 540,521.8 550,522.2 560,520.4 570,517.0 580,523.8 590,521.6 600,518.6 610,518.3 620,523.2 630,517.5 640,513.2 650,514.2 660,514.2 670,509.0 680,512.6 690,516.4" fill="none" stroke="#0000ff" stroke-width="3" />
<polyline points="50,122.2 60,123.9 70,119.6 80,115.3 90,114.2 100,113.5 110,115.3 120,131.5 130,148.7 140,165.3 150,158.3 160,157.2 170,158.9 180,158.4 190,143.4 200,148.2 210,155.1 220,158.6 230,156.0 240,158.1 250,159.4 260,159.5 270,151.9 280,154.8 290,159.1 300,156.8 310,149.7 320,147.9 330,145.0 340,146.6 350,146.5 360,141.0 370,146.5 380,150.8 390,151.9 400,154.0 410,161.6 420,155.1 430,158.4 440,190.8 450,207.0 460,188.6 470,180.0 480,186.5 490,194.0 500,187.0 510,177.0 520,179.2 530,176.0 540,145.7 550,145.7 560,139.8 570,160.8 580,142.4 590,148.9 600,154.2 610,154.2 620,148.5 630,141.2 640,159.5 650,166.0 660,147.0 670,149.0 680,176.0 690,199.0" fill="none" stroke="#000" stroke-width="2" />
<polyline points="50,528.9 60,513.8 70,486.8 80,491.0 90,502.8 100,515.6 110,529.2 120,533.6 130,526.4 140,520.1 150,516.9 160,514.1 170,513.6 180,521.3 190,512.7 200,518.0 210,522.6 220,526.0 230,519.4 240,523.4 250,527.7 260,527.8 270,524.4 280,522.0 290,524.0 300,524.0 310,524.7 320,524.0 330,523.6 340,523.1 350,517.4 360,514.4 370,520.7 380,525.0 390,516.0 400,465.7 410,470.4 420,516.0 430,487.7 440,432.7 450,421.7 460,450.0 470,447.4 480,413.8 490,360.4 500,413.8 510,443.7 520,475.0 530,516.0 540,522.0 550,520.0 560,500.0 570,475.0 580,487.7 590,510.0 600,512.0 610,506.5 620,501.8 630,494.0 640,495.5 650,479.8 660,503.4 670,522.0 680,478.0 690,423.3" fill="none" stroke="#000" stroke-width="2" />
<polyline points="50,122.3 60,123.9 70,119.7 80,113.0 90,114.1 100,113.0 110,114.5 120,143.3 130,159.5 140,167.8 150,161.0 160,156.8 170,158.1 180,160.0 190,145.5 200,151.4 210,163.1 220,162.3 230,159.8 240,156.5 250,153.0 260,147.6 270,148.3 280,150.8 290,154.8 300,156.9 310,150.5 320,148.9 330,148.9 340,146.8 350,129.4 360,141.6 370,132.0 380,141.2 390,162.1 400,139.6 410,155.2 420,164.5 430,154.7 440,164.7 450,174.0 460,182.3 470,180.8 480,172.4 490,179.6 500,183.0 510,194.1 520,198.3 530,197.8 540,192.8 550,192.5 560,187.5 570,185.9 580,193.3 590,206.4 600,194.8 610,221.7 620,199.4 630,184.5 640,172.9 650,186.8 660,153.6 670,120.0 680,124.0 690,125.0" fill="none" stroke="#7A5520" stroke-width="1" />
<path d="M49,122h3v1h-3zM50,121h1v3h-1zM59,123h3v1h-3zM60,122h1v3h-1zM69,119h3v1h-3zM70,118h1v3h-1zM79,113h3v1h-3zM80,112h1v3h-1zM89,114h3v1h-3zM90,113h1v3h-1zM99,113h3v1h-3zM100,112h1v3h-1zM109,114h3v1h-3zM110,113h1v3h-1zM119,143h3v1h-3zM120,142h1v3h-1zM129,159h3v1h-3zM130,158h1v3h-1zM139,167h3v1h-3zM140,166h1v3h-1zM149,160h3v1h-3zM150,159h1v3h-1zM159,156h3v1h-3zM160,155h1v3h-1zM169,158h3v1h-3zM170,157h1v3h-1zM179,159h3v1h-3zM180,158h1v3h-1zM189,145h3v1h-3zM190,144h1v3h-1zM199,151h3v1h-3zM200,150h1v3h-1zM209,163h3v1h-3zM210,162h1v3h-1zM219,162h3v1h-3zM220,161h1v3h-1zM229,159h3v1h-3zM230,158h1v3h-1zM239,156h3v1h-3zM240,155h1v3h-1zM249,153h3v1h-3zM250,152h1v3h-1zM259,147h3v1h-3zM260,146h1v3h-1zM269,148h3v1h-3zM270,147h1v3h-1zM279,150h3v1h-3zM280,149h1v3h-1zM289,154h3v1h-3zM290,153h1v3h-1zM299,156h3v1h-3zM300,155h1v3h-1zM309,150h3v1h-3zM310,149h1v3h-1zM319,148h3v1h-3zM320,147h1v3h-1zM329,148h3v1h-3zM330,147h1v3h-1zM339,146h3v1h-3zM340,145h1v3h-1zM349,129h3v1h-3zM350,128h1v3h-1zM359,141h3v1h-3zM360,140h1v3h-1zM369,131h3v1h-3zM370,130h1v3h-1zM379,141h3v1h-3zM380,140h1v3h-1zM389,162h3v1h-3zM390,161h1v3h-1zM399,139h3v1h-3zM400,138h1v3h-1zM409,155h3v1h-3zM410,154h1v3h-1zM419,164h3v1h-3zM420,163h1v3h-1zM429,154h3v1h-3zM430,153h1v3h-1zM439,164h3v1h-3zM440,163h1v3h-1zM449,173h3v1h-3zM450,172h1v3h-1zM459,182h3v1h-3zM460,181h1v3h-1zM469,180h3v1h-3zM470,179h1v3h-1zM479,172h3v1h-3zM480,171h1v3h-1zM489,179h3v1h-3zM490,178h1v3h-1zM499,183h3v1h-3zM500,182h1v3h-1zM509,194h3v1h-3zM510,193h1v3h-1zM519,198h3v1h-3zM520,197h1v3h-1zM529,197h3v1h-3zM530,196h1v3h-1zM539,192h3v1h-3zM540,191h1v3h-1zM549,192h3v1h-3zM550,191h1v3h-1zM559,187h3v1h-3zM560,186h1v3h-1zM569,185h3v1h-3zM570,184h1v3h-1zM579,193h3v1h-3zM580,192h1v3h-1zM589,206h3v1h-3zM590,205h1v3h-1zM599,194h3v1h-3zM600,193h1v3h-1zM609,221h3v1h-3zM610,220h1v3h-1zM619,199h3v1h-3zM620,198h1v3h-1zM629,184h3v1h-3zM630,183h1v3h-1zM639,172h3v1h-3zM640,171h1v3h-1zM649,186h3v1h-3zM650,185h1v3h-1zM659,153h3v1h-3zM660,152h1v3h-1zM669,120h3v1h-3zM670,119h1v3h-1zM679,124h3v1h-3zM680,123h1v3h-1zM689,125h3v1h-3zM690,124h1v3h-1z" fill="#7A5520"/>
<polyline points="50,530.1 60,513.0 70,480.6 80,481.0 90,477.7 100,484.2 110,517.9 120,530.7 130,521.6 140,518.8 150,506.7 160,509.1 170,512.8 180,513.1 190,503.7 200,513.0 210,519.7 220,524.4 230,528.4 240,524.4 250,532.6 260,530.3 270,529.5 280,517.1 290,511.7 300,523.0 310,517.7 320,516.0 330,505.7 340,534.9 350,517.7 360,524.7 370,515.5 380,526.4 390,521.2 400,510.4 410,499.8 420,515.8 430,495.0 440,434.0 450,395.0 460,376.0 470,390.0 480,413.8 490,404.4 500,462.5 510,450.0 520,439.0 530,436.8 540,478.0 550,497.0 560,527.4 570,487.1 580,523.0 590,530.6 600,492.9 610,523.6 620,535.6 630,523.7 640,511.3 650,493.0 660,500.5 670,531.2 680,516.3 690,508.1" fill="none" stroke="#7A5520" stroke-width="1" />
<path d="M49,530h3v1h-3zM50,529h1v3h-1zM59,512h3v1h-3zM60,511h1v3h-1zM69,480h3v1h-3zM70,479h1v3h-1zM79,481h3v1h-3zM80,480h1v3h-1zM89,477h3v1h-3zM90,476h1v3h-1zM99,484h3v1h-3zM100,483h1v3h-1zM109,517h3v1h-3zM110,516h1v3h-1zM119,530h3v1h-3zM120,529h1v3h-1zM129,521h3v1h-3zM130,520h1v3h-1zM139,518h3v1h-3zM140,517h1v3h-1zM149,506h3v1h-3zM150,505h1v3h-1zM159,509h3v1h-3zM160,508h1v3h-1zM169,512h3v1h-3zM170,511h1v3h-1zM179,513h3v1h-3zM180,512h1v3h-1zM189,503h3v1h-3zM190,502h1v3h-1zM199,513h3v1h-3zM200,512h1v3h-1zM209,519h3v1h-3zM210,518h1v3h-1zM219,524h3v1h-3zM220,523h1v3h-1zM229,528h3v1h-3zM230,527h1v3h-1zM239,524h3v1h-3zM240,523h1v3h-1zM249,532h3v1h-3zM250,531h1v3h-1zM259,530h3v1h-3zM260,529h1v3h-1zM269,529h3v1h-3zM270,528h1v3h-1zM279,517h3v1h-3zM280,516h1v3h-1zM289,511h3v1h-3zM290,510h1v3h-1zM299,523h3v1h-3zM300,522h1v3h-1zM309,517h3v1h-3zM310,516h1v3h-1zM319,515h3v1h-3zM320,514h1v3h-1zM329,505h3v1h-3zM330,504h1v3h-1zM339,534h3v1h-3zM340,533h1v3h-1zM349,517h3v1h-3zM350,516h1v3h-1zM359,524h3v1h-3zM360,523h1v3h-1zM369,515h3v1h-3zM370,514h1v3h-1zM379,526h3v1h-3zM380,525h1v3h-1zM389,521h3v1h-3zM390,520h1v3h-1zM399,510h3v1h-3zM400,509h1v3h-1zM409,499h3v1h-3zM410,498h1v3h-1zM419,515h3v1h-3zM420,514h1v3h-1zM429,495h3v1h-3zM430,494h1v3h-1zM439,434h3v1h-3zM440,433h1v3h-1zM449,395h3v1h-3zM450,394h1v3h-1zM459,376h3v1h-3zM460,375h1v3h-1zM469,390h3v1h-3zM470,389h1v3h-1zM479,413h3v1h-3zM480,412h1v3h-1zM489,404h3v1h-3zM490,403h1v3h-1zM499,462h3v1h-3zM500,461h1v3h-1zM509,450h3v1h-3zM510,449h1v3h-1zM519,439h3v1h-3zM520,438h1v3h-1zM529,436h3v1h-3zM530,435h1v3h-1zM539,478h3v1h-3zM540,477h1v3h-1zM549,497h3v1h-3zM550,496h1v3h-1zM559,527h3v1h-3zM560,526h1v3h-1zM569,487h3v1h-3zM570,486h1v3h-1zM579,523h3v1h-3zM580,522h1v3h-1zM589,530h3v1h-3zM590,529h1v3h-1zM599,492h3v1h-3zM600,491h1v3h-1zM609,523h3v1h-3zM610,522h1v3h-1zM619,535h3v1h-3zM620,534h1v3h-1zM629,523h3v1h-3zM630,522h1v3h-1zM639,511h3v1h-3zM640,510h1v3h-1zM649,492h3v1h-3zM650,491h1v3h-1zM659,500h3v1h-3zM660,499h1v3h-1zM669,531h3v1h-3zM670,530h1v3h-1zM679,516h3v1h-3zM680,515h1v3h-1zM689,508h3v1h-3zM690,507h1v3h-1z" fill="#7A5520"/>
<polyline points="50,123.0 60,126.5 70,120.5 80,118.2 90,119.1 100,121.8 110,140.2 120,166.4 130,174.8 140,179.0 150,169.6 160,162.2 170,166.7 180,167.7 190,153.8 200,163.6 210,164.4 220,162.2 230,158.7 240,163.8 250,164.4 260,171.6 270,159.5 280,166.7 290,172.1 300,164.4 310,170.0 320,181.0 330,193.0 340,180.0 350,175.0 360,173.6 370,178.7 380,176.5 390,166.5 400,154.5 410,184.9 420,184.4 430,188.9 440,159.6 450,162.4 460,164.6 470,179.2 480,179.6 490,174.8 500,172.8 510,182.7 520,189.4 530,205.3 540,189.7 550,199.3 560,193.4 570,210.9 580,196.1 590,183.9 600,177.8 610,189.1 620,175.1 630,176.4 640,193.9 650,185.0 660,172.2 670,174.5 680,155.7 690,187.0" fill="none" stroke="#2E0A6E" stroke-width="1" />
<path d="M49,123h3v1h-3zM50,122h1v3h-1zM59,126h3v1h-3zM60,125h1v3h-1zM69,120h3v1h-3zM70,119h1v3h-1zM79,118h3v1h-3zM80,117h1v3h-1zM89,119h3v1h-3zM90,118h1v3h-1zM99,121h3v1h-3zM100,120h1v3h-1zM109,140h3v1h-3zM110,139h1v3h-1zM119,166h3v1h-3zM120,165h1v3h-1zM129,174h3v1h-3zM130,173h1v3h-1zM139,179h3v1h-3zM140,178h1v3h-1zM149,169h3v1h-3zM150,168h1v3h-1zM159,162h3v1h-3zM160,161h1v3h-1zM169,166h3v1h-3zM170,165h1v3h-1zM179,167h3v1h-3zM180,166h1v3h-1zM189,153h3v1h-3zM190,152h1v3h-1zM199,163h3v1h-3zM200,162h1v3h-1zM209,164h3v1h-3zM210,163h1v3h-1zM219,162h3v1h-3zM220,161h1v3h-1zM229,158h3v1h-3zM230,157h1v3h-1zM239,163h3v1h-3zM240,162h1v3h-1zM249,164h3v1h-3zM250,163h1v3h-1zM259,171h3v1h-3zM260,170h1v3h-1zM269,159h3v1h-3zM270,158h1v3h-1zM279,166h3v1h-3zM280,165h1v3h-1zM289,172h3v1h-3zM290,171h1v3h-1zM299,164h3v1h-3zM300,163h1v3h-1zM309,170h3v1h-3zM310,169h1v3h-1zM319,181h3v1h-3zM320,180h1v3h-1zM329,193h3v1h-3zM330,192h1v3h-1zM339,180h3v1h-3zM340,179h1v3h-1zM349,175h3v1h-3zM350,174h1v3h-1zM359,173h3v1h-3zM360,172h1v3h-1zM369,178h3v1h-3zM370,177h1v3h-1zM379,176h3v1h-3zM380,175h1v3h-1zM389,166h3v1h-3zM390,165h1v3h-1zM399,154h3v1h-3zM400,153h1v3h-1zM409,184h3v1h-3zM410,183h1v3h-1zM419,184h3v1h-3zM420,183h1v3h-1zM429,188h3v1h-3zM430,187h1v3h-1zM439,159h3v1h-3zM440,158h1v3h-1zM449,162h3v1h-3zM450,161h1v3h-1zM459,164h3v1h-3zM460,163h1v3h-1zM469,179h3v1h-3zM470,178h1v3h-1zM479,179h3v1h-3zM480,178h1v3h-1zM489,174h3v1h-3zM490,173h1v3h-1zM499,172h3v1h-3zM500,171h1v3h-1zM509,182h3v1h-3zM510,181h1v3h-1zM519,189h3v1h-3zM520,188h1v3h-1zM529,205h3v1h-3zM530,204h1v3h-1zM539,189h3v1h-3zM540,188h1v3h-1zM549,199h3v1h-3zM550,198h1v3h-1zM559,193h3v1h-3zM560,192h1v3h-1zM569,210h3v1h-3zM570,209h1v3h-1zM579,196h3v1h-3zM580,195h1v3h-1zM589,183h3v1h-3zM590,182h1v3h-1zM599,177h3v1h-3zM600,176h1v3h-1zM609,189h3v1h-3zM610,188h1v3h-1zM619,175h3v1h-3zM620,174h1v3h-1zM629,176h3v1h-3zM630,175h1v3h-1zM639,193h3v1h-3zM640,192h1v3h-1zM649,185h3v1h-3zM650,184h1v3h-1zM659,172h3v1h-3zM660,171h1v3h-1zM669,174h3v1h-3zM670,173h1v3h-1zM679,155h3v1h-3zM680,154h1v3h-1zM689,187h3v1h-3zM690,186h1v3h-1z" fill="#2E0A6E"/>
<polyline points="50,531.1 60,516.6 70,492.9 80,496.2 90,518.5 100,514.5 110,518.5 120,528.7 130,532.7 140,528.6 150,521.6 160,529.7 170,518.6 180,523.8 190,508.8 200,516.3 210,520.2 220,533.3 230,517.8 240,527.2 250,534.5 260,539.1 270,527.3 280,512.3 290,517.6 300,532.1 310,528.3 320,522.8 330,535.4 340,537.4 350,530.4 360,537.1 370,538.7 380,538.4 390,484.5 400,483.0 410,453.0 420,516.0 430,541.4 440,518.6 450,535.7 460,536.8 470,525.4 480,544.2 490,525.8 500,536.6 510,540.5 520,539.8 530,542.7 540,543.9 550,539.3 560,538.4 570,538.2 580,544.1 590,540.7 600,535.3 610,527.7 620,539.4 630,538.9 640,531.9 650,529.7 660,537.7 670,496.2 680,511.8 690,520.8" fill="none" stroke="#2E0A6E" stroke-width="1" />
<path d="M49,531h3v1h-3zM50,530h1v3h-1zM59,516h3v1h-3zM60,515h1v3h-1zM69,492h3v1h-3zM70,491h1v3h-1zM79,496h3v1h-3zM80,495h1v3h-1zM89,518h3v1h-3zM90,517h1v3h-1zM99,514h3v1h-3zM100,513h1v3h-1zM109,518h3v1h-3zM110,517h1v3h-1zM119,528h3v1h-3zM120,527h1v3h-1zM129,532h3v1h-3zM130,531h1v3h-1zM139,528h3v1h-3zM140,527h1v3h-1zM149,521h3v1h-3zM150,520h1v3h-1zM159,529h3v1h-3zM160,528h1v3h-1zM169,518h3v1h-3zM170,517h1v3h-1zM179,523h3v1h-3zM180,522h1v3h-1zM189,508h3v1h-3zM190,507h1v3h-1zM199,516h3v1h-3zM200,515h1v3h-1zM209,520h3v1h-3zM210,519h1v3h-1zM219,533h3v1h-3zM220,532h1v3h-1zM229,517h3v1h-3zM230,516h1v3h-1zM239,527h3v1h-3zM240,526h1v3h-1zM249,534h3v1h-3zM250,533h1v3h-1zM259,539h3v1h-3zM260,538h1v3h-1zM269,527h3v1h-3zM270,526h1v3h-1zM279,512h3v1h-3zM280,511h1v3h-1zM289,517h3v1h-3zM290,516h1v3h-1zM299,532h3v1h-3zM300,531h1v3h-1zM309,528h3v1h-3zM310,527h1v3h-1zM319,522h3v1h-3zM320,521h1v3h-1zM329,535h3v1h-3zM330,534h1v3h-1zM339,537h3v1h-3zM340,536h1v3h-1zM349,530h3v1h-3zM350,529h1v3h-1zM359,537h3v1h-3zM360,536h1v3h-1zM369,538h3v1h-3zM370,537h1v3h-1zM379,538h3v1h-3zM380,537h1v3h-1zM389,484h3v1h-3zM390,483h1v3h-1zM399,483h3v1h-3zM400,482h1v3h-1zM409,453h3v1h-3zM410,452h1v3h-1zM419,516h3v1h-3zM420,515h1v3h-1zM429,541h3v1h-3zM430,540h1v3h-1zM439,518h3v1h-3zM440,517h1v3h-1zM449,535h3v1h-3zM450,534h1v3h-1zM459,536h3v1h-3zM460,535h1v3h-1zM469,525h3v1h-3zM470,524h1v3h-1zM479,544h3v1h-3zM480,543h1v3h-1zM489,525h3v1h-3zM490,524h1v3h-1zM499,536h3v1h-3zM500,535h1v3h-1zM509,540h3v1h-3zM510,539h1v3h-1zM519,539h3v1h-3zM520,538h1v3h-1zM529,542h3v1h-3zM530,541h1v3h-1zM539,543h3v1h-3zM540,542h1v3h-1zM549,539h3v1h-3zM550,538h1v3h-1zM559,538h3v1h-3zM560,537h1v3h-1zM569,538h3v1h-3zM570,537h1v3h-1zM579,544h3v1h-3zM580,543h1v3h-1zM589,540h3v1h-3zM590,539h1v3h-1zM599,535h3v1h-3zM600,534h1v3h-1zM609,527h3v1h-3zM610,526h1v3h-1zM619,539h3v1h-3zM620,538h1v3h-1zM629,538h3v1h-3zM630,537h1v3h-1zM639,531h3v1h-3zM640,530h1v3h-1zM649,529h3v1h-3zM650,528h1v3h-1zM659,537h3v1h-3zM660,536h1v3h-1zM669,496h3v1h-3zM670,495h1v3h-1zM679,511h3v1h-3zM680,510h1v3h-1zM689,520h3v1h-3zM690,519h1v3h-1z" fill="#2E0A6E"/>
<polyline points="50,121.2 60,122.0 70,116.6 80,106.0 90,109.4 100,109.1 110,108.9 120,117.9 130,136.8 140,151.7 150,140.5 160,141.6 170,145.6 180,145.1 190,133.6 200,138.9 210,149.6 220,148.9 230,140.0 240,141.1 250,144.9 260,149.7 270,152.6 280,148.5 290,145.6 300,137.8 310,129.8 320,141.7 330,144.0 340,150.0 350,136.0 360,129.8 370,134.3 380,136.7 390,142.5 400,131.7 410,132.3 420,131.6 430,131.0 440,140.5 450,147.6 460,145.9 470,148.9 480,148.7 490,153.2 500,149.4 510,147.5 520,141.8 530,170.6 540,159.3 550,142.5 560,145.9 570,149.0 580,140.3 590,136.3 600,135.1 610,140.0 620,136.6 630,130.0 640,119.8 650,126.6 660,120.0 670,128.0 680,140.0 690,129.8" fill="none" stroke="#F5D010" stroke-width="1" />
<path d="M49,121h3v1h-3zM50,120h1v3h-1zM59,122h3v1h-3zM60,121h1v3h-1zM69,116h3v1h-3zM70,115h1v3h-1zM79,106h3v1h-3zM80,105h1v3h-1zM89,109h3v1h-3zM90,108h1v3h-1zM99,109h3v1h-3zM100,108h1v3h-1zM109,108h3v1h-3zM110,107h1v3h-1zM119,117h3v1h-3zM120,116h1v3h-1zM129,136h3v1h-3zM130,135h1v3h-1zM139,151h3v1h-3zM140,150h1v3h-1zM149,140h3v1h-3zM150,139h1v3h-1zM159,141h3v1h-3zM160,140h1v3h-1zM169,145h3v1h-3zM170,144h1v3h-1zM179,145h3v1h-3zM180,144h1v3h-1zM189,133h3v1h-3zM190,132h1v3h-1zM199,138h3v1h-3zM200,137h1v3h-1zM209,149h3v1h-3zM210,148h1v3h-1zM219,148h3v1h-3zM220,147h1v3h-1zM229,139h3v1h-3zM230,138h1v3h-1zM239,141h3v1h-3zM240,140h1v3h-1zM249,144h3v1h-3zM250,143h1v3h-1zM259,149h3v1h-3zM260,148h1v3h-1zM269,152h3v1h-3zM270,151h1v3h-1zM279,148h3v1h-3zM280,147h1v3h-1zM289,145h3v1h-3zM290,144h1v3h-1zM299,137h3v1h-3zM300,136h1v3h-1zM309,129h3v1h-3zM310,128h1v3h-1zM319,141h3v1h-3zM320,140h1v3h-1zM329,143h3v1h-3zM330,142h1v3h-1zM339,149h3v1h-3zM340,148h1v3h-1zM349,135h3v1h-3zM350,134h1v3h-1zM359,129h3v1h-3zM360,128h1v3h-1zM369,134h3v1h-3zM370,133h1v3h-1zM379,136h3v1h-3zM380,135h1v3h-1zM389,142h3v1h-3zM390,141h1v3h-1zM399,131h3v1h-3zM400,130h1v3h-1zM409,132h3v1h-3zM410,131h1v3h-1zM419,131h3v1h-3zM420,130h1v3h-1zM429,131h3v1h-3zM430,130h1v3h-1zM439,140h3v1h-3zM440,139h1v3h-1zM449,147h3v1h-3zM450,146h1v3h-1zM459,145h3v1h-3zM460,144h1v3h-1zM469,148h3v1h-3zM470,147h1v3h-1zM479,148h3v1h-3zM480,147h1v3h-1zM489,153h3v1h-3zM490,152h1v3h-1zM499,149h3v1h-3zM500,148h1v3h-1zM509,147h3v1h-3zM510,146h1v3h-1zM519,141h3v1h-3zM520,140h1v3h-1zM529,170h3v1h-3zM530,169h1v3h-1zM539,159h3v1h-3zM540,158h1v3h-1zM549,142h3v1h-3zM550,141h1v3h-1zM559,145h3v1h-3zM560,144h1v3h-1zM569,149h3v1h-3zM570,148h1v3h-1zM579,140h3v1h-3zM580,139h1v3h-1zM589,136h3v1h-3zM590,135h1v3h-1zM599,135h3v1h-3zM600,134h1v3h-1zM609,140h3v1h-3zM610,139h1v3h-1zM619,136h3v1h-3zM620,135h1v3h-1zM629,130h3v1h-3zM630,129h1v3h-1zM639,119h3v1h-3zM640,118h1v3h-1zM649,126h3v1h-3zM650,125h1v3h-1zM659,120h3v1h-3zM660,119h1v3h-1zM669,128h3v1h-3zM670,127h1v3h-1zM679,140h3v1h-3zM680,139h1v3h-1zM689,129h3v1h-3zM690,128h1v3h-1z" fill="#F5D010"/>
<polyline points="50,525.9 60,516.7 70,488.7 80,508.3 90,532.6 100,512.2 110,533.2 120,540.0 130,539.3 140,517.2 150,522.3 160,515.8 170,515.5 180,521.1 190,526.6 200,512.2 210,515.3 220,532.8 230,511.3 240,522.5 250,516.8 260,538.9 270,523.1 280,514.4 290,515.3 300,520.4 310,518.7 320,511.0 330,492.3 340,499.9 350,517.3 360,538.3 370,528.5 380,539.6 390,527.3 400,523.1 410,509.6 420,538.4 430,513.6 440,543.5 450,543.0 460,528.2 470,533.9 480,532.4 490,510.2 500,517.7 510,534.3 520,527.4 530,540.6 540,535.7 550,534.7 560,518.7 570,501.0 580,535.9 590,505.4 600,518.9 610,541.3 620,539.3 630,544.5 640,539.2 650,537.6 660,536.8 670,541.0 680,536.1 690,537.4" fill="none" stroke="#F5D010" stroke-width="1" />
<path d="M49,525h3v1h-3zM50,524h1v3h-1zM59,516h3v1h-3zM60,515h1v3h-1zM69,488h3v1h-3zM70,487h1v3h-1zM79,508h3v1h-3zM80,507h1v3h-1zM89,532h3v1h-3zM90,531h1v3h-1zM99,512h3v1h-3zM100,511h1v3h-1zM109,533h3v1h-3zM110,532h1v3h-1zM119,539h3v1h-3zM120,538h1v3h-1zM129,539h3v1h-3zM130,538h1v3h-1zM139,517h3v1h-3zM140,516h1v3h-1zM149,522h3v1h-3zM150,521h1v3h-1zM159,515h3v1h-3zM160,514h1v3h-1zM169,515h3v1h-3zM170,514h1v3h-1zM179,521h3v1h-3zM180,520h1v3h-1zM189,526h3v1h-3zM190,525h1v3h-1zM199,512h3v1h-3zM200,511h1v3h-1zM209,515h3v1h-3zM210,514h1v3h-1zM219,532h3v1h-3zM220,531h1v3h-1zM229,511h3v1h-3zM230,510h1v3h-1zM239,522h3v1h-3zM240,521h1v3h-1zM249,516h3v1h-3zM250,515h1v3h-1zM259,538h3v1h-3zM260,537h1v3h-1zM269,523h3v1h-3zM270,522h1v3h-1zM279,514h3v1h-3zM280,513h1v3h-1zM289,515h3v1h-3zM290,514h1v3h-1zM299,520h3v1h-3zM300,519h1v3h-1zM309,518h3v1h-3zM310,517h1v3h-1zM319,510h3v1h-3zM320,509h1v3h-1zM329,492h3v1h-3zM330,491h1v3h-1zM339,499h3v1h-3zM340,498h1v3h-1zM349,517h3v1h-3zM350,516h1v3h-1zM359,538h3v1h-3zM360,537h1v3h-1zM369,528h3v1h-3zM370,527h1v3h-1zM379,539h3v1h-3zM380,538h1v3h-1zM389,527h3v1h-3zM390,526h1v3h-1zM399,523h3v1h-3zM400,522h1v3h-1zM409,509h3v1h-3zM410,508h1v3h-1zM419,538h3v1h-3zM420,537h1v3h-1zM429,513h3v1h-3zM430,512h1v3h-1zM439,543h3v1h-3zM440,542h1v3h-1zM449,542h3v1h-3zM450,541h1v3h-1zM459,528h3v1h-3zM460,527h1v3h-1zM469,533h3v1h-3zM470,532h1v3h-1zM479,532h3v1h-3zM480,531h1v3h-1zM489,510h3v1h-3zM490,509h1v3h-1zM499,517h3v1h-3zM500,516h1v3h-1zM509,534h3v1h-3zM510,533h1v3h-1zM519,527h3v1h-3zM520,526h1v3h-1zM529,540h3v1h-3zM530,539h1v3h-1zM539,535h3v1h-3zM540,534h1v3h-1zM549,534h3v1h-3zM550,533h1v3h-1zM559,518h3v1h-3zM560,517h1v3h-1zM569,500h3v1h-3zM570,499h1v3h-1zM579,535h3v1h-3zM580,534h1v3h-1zM589,505h3v1h-3zM590,504h1v3h-1zM599,518h3v1h-3zM600,517h1v3h-1zM609,541h3v1h-3zM610,540h1v3h-1zM619,539h3v1h-3zM620,538h1v3h-1zM629,544h3v1h-3zM630,543h1v3h-1zM639,539h3v1h-3zM640,538h1v3h-1zM649,537h3v1h-3zM650,536h1v3h-1zM659,536h3v1h-3zM660,535h1v3h-1zM669,540h3v1h-3zM670,539h1v3h-1zM679,536h3v1h-3zM680,535h1v3h-1zM689,537h3v1h-3zM690,536h1v3h-1z" fill="#F5D010"/>
<polyline points="50,120.9 60,121.7 70,115.7 80,106.6 90,110.6 100,120.0 110,143.0 120,171.5 130,178.4 140,178.0 150,165.0 160,143.2 170,150.5 180,148.1 190,131.0 200,138.7 210,144.7 220,147.1 230,139.3 240,136.0 250,138.6 260,146.3 270,136.2 280,133.9 290,135.6 300,136.7 310,135.0 320,141.5 330,175.0 340,189.7 350,178.0 360,130.7 370,128.0 380,134.8 390,147.6 400,158.2 410,156.8 420,167.4 430,163.0 440,170.7 450,157.7 460,141.9 470,157.7 480,157.3 490,168.3 500,158.0 510,165.4 520,173.7 530,156.5 540,159.0 550,162.1 560,149.4 570,148.2 580,136.7 590,131.4 600,145.7 610,140.6 620,154.0 630,137.8 640,126.6 650,143.7 660,142.2 670,129.6 680,128.2 690,141.2" fill="none" stroke="#2A6CA8" stroke-width="1" />
<path d="M49,120h3v1h-3zM50,119h1v3h-1zM59,121h3v1h-3zM60,120h1v3h-1zM69,115h3v1h-3zM70,114h1v3h-1zM79,106h3v1h-3zM80,105h1v3h-1zM89,110h3v1h-3zM90,109h1v3h-1zM99,120h3v1h-3zM100,119h1v3h-1zM109,143h3v1h-3zM110,142h1v3h-1zM119,171h3v1h-3zM120,170h1v3h-1zM129,178h3v1h-3zM130,177h1v3h-1zM139,178h3v1h-3zM140,177h1v3h-1zM149,165h3v1h-3zM150,164h1v3h-1zM159,143h3v1h-3zM160,142h1v3h-1zM169,150h3v1h-3zM170,149h1v3h-1zM179,148h3v1h-3zM180,147h1v3h-1zM189,131h3v1h-3zM190,130h1v3h-1zM199,138h3v1h-3zM200,137h1v3h-1zM209,144h3v1h-3zM210,143h1v3h-1zM219,147h3v1h-3zM220,146h1v3h-1zM229,139h3v1h-3zM230,138h1v3h-1zM239,135h3v1h-3zM240,134h1v3h-1zM249,138h3v1h-3zM250,137h1v3h-1zM259,146h3v1h-3zM260,145h1v3h-1zM269,136h3v1h-3zM270,135h1v3h-1zM279,133h3v1h-3zM280,132h1v3h-1zM289,135h3v1h-3zM290,134h1v3h-1zM299,136h3v1h-3zM300,135h1v3h-1zM309,134h3v1h-3zM310,133h1v3h-1zM319,141h3v1h-3zM320,140h1v3h-1zM329,175h3v1h-3zM330,174h1v3h-1zM339,189h3v1h-3zM340,188h1v3h-1zM349,178h3v1h-3zM350,177h1v3h-1zM359,130h3v1h-3zM360,129h1v3h-1zM369,127h3v1h-3zM370,126h1v3h-1zM379,134h3v1h-3zM380,133h1v3h-1zM389,147h3v1h-3zM390,146h1v3h-1zM399,158h3v1h-3zM400,157h1v3h-1zM409,156h3v1h-3zM410,155h1v3h-1zM419,167h3v1h-3zM420,166h1v3h-1zM429,163h3v1h-3zM430,162h1v3h-1zM439,170h3v1h-3zM440,169h1v3h-1zM449,157h3v1h-3zM450,156h1v3h-1zM459,141h3v1h-3zM460,140h1v3h-1zM469,157h3v1h-3zM470,156h1v3h-1zM479,157h3v1h-3zM480,156h1v3h-1zM489,168h3v1h-3zM490,167h1v3h-1zM499,157h3v1h-3zM500,156h1v3h-1zM509,165h3v1h-3zM510,164h1v3h-1zM519,173h3v1h-3zM520,172h1v3h-1zM529,156h3v1h-3zM530,155h1v3h-1zM539,159h3v1h-3zM540,158h1v3h-1zM549,162h3v1h-3zM550,161h1v3h-1zM559,149h3v1h-3zM560,148h1v3h-1zM569,148h3v1h-3zM570,147h1v3h-1zM579,136h3v1h-3zM580,135h1v3h-1zM589,131h3v1h-3zM590,130h1v3h-1zM599,145h3v1h-3zM600,144h1v3h-1zM609,140h3v1h-3zM610,139h1v3h-1zM619,154h3v1h-3zM620,153h1v3h-1zM629,137h3v1h-3zM630,136h1v3h-1zM639,126h3v1h-3zM640,125h1v3h-1zM649,143h3v1h-3zM650,142h1v3h-1zM659,142h3v1h-3zM660,141h1v3h-1zM669,129h3v1h-3zM670,128h1v3h-1zM679,128h3v1h-3zM680,127h1v3h-1zM689,141h3v1h-3zM690,140h1v3h-1z" fill="#2A6CA8"/>
<polyline points="50,529.0 60,514.2 70,485.9 80,495.7 90,517.8 100,516.4 110,525.6 120,528.0 130,525.6 140,515.0 150,519.0 160,520.9 170,527.4 180,529.4 190,535.3 200,533.7 210,526.2 220,523.0 230,510.8 240,522.6 250,514.3 260,532.4 270,518.9 280,520.9 290,523.4 300,520.1 310,510.9 320,496.9 330,507.3 340,496.0 350,488.7 360,503.8 370,544.0 380,529.1 390,524.0 400,518.5 410,512.0 420,512.7 430,523.3 440,518.6 450,532.8 460,531.0 470,526.4 480,522.2 490,506.2 500,537.1 510,512.8 520,507.6 530,535.8 540,532.4 550,511.1 560,508.9 570,538.9 580,541.0 590,505.0 600,440.5 610,455.0 620,515.0 630,506.5 640,503.7 650,521.7 660,544.3 670,535.0 680,533.0 690,542.2" fill="none" stroke="#2A6CA8" stroke-width="1" />
<path d="M49,528h3v1h-3zM50,527h1v3h-1zM59,514h3v1h-3zM60,513h1v3h-1zM69,485h3v1h-3zM70,484h1v3h-1zM79,495h3v1h-3zM80,494h1v3h-1zM89,517h3v1h-3zM90,516h1v3h-1zM99,516h3v1h-3zM100,515h1v3h-1zM109,525h3v1h-3zM110,524h1v3h-1zM119,528h3v1h-3zM120,527h1v3h-1zM129,525h3v1h-3zM130,524h1v3h-1zM139,515h3v1h-3zM140,514h1v3h-1zM149,519h3v1h-3zM150,518h1v3h-1zM159,520h3v1h-3zM160,519h1v3h-1zM169,527h3v1h-3zM170,526h1v3h-1zM179,529h3v1h-3zM180,528h1v3h-1zM189,535h3v1h-3zM190,534h1v3h-1zM199,533h3v1h-3zM200,532h1v3h-1zM209,526h3v1h-3zM210,525h1v3h-1zM219,522h3v1h-3zM220,521h1v3h-1zM229,510h3v1h-3zM230,509h1v3h-1zM239,522h3v1h-3zM240,521h1v3h-1zM249,514h3v1h-3zM250,513h1v3h-1zM259,532h3v1h-3zM260,531h1v3h-1zM269,518h3v1h-3zM270,517h1v3h-1zM279,520h3v1h-3zM280,519h1v3h-1zM289,523h3v1h-3zM290,522h1v3h-1zM299,520h3v1h-3zM300,519h1v3h-1zM309,510h3v1h-3zM310,509h1v3h-1zM319,496h3v1h-3zM320,495h1v3h-1zM329,507h3v1h-3zM330,506h1v3h-1zM339,496h3v1h-3zM340,495h1v3h-1zM349,488h3v1h-3zM350,487h1v3h-1zM359,503h3v1h-3zM360,502h1v3h-1zM369,544h3v1h-3zM370,543h1v3h-1zM379,529h3v1h-3zM380,528h1v3h-1zM389,524h3v1h-3zM390,523h1v3h-1zM399,518h3v1h-3zM400,517h1v3h-1zM409,512h3v1h-3zM410,511h1v3h-1zM419,512h3v1h-3zM420,511h1v3h-1zM429,523h3v1h-3zM430,522h1v3h-1zM439,518h3v1h-3zM440,517h1v3h-1zM449,532h3v1h-3zM450,531h1v3h-1zM459,531h3v1h-3zM460,530h1v3h-1zM469,526h3v1h-3zM470,525h1v3h-1zM479,522h3v1h-3zM480,521h1v3h-1zM489,506h3v1h-3zM490,505h1v3h-1zM499,537h3v1h-3zM500,536h1v3h-1zM509,512h3v1h-3zM510,511h1v3h-1zM519,507h3v1h-3zM520,506h1v3h-1zM529,535h3v1h-3zM530,534h1v3h-1zM539,532h3v1h-3zM540,531h1v3h-1zM549,511h3v1h-3zM550,510h1v3h-1zM559,508h3v1h-3zM560,507h1v3h-1zM569,538h3v1h-3zM570,537h1v3h-1zM579,541h3v1h-3zM580,540h1v3h-1zM589,505h3v1h-3zM590,504h1v3h-1zM599,440h3v1h-3zM600,439h1v3h-1zM609,455h3v1h-3zM610,454h1v3h-1zM619,515h3v1h-3zM620,514h1v3h-1zM629,506h3v1h-3zM630,505h1v3h-1zM639,503h3v1h-3zM640,502h1v3h-1zM649,521h3v1h-3zM650,520h1v3h-1zM659,544h3v1h-3zM660,543h1v3h-1zM669,535h3v1h-3zM670,534h1v3h-1zM679,532h3v1h-3zM680,531h1v3h-1zM689,542h3v1h-3zM690,541h1v3h-1z" fill="#2A6CA8"/>
<polyline points="50,122.8 60,125.4 70,117.0 80,100.0 90,108.0 100,108.0 110,105.5 120,118.0 130,166.8 140,176.3 150,161.9 160,161.5 170,161.0 180,160.2 190,149.6 200,160.1 210,165.3 220,158.6 230,156.8 240,158.7 250,168.1 260,173.7 270,168.8 280,165.7 290,179.8 300,172.2 310,165.9 320,174.6 330,184.1 340,186.0 350,169.1 360,162.1 370,174.6 380,187.0 390,192.0 400,201.6 410,212.4 420,200.5 430,198.0 440,186.3 450,184.5 460,169.5 470,177.3 480,170.2 490,172.6 500,167.6 510,168.8 520,166.6 530,165.5 540,165.2 550,144.2 560,156.7 570,152.7 580,152.8 590,150.4 600,151.9 610,145.9 620,161.1 630,165.2 640,150.4 650,142.4 660,137.3 670,133.8 680,140.0 690,156.9" fill="none" stroke="#915520" stroke-width="1" />
<path d="M49,122h3v1h-3zM50,121h1v3h-1zM59,125h3v1h-3zM60,124h1v3h-1zM69,117h3v1h-3zM70,116h1v3h-1zM79,100h3v1h-3zM80,99h1v3h-1zM89,108h3v1h-3zM90,107h1v3h-1zM99,108h3v1h-3zM100,107h1v3h-1zM109,105h3v1h-3zM110,104h1v3h-1zM119,118h3v1h-3zM120,117h1v3h-1zM129,166h3v1h-3zM130,165h1v3h-1zM139,176h3v1h-3zM140,175h1v3h-1zM149,161h3v1h-3zM150,160h1v3h-1zM159,161h3v1h-3zM160,160h1v3h-1zM169,160h3v1h-3zM170,159h1v3h-1zM179,160h3v1h-3zM180,159h1v3h-1zM189,149h3v1h-3zM190,148h1v3h-1zM199,160h3v1h-3zM200,159h1v3h-1zM209,165h3v1h-3zM210,164h1v3h-1zM219,158h3v1h-3zM220,157h1v3h-1zM229,156h3v1h-3zM230,155h1v3h-1zM239,158h3v1h-3zM240,157h1v3h-1zM249,168h3v1h-3zM250,167h1v3h-1zM259,173h3v1h-3zM260,172h1v3h-1zM269,168h3v1h-3zM270,167h1v3h-1zM279,165h3v1h-3zM280,164h1v3h-1zM289,179h3v1h-3zM290,178h1v3h-1zM299,172h3v1h-3zM300,171h1v3h-1zM309,165h3v1h-3zM310,164h1v3h-1zM319,174h3v1h-3zM320,173h1v3h-1zM329,184h3v1h-3zM330,183h1v3h-1zM339,186h3v1h-3zM340,185h1v3h-1zM349,169h3v1h-3zM350,168h1v3h-1zM359,162h3v1h-3zM360,161h1v3h-1zM369,174h3v1h-3zM370,173h1v3h-1zM379,187h3v1h-3zM380,186h1v3h-1zM389,192h3v1h-3zM390,191h1v3h-1zM399,201h3v1h-3zM400,200h1v3h-1zM409,212h3v1h-3zM410,211h1v3h-1zM419,200h3v1h-3zM420,199h1v3h-1zM429,198h3v1h-3zM430,197h1v3h-1zM439,186h3v1h-3zM440,185h1v3h-1zM449,184h3v1h-3zM450,183h1v3h-1zM459,169h3v1h-3zM460,168h1v3h-1zM469,177h3v1h-3zM470,176h1v3h-1zM479,170h3v1h-3zM480,169h1v3h-1zM489,172h3v1h-3zM490,171h1v3h-1zM499,167h3v1h-3zM500,166h1v3h-1zM509,168h3v1h-3zM510,167h1v3h-1zM519,166h3v1h-3zM520,165h1v3h-1zM529,165h3v1h-3zM530,164h1v3h-1zM539,165h3v1h-3zM540,164h1v3h-1zM549,144h3v1h-3zM550,143h1v3h-1zM559,156h3v1h-3zM560,155h1v3h-1zM569,152h3v1h-3zM570,151h1v3h-1zM579,152h3v1h-3zM580,151h1v3h-1zM589,150h3v1h-3zM590,149h1v3h-1zM599,151h3v1h-3zM600,150h1v3h-1zM609,145h3v1h-3zM610,144h1v3h-1zM619,161h3v1h-3zM620,160h1v3h-1zM629,165h3v1h-3zM630,164h1v3h-1zM639,150h3v1h-3zM640,149h1v3h-1zM649,142h3v1h-3zM650,141h1v3h-1zM659,137h3v1h-3zM660,136h1v3h-1zM669,133h3v1h-3zM670,132h1v3h-1zM679,140h3v1h-3zM680,139h1v3h-1zM689,156h3v1h-3zM690,155h1v3h-1z" fill="#915520"/>
<polyline points="50,535.6 60,515.8 70,493.4 80,507.0 90,531.3 100,524.4 110,536.0 120,536.1 130,543.4 140,531.5 150,527.8 160,519.7 170,528.9 180,524.7 190,535.8 200,536.0 210,538.4 220,541.6 230,534.7 240,537.2 250,520.2 260,540.0 270,528.8 280,531.9 290,520.4 300,535.8 310,528.4 320,541.1 330,528.5 340,536.0 350,535.3 360,544.2 370,536.5 380,535.2 390,538.5 400,539.4 410,543.8 420,539.7 430,541.7 440,540.0 450,538.1 460,534.2 470,519.2 480,544.2 490,544.4 500,540.0 510,538.7 520,538.0 530,538.9 540,519.7 550,535.7 560,540.0 570,540.9 580,540.9 590,526.9 600,525.7 610,539.5 620,524.5 630,523.6 640,517.1 650,531.4 660,532.6 670,516.4 680,541.4 690,539.4" fill="none" stroke="#915520" stroke-width="1" />
<path d="M49,535h3v1h-3zM50,534h1v3h-1zM59,515h3v1h-3zM60,514h1v3h-1zM69,493h3v1h-3zM70,492h1v3h-1zM79,506h3v1h-3zM80,505h1v3h-1zM89,531h3v1h-3zM90,530h1v3h-1zM99,524h3v1h-3zM100,523h1v3h-1zM109,536h3v1h-3zM110,535h1v3h-1zM119,536h3v1h-3zM120,535h1v3h-1zM129,543h3v1h-3zM130,542h1v3h-1zM139,531h3v1h-3zM140,530h1v3h-1zM149,527h3v1h-3zM150,526h1v3h-1zM159,519h3v1h-3zM160,518h1v3h-1zM169,528h3v1h-3zM170,527h1v3h-1zM179,524h3v1h-3zM180,523h1v3h-1zM189,535h3v1h-3zM190,534h1v3h-1zM199,535h3v1h-3zM200,534h1v3h-1zM209,538h3v1h-3zM210,537h1v3h-1zM219,541h3v1h-3zM220,540h1v3h-1zM229,534h3v1h-3zM230,533h1v3h-1zM239,537h3v1h-3zM240,536h1v3h-1zM249,520h3v1h-3zM250,519h1v3h-1zM259,540h3v1h-3zM260,539h1v3h-1zM269,528h3v1h-3zM270,527h1v3h-1zM279,531h3v1h-3zM280,530h1v3h-1zM289,520h3v1h-3zM290,519h1v3h-1zM299,535h3v1h-3zM300,534h1v3h-1zM309,528h3v1h-3zM310,527h1v3h-1zM319,541h3v1h-3zM320,540h1v3h-1zM329,528h3v1h-3zM330,527h1v3h-1zM339,535h3v1h-3zM340,534h1v3h-1zM349,535h3v1h-3zM350,534h1v3h-1zM359,544h3v1h-3zM360,543h1v3h-1zM369,536h3v1h-3zM370,535h1v3h-1zM379,535h3v1h-3zM380,534h1v3h-1zM389,538h3v1h-3zM390,537h1v3h-1zM399,539h3v1h-3zM400,538h1v3h-1zM409,543h3v1h-3zM410,542h1v3h-1zM419,539h3v1h-3zM420,538h1v3h-1zM429,541h3v1h-3zM430,540h1v3h-1zM439,540h3v1h-3zM440,539h1v3h-1zM449,538h3v1h-3zM450,537h1v3h-1zM459,534h3v1h-3zM460,533h1v3h-1zM469,519h3v1h-3zM470,518h1v3h-1zM479,544h3v1h-3zM480,543h1v3h-1zM489,544h3v1h-3zM490,543h1v3h-1zM499,540h3v1h-3zM500,539h1v3h-1zM509,538h3v1h-3zM510,537h1v3h-1zM519,538h3v1h-3zM520,537h1v3h-1zM529,538h3v1h-3zM530,537h1v3h-1zM539,519h3v1h-3zM540,518h1v3h-1zM549,535h3v1h-3zM550,534h1v3h-1zM559,540h3v1h-3zM560,539h1v3h-1zM569,540h3v1h-3zM570,539h1v3h-1zM579,540h3v1h-3zM580,539h1v3h-1zM589,526h3v1h-3zM590,525h1v3h-1zM599,525h3v1h-3zM600,524h1v3h-1zM609,539h3v1h-3zM610,538h1v3h-1zM619,524h3v1h-3zM620,523h1v3h-1zM629,523h3v1h-3zM630,522h1v3h-1zM639,517h3v1h-3zM640,516h1v3h-1zM649,531h3v1h-3zM650,530h1v3h-1zM659,532h3v1h-3zM660,531h1v3h-1zM669,516h3v1h-3zM670,515h1v3h-1zM679,541h3v1h-3zM680,540h1v3h-1zM689,539h3v1h-3zM690,538h1v3h-1z" fill="#915520"/>
<polyline points="50,122.2 60,124.1 70,120.2 80,118.8 90,117.2 100,112.6 110,115.6 120,142.7 130,159.8 140,168.3 150,156.6 160,153.4 170,159.6 180,158.5 190,145.6 200,155.5 210,163.3 220,164.7 230,161.7 240,160.7 250,174.8 260,173.1 270,159.2 280,158.6 290,157.6 300,152.6 310,150.8 320,150.5 330,173.5 340,161.9 350,158.8 360,166.6 370,167.1 380,177.8 390,181.7 400,189.8 410,204.2 420,192.6 430,198.2 440,209.6 450,212.5 460,198.3 470,198.7 480,200.5 490,196.2 500,188.1 510,191.4 520,183.1 530,175.2 540,185.6 550,197.2 560,199.0 570,179.3 580,198.9 590,204.6 600,187.3 610,198.8 620,163.9 630,161.2 640,174.2 650,200.4 660,193.5 670,184.2 680,191.9 690,206.1" fill="none" stroke="#9388E6" stroke-width="1" />
<path d="M49,122h3v1h-3zM50,121h1v3h-1zM59,124h3v1h-3zM60,123h1v3h-1zM69,120h3v1h-3zM70,119h1v3h-1zM79,118h3v1h-3zM80,117h1v3h-1zM89,117h3v1h-3zM90,116h1v3h-1zM99,112h3v1h-3zM100,111h1v3h-1zM109,115h3v1h-3zM110,114h1v3h-1zM119,142h3v1h-3zM120,141h1v3h-1zM129,159h3v1h-3zM130,158h1v3h-1zM139,168h3v1h-3zM140,167h1v3h-1zM149,156h3v1h-3zM150,155h1v3h-1zM159,153h3v1h-3zM160,152h1v3h-1zM169,159h3v1h-3zM170,158h1v3h-1zM179,158h3v1h-3zM180,157h1v3h-1zM189,145h3v1h-3zM190,144h1v3h-1zM199,155h3v1h-3zM200,154h1v3h-1zM209,163h3v1h-3zM210,162h1v3h-1zM219,164h3v1h-3zM220,163h1v3h-1zM229,161h3v1h-3zM230,160h1v3h-1zM239,160h3v1h-3zM240,159h1v3h-1zM249,174h3v1h-3zM250,173h1v3h-1zM259,173h3v1h-3zM260,172h1v3h-1zM269,159h3v1h-3zM270,158h1v3h-1zM279,158h3v1h-3zM280,157h1v3h-1zM289,157h3v1h-3zM290,156h1v3h-1zM299,152h3v1h-3zM300,151h1v3h-1zM309,150h3v1h-3zM310,149h1v3h-1zM319,150h3v1h-3zM320,149h1v3h-1zM329,173h3v1h-3zM330,172h1v3h-1zM339,161h3v1h-3zM340,160h1v3h-1zM349,158h3v1h-3zM350,157h1v3h-1zM359,166h3v1h-3zM360,165h1v3h-1zM369,167h3v1h-3zM370,166h1v3h-1zM379,177h3v1h-3zM380,176h1v3h-1zM389,181h3v1h-3zM390,180h1v3h-1zM399,189h3v1h-3zM400,188h1v3h-1zM409,204h3v1h-3zM410,203h1v3h-1zM419,192h3v1h-3zM420,191h1v3h-1zM429,198h3v1h-3zM430,197h1v3h-1zM439,209h3v1h-3zM440,208h1v3h-1zM449,212h3v1h-3zM450,211h1v3h-1zM459,198h3v1h-3zM460,197h1v3h-1zM469,198h3v1h-3zM470,197h1v3h-1zM479,200h3v1h-3zM480,199h1v3h-1zM489,196h3v1h-3zM490,195h1v3h-1zM499,188h3v1h-3zM500,187h1v3h-1zM509,191h3v1h-3zM510,190h1v3h-1zM519,183h3v1h-3zM520,182h1v3h-1zM529,175h3v1h-3zM530,174h1v3h-1zM539,185h3v1h-3zM540,184h1v3h-1zM549,197h3v1h-3zM550,196h1v3h-1zM559,199h3v1h-3zM560,198h1v3h-1zM569,179h3v1h-3zM570,178h1v3h-1zM579,198h3v1h-3zM580,197h1v3h-1zM589,204h3v1h-3zM590,203h1v3h-1zM599,187h3v1h-3zM600,186h1v3h-1zM609,198h3v1h-3zM610,197h1v3h-1zM619,163h3v1h-3zM620,162h1v3h-1zM629,161h3v1h-3zM630,160h1v3h-1zM639,174h3v1h-3zM640,173h1v3h-1zM649,200h3v1h-3zM650,199h1v3h-1zM659,193h3v1h-3zM660,192h1v3h-1zM669,184h3v1h-3zM670,183h1v3h-1zM679,191h3v1h-3zM680,190h1v3h-1zM689,206h3v1h-3zM690,205h1v3h-1z" fill="#9388E6"/>
<polyline points="50,530.7 60,515.0 70,487.7 80,491.2 90,511.2 100,516.9 110,534.7 120,539.6 130,531.7 140,520.6 150,520.2 160,516.4 170,517.6 180,505.0 190,478.0 200,503.0 210,513.0 220,518.6 230,509.1 240,518.6 250,528.5 260,530.8 270,522.1 280,508.5 290,509.1 300,530.3 310,519.9 320,505.0 330,491.4 340,504.9 350,513.2 360,515.1 370,510.6 380,532.6 390,510.6 400,500.1 410,503.4 420,524.7 430,521.9 440,508.4 450,519.0 460,536.7 470,529.6 480,533.7 490,541.3 500,518.3 510,509.2 520,501.3 530,521.6 540,531.6 550,531.3 560,522.2 570,536.3 580,520.4 590,510.9 600,515.3 610,542.8 620,528.8 630,544.2 640,515.5 650,514.8 660,499.2 670,475.8 680,503.4 690,497.2" fill="none" stroke="#9388E6" stroke-width="1" />
<path d="M49,530h3v1h-3zM50,529h1v3h-1zM59,515h3v1h-3zM60,514h1v3h-1zM69,487h3v1h-3zM70,486h1v3h-1zM79,491h3v1h-3zM80,490h1v3h-1zM89,511h3v1h-3zM90,510h1v3h-1zM99,516h3v1h-3zM100,515h1v3h-1zM109,534h3v1h-3zM110,533h1v3h-1zM119,539h3v1h-3zM120,538h1v3h-1zM129,531h3v1h-3zM130,530h1v3h-1zM139,520h3v1h-3zM140,519h1v3h-1zM149,520h3v1h-3zM150,519h1v3h-1zM159,516h3v1h-3zM160,515h1v3h-1zM169,517h3v1h-3zM170,516h1v3h-1zM179,505h3v1h-3zM180,504h1v3h-1zM189,478h3v1h-3zM190,477h1v3h-1zM199,503h3v1h-3zM200,502h1v3h-1zM209,513h3v1h-3zM210,512h1v3h-1zM219,518h3v1h-3zM220,517h1v3h-1zM229,509h3v1h-3zM230,508h1v3h-1zM239,518h3v1h-3zM240,517h1v3h-1zM249,528h3v1h-3zM250,527h1v3h-1zM259,530h3v1h-3zM260,529h1v3h-1zM269,522h3v1h-3zM270,521h1v3h-1zM279,508h3v1h-3zM280,507h1v3h-1zM289,509h3v1h-3zM290,508h1v3h-1zM299,530h3v1h-3zM300,529h1v3h-1zM309,519h3v1h-3zM310,518h1v3h-1zM319,504h3v1h-3zM320,503h1v3h-1zM329,491h3v1h-3zM330,490h1v3h-1zM339,504h3v1h-3zM340,503h1v3h-1zM349,513h3v1h-3zM350,512h1v3h-1zM359,515h3v1h-3zM360,514h1v3h-1zM369,510h3v1h-3zM370,509h1v3h-1zM379,532h3v1h-3zM380,531h1v3h-1zM389,510h3v1h-3zM390,509h1v3h-1zM399,500h3v1h-3zM400,499h1v3h-1zM409,503h3v1h-3zM410,502h1v3h-1zM419,524h3v1h-3zM420,523h1v3h-1zM429,521h3v1h-3zM430,520h1v3h-1zM439,508h3v1h-3zM440,507h1v3h-1zM449,518h3v1h-3zM450,517h1v3h-1zM459,536h3v1h-3zM460,535h1v3h-1zM469,529h3v1h-3zM470,528h1v3h-1zM479,533h3v1h-3zM480,532h1v3h-1zM489,541h3v1h-3zM490,540h1v3h-1zM499,518h3v1h-3zM500,517h1v3h-1zM509,509h3v1h-3zM510,508h1v3h-1zM519,501h3v1h-3zM520,500h1v3h-1zM529,521h3v1h-3zM530,520h1v3h-1zM539,531h3v1h-3zM540,530h1v3h-1zM549,531h3v1h-3zM550,530h1v3h-1zM559,522h3v1h-3zM560,521h1v3h-1zM569,536h3v1h-3zM570,535h1v3h-1zM579,520h3v1h-3zM580,519h1v3h-1zM589,510h3v1h-3zM590,509h1v3h-1zM599,515h3v1h-3zM600,514h1v3h-1zM609,542h3v1h-3zM610,541h1v3h-1zM619,528h3v1h-3zM620,527h1v3h-1zM629,544h3v1h-3zM630,543h1v3h-1zM639,515h3v1h-3zM640,514h1v3h-1zM649,514h3v1h-3zM650,513h1v3h-1zM659,499h3v1h-3zM660,498h1v3h-1zM669,475h3v1h-3zM670,474h1v3h-1zM679,503h3v1h-3zM680,502h1v3h-1zM689,497h3v1h-3zM690,496h1v3h-1z" fill="#9388E6"/>
<polyline points="50,123.6 60,126.8 70,122.8 80,120.4 90,125.0 100,121.1 110,133.8 120,165.3 130,174.9 140,186.0 150,167.0 160,164.4 170,167.1 180,168.9 190,147.7 200,166.4 210,164.6 220,159.1 230,150.9 240,147.5 250,151.8 260,164.3 270,163.8 280,168.2 290,176.7 300,173.7 310,166.4 320,177.4 330,182.9 340,186.1 350,166.6 360,165.3 370,165.3 380,179.1 390,179.0 400,194.6 410,196.8 420,180.7 430,192.9 440,202.7 450,202.4 460,205.5 470,197.1 480,202.1 490,192.1 500,191.7 510,201.9 520,204.4 530,189.3 540,183.9 550,206.5 560,208.7 570,210.6 580,191.1 590,201.3 600,188.0 610,178.2 620,179.4 630,168.8 640,173.9 650,178.5 660,175.3 670,192.7 680,178.9 690,175.6" fill="none" stroke="#99F53D" stroke-width="1" />
<path d="M49,123h3v1h-3zM50,122h1v3h-1zM59,126h3v1h-3zM60,125h1v3h-1zM69,122h3v1h-3zM70,121h1v3h-1zM79,120h3v1h-3zM80,119h1v3h-1zM89,125h3v1h-3zM90,124h1v3h-1zM99,121h3v1h-3zM100,120h1v3h-1zM109,133h3v1h-3zM110,132h1v3h-1zM119,165h3v1h-3zM120,164h1v3h-1zM129,174h3v1h-3zM130,173h1v3h-1zM139,185h3v1h-3zM140,184h1v3h-1zM149,166h3v1h-3zM150,165h1v3h-1zM159,164h3v1h-3zM160,163h1v3h-1zM169,167h3v1h-3zM170,166h1v3h-1zM179,168h3v1h-3zM180,167h1v3h-1zM189,147h3v1h-3zM190,146h1v3h-1zM199,166h3v1h-3zM200,165h1v3h-1zM209,164h3v1h-3zM210,163h1v3h-1zM219,159h3v1h-3zM220,158h1v3h-1zM229,150h3v1h-3zM230,149h1v3h-1zM239,147h3v1h-3zM240,146h1v3h-1zM249,151h3v1h-3zM250,150h1v3h-1zM259,164h3v1h-3zM260,163h1v3h-1zM269,163h3v1h-3zM270,162h1v3h-1zM279,168h3v1h-3zM280,167h1v3h-1zM289,176h3v1h-3zM290,175h1v3h-1zM299,173h3v1h-3zM300,172h1v3h-1zM309,166h3v1h-3zM310,165h1v3h-1zM319,177h3v1h-3zM320,176h1v3h-1zM329,182h3v1h-3zM330,181h1v3h-1zM339,186h3v1h-3zM340,185h1v3h-1zM349,166h3v1h-3zM350,165h1v3h-1zM359,165h3v1h-3zM360,164h1v3h-1zM369,165h3v1h-3zM370,164h1v3h-1zM379,179h3v1h-3zM380,178h1v3h-1zM389,178h3v1h-3zM390,177h1v3h-1zM399,194h3v1h-3zM400,193h1v3h-1zM409,196h3v1h-3zM410,195h1v3h-1zM419,180h3v1h-3zM420,179h1v3h-1zM429,192h3v1h-3zM430,191h1v3h-1zM439,202h3v1h-3zM440,201h1v3h-1zM449,202h3v1h-3zM450,201h1v3h-1zM459,205h3v1h-3zM460,204h1v3h-1zM469,197h3v1h-3zM470,196h1v3h-1zM479,202h3v1h-3zM480,201h1v3h-1zM489,192h3v1h-3zM490,191h1v3h-1zM499,191h3v1h-3zM500,190h1v3h-1zM509,201h3v1h-3zM510,200h1v3h-1zM519,204h3v1h-3zM520,203h1v3h-1zM529,189h3v1h-3zM530,188h1v3h-1zM539,183h3v1h-3zM540,182h1v3h-1zM549,206h3v1h-3zM550,205h1v3h-1zM559,208h3v1h-3zM560,207h1v3h-1zM569,210h3v1h-3zM570,209h1v3h-1zM579,191h3v1h-3zM580,190h1v3h-1zM589,201h3v1h-3zM590,200h1v3h-1zM599,188h3v1h-3zM600,187h1v3h-1zM609,178h3v1h-3zM610,177h1v3h-1zM619,179h3v1h-3zM620,178h1v3h-1zM629,168h3v1h-3zM630,167h1v3h-1zM639,173h3v1h-3zM640,172h1v3h-1zM649,178h3v1h-3zM650,177h1v3h-1zM659,175h3v1h-3zM660,174h1v3h-1zM669,192h3v1h-3zM670,191h1v3h-1zM679,178h3v1h-3zM680,177h1v3h-1zM689,175h3v1h-3zM690,174h1v3h-1z" fill="#99F53D"/>
<polyline points="50,530.6 60,514.7 70,491.1 80,497.8 90,515.6 100,512.3 110,525.1 120,522.0 130,517.6 140,505.2 150,509.9 160,499.9 170,499.1 180,525.3 190,529.3 200,521.1 210,520.9 220,513.5 230,510.9 240,501.5 250,507.2 260,513.5 270,508.2 280,514.3 290,508.3 300,514.1 310,509.1 320,496.9 330,507.7 340,504.7 350,503.1 360,495.5 370,502.1 380,524.8 390,531.4 400,505.9 410,500.0 420,483.0 430,479.8 440,442.0 450,478.0 460,525.0 470,507.6 480,498.5 490,514.6 500,509.6 510,504.1 520,509.8 530,488.6 540,501.3 550,501.3 560,497.5 570,490.3 580,500.1 590,511.9 600,500.0 610,465.7 620,505.0 630,497.4 640,502.9 650,524.2 660,486.0 670,483.9 680,490.0 690,435.8" fill="none" stroke="#99F53D" stroke-width="1" />
<path d="M49,530h3v1h-3zM50,529h1v3h-1zM59,514h3v1h-3zM60,513h1v3h-1zM69,491h3v1h-3zM70,490h1v3h-1zM79,497h3v1h-3zM80,496h1v3h-1zM89,515h3v1h-3zM90,514h1v3h-1zM99,512h3v1h-3zM100,511h1v3h-1zM109,525h3v1h-3zM110,524h1v3h-1zM119,522h3v1h-3zM120,521h1v3h-1zM129,517h3v1h-3zM130,516h1v3h-1zM139,505h3v1h-3zM140,504h1v3h-1zM149,509h3v1h-3zM150,508h1v3h-1zM159,499h3v1h-3zM160,498h1v3h-1zM169,499h3v1h-3zM170,498h1v3h-1zM179,525h3v1h-3zM180,524h1v3h-1zM189,529h3v1h-3zM190,528h1v3h-1zM199,521h3v1h-3zM200,520h1v3h-1zM209,520h3v1h-3zM210,519h1v3h-1zM219,513h3v1h-3zM220,512h1v3h-1zM229,510h3v1h-3zM230,509h1v3h-1zM239,501h3v1h-3zM240,500h1v3h-1zM249,507h3v1h-3zM250,506h1v3h-1zM259,513h3v1h-3zM260,512h1v3h-1zM269,508h3v1h-3zM270,507h1v3h-1zM279,514h3v1h-3zM280,513h1v3h-1zM289,508h3v1h-3zM290,507h1v3h-1zM299,514h3v1h-3zM300,513h1v3h-1zM309,509h3v1h-3zM310,508h1v3h-1zM319,496h3v1h-3zM320,495h1v3h-1zM329,507h3v1h-3zM330,506h1v3h-1zM339,504h3v1h-3zM340,503h1v3h-1zM349,503h3v1h-3zM350,502h1v3h-1zM359,495h3v1h-3zM360,494h1v3h-1zM369,502h3v1h-3zM370,501h1v3h-1zM379,524h3v1h-3zM380,523h1v3h-1zM389,531h3v1h-3zM390,530h1v3h-1zM399,505h3v1h-3zM400,504h1v3h-1zM409,500h3v1h-3zM410,499h1v3h-1zM419,483h3v1h-3zM420,482h1v3h-1zM429,479h3v1h-3zM430,478h1v3h-1zM439,442h3v1h-3zM440,441h1v3h-1zM449,478h3v1h-3zM450,477h1v3h-1zM459,525h3v1h-3zM460,524h1v3h-1zM469,507h3v1h-3zM470,506h1v3h-1zM479,498h3v1h-3zM480,497h1v3h-1zM489,514h3v1h-3zM490,513h1v3h-1zM499,509h3v1h-3zM500,508h1v3h-1zM509,504h3v1h-3zM510,503h1v3h-1zM519,509h3v1h-3zM520,508h1v3h-1zM529,488h3v1h-3zM530,487h1v3h-1zM539,501h3v1h-3zM540,500h1v3h-1zM549,501h3v1h-3zM550,500h1v3h-1zM559,497h3v1h-3zM560,496h1v3h-1zM569,490h3v1h-3zM570,489h1v3h-1zM579,500h3v1h-3zM580,499h1v3h-1zM589,511h3v1h-3zM590,510h1v3h-1zM599,500h3v1h-3zM600,499h1v3h-1zM609,465h3v1h-3zM610,464h1v3h-1zM619,505h3v1h-3zM620,504h1v3h-1zM629,497h3v1h-3zM630,496h1v3h-1zM639,502h3v1h-3zM640,501h1v3h-1zM649,524h3v1h-3zM650,523h1v3h-1zM659,485h3v1h-3zM660,484h1v3h-1zM669,483h3v1h-3zM670,482h1v3h-1zM679,490h3v1h-3zM680,489h1v3h-1zM689,435h3v1h-3zM690,434h1v3h-1z" fill="#99F53D"/>
<polyline points="50,123.1 60,126.1 70,121.4 80,118.4 90,116.4 100,113.7 110,115.1 120,127.3 130,147.1 140,168.0 150,161.6 160,162.1 170,161.8 180,167.3 190,153.9 200,172.0 210,173.6 220,172.0 230,167.4 240,158.5 250,161.0 260,162.8 270,157.1 280,156.8 290,159.5 300,159.3 310,152.9 320,157.7 330,167.8 340,172.0 350,159.8 360,161.5 370,162.0 380,184.2 390,186.5 400,190.3 410,192.3 420,187.7 430,194.6 440,177.6 450,199.1 460,191.9 470,174.9 480,189.7 490,212.2 500,196.8 510,200.5 520,191.1 530,185.2 540,166.2 550,168.8 560,175.2 570,174.4 580,172.2 590,156.6 600,184.5 610,222.7 620,198.2 630,199.4 640,195.7 650,203.5 660,194.8 670,190.7 680,189.9 690,193.0" fill="none" stroke="#D070D0" stroke-width="1" />
<path d="M49,123h3v1h-3zM50,122h1v3h-1zM59,126h3v1h-3zM60,125h1v3h-1zM69,121h3v1h-3zM70,120h1v3h-1zM79,118h3v1h-3zM80,117h1v3h-1zM89,116h3v1h-3zM90,115h1v3h-1zM99,113h3v1h-3zM100,112h1v3h-1zM109,115h3v1h-3zM110,114h1v3h-1zM119,127h3v1h-3zM120,126h1v3h-1zM129,147h3v1h-3zM130,146h1v3h-1zM139,167h3v1h-3zM140,166h1v3h-1zM149,161h3v1h-3zM150,160h1v3h-1zM159,162h3v1h-3zM160,161h1v3h-1zM169,161h3v1h-3zM170,160h1v3h-1zM179,167h3v1h-3zM180,166h1v3h-1zM189,153h3v1h-3zM190,152h1v3h-1zM199,171h3v1h-3zM200,170h1v3h-1zM209,173h3v1h-3zM210,172h1v3h-1zM219,171h3v1h-3zM220,170h1v3h-1zM229,167h3v1h-3zM230,166h1v3h-1zM239,158h3v1h-3zM240,157h1v3h-1zM249,160h3v1h-3zM250,159h1v3h-1zM259,162h3v1h-3zM260,161h1v3h-1zM269,157h3v1h-3zM270,156h1v3h-1zM279,156h3v1h-3zM280,155h1v3h-1zM289,159h3v1h-3zM290,158h1v3h-1zM299,159h3v1h-3zM300,158h1v3h-1zM309,152h3v1h-3zM310,151h1v3h-1zM319,157h3v1h-3zM320,156h1v3h-1zM329,167h3v1h-3zM330,166h1v3h-1zM339,172h3v1h-3zM340,171h1v3h-1zM349,159h3v1h-3zM350,158h1v3h-1zM359,161h3v1h-3zM360,160h1v3h-1zM369,161h3v1h-3zM370,160h1v3h-1zM379,184h3v1h-3zM380,183h1v3h-1zM389,186h3v1h-3zM390,185h1v3h-1zM399,190h3v1h-3zM400,189h1v3h-1zM409,192h3v1h-3zM410,191h1v3h-1zM419,187h3v1h-3zM420,186h1v3h-1zM429,194h3v1h-3zM430,193h1v3h-1zM439,177h3v1h-3zM440,176h1v3h-1zM449,199h3v1h-3zM450,198h1v3h-1zM459,191h3v1h-3zM460,190h1v3h-1zM469,174h3v1h-3zM470,173h1v3h-1zM479,189h3v1h-3zM480,188h1v3h-1zM489,212h3v1h-3zM490,211h1v3h-1zM499,196h3v1h-3zM500,195h1v3h-1zM509,200h3v1h-3zM510,199h1v3h-1zM519,191h3v1h-3zM520,190h1v3h-1zM529,185h3v1h-3zM530,184h1v3h-1zM539,166h3v1h-3zM540,165h1v3h-1zM549,168h3v1h-3zM550,167h1v3h-1zM559,175h3v1h-3zM560,174h1v3h-1zM569,174h3v1h-3zM570,173h1v3h-1zM579,172h3v1h-3zM580,171h1v3h-1zM589,156h3v1h-3zM590,155h1v3h-1zM599,184h3v1h-3zM600,183h1v3h-1zM609,222h3v1h-3zM610,221h1v3h-1zM619,198h3v1h-3zM620,197h1v3h-1zM629,199h3v1h-3zM630,198h1v3h-1zM639,195h3v1h-3zM640,194h1v3h-1zM649,203h3v1h-3zM650,202h1v3h-1zM659,194h3v1h-3zM660,193h1v3h-1zM669,190h3v1h-3zM670,189h1v3h-1zM679,189h3v1h-3zM680,188h1v3h-1zM689,193h3v1h-3zM690,192h1v3h-1z" fill="#D070D0"/>
<polyline points="50,531.4 60,512.2 70,487.4 80,489.8 90,500.3 100,521.6 110,528.7 120,533.7 130,518.0 140,515.7 150,516.2 160,511.4 170,494.3 180,508.5 190,498.3 200,498.2 210,503.4 220,520.6 230,508.0 240,526.5 250,530.3 260,528.6 270,511.6 280,502.1 290,525.5 300,519.6 310,503.9 320,494.5 330,493.9 340,514.1 350,500.9 360,507.1 370,509.5 380,541.9 390,544.3 400,529.7 410,545.0 420,519.8 430,507.9 440,500.3 450,511.9 460,506.9 470,534.0 480,530.3 490,535.7 500,543.7 510,512.9 520,524.1 530,520.3 540,525.2 550,513.1 560,535.8 570,534.7 580,512.3 590,527.3 600,513.2 610,499.7 620,521.5 630,528.1 640,508.4 650,524.9 660,509.9 670,524.9 680,544.1 690,542.9" fill="none" stroke="#D070D0" stroke-width="1" />
<path d="M49,531h3v1h-3zM50,530h1v3h-1zM59,512h3v1h-3zM60,511h1v3h-1zM69,487h3v1h-3zM70,486h1v3h-1zM79,489h3v1h-3zM80,488h1v3h-1zM89,500h3v1h-3zM90,499h1v3h-1zM99,521h3v1h-3zM100,520h1v3h-1zM109,528h3v1h-3zM110,527h1v3h-1zM119,533h3v1h-3zM120,532h1v3h-1zM129,518h3v1h-3zM130,517h1v3h-1zM139,515h3v1h-3zM140,514h1v3h-1zM149,516h3v1h-3zM150,515h1v3h-1zM159,511h3v1h-3zM160,510h1v3h-1zM169,494h3v1h-3zM170,493h1v3h-1zM179,508h3v1h-3zM180,507h1v3h-1zM189,498h3v1h-3zM190,497h1v3h-1zM199,498h3v1h-3zM200,497h1v3h-1zM209,503h3v1h-3zM210,502h1v3h-1zM219,520h3v1h-3zM220,519h1v3h-1zM229,508h3v1h-3zM230,507h1v3h-1zM239,526h3v1h-3zM240,525h1v3h-1zM249,530h3v1h-3zM250,529h1v3h-1zM259,528h3v1h-3zM260,527h1v3h-1zM269,511h3v1h-3zM270,510h1v3h-1zM279,502h3v1h-3zM280,501h1v3h-1zM289,525h3v1h-3zM290,524h1v3h-1zM299,519h3v1h-3zM300,518h1v3h-1zM309,503h3v1h-3zM310,502h1v3h-1zM319,494h3v1h-3zM320,493h1v3h-1zM329,493h3v1h-3zM330,492h1v3h-1zM339,514h3v1h-3zM340,513h1v3h-1zM349,500h3v1h-3zM350,499h1v3h-1zM359,507h3v1h-3zM360,506h1v3h-1zM369,509h3v1h-3zM370,508h1v3h-1zM379,541h3v1h-3zM380,540h1v3h-1zM389,544h3v1h-3zM390,543h1v3h-1zM399,529h3v1h-3zM400,528h1v3h-1zM409,544h3v1h-3zM410,543h1v3h-1zM419,519h3v1h-3zM420,518h1v3h-1zM429,507h3v1h-3zM430,506h1v3h-1zM439,500h3v1h-3zM440,499h1v3h-1zM449,511h3v1h-3zM450,510h1v3h-1zM459,506h3v1h-3zM460,505h1v3h-1zM469,534h3v1h-3zM470,533h1v3h-1zM479,530h3v1h-3zM480,529h1v3h-1zM489,535h3v1h-3zM490,534h1v3h-1zM499,543h3v1h-3zM500,542h1v3h-1zM509,512h3v1h-3zM510,511h1v3h-1zM519,524h3v1h-3zM520,523h1v3h-1zM529,520h3v1h-3zM530,519h1v3h-1zM539,525h3v1h-3zM540,524h1v3h-1zM549,513h3v1h-3zM550,512h1v3h-1zM559,535h3v1h-3zM560,534h1v3h-1zM569,534h3v1h-3zM570,533h1v3h-1zM579,512h3v1h-3zM580,511h1v3h-1zM589,527h3v1h-3zM590,526h1v3h-1zM599,513h3v1h-3zM600,512h1v3h-1zM609,499h3v1h-3zM610,498h1v3h-1zM619,521h3v1h-3zM620,520h1v3h-1zM629,528h3v1h-3zM630,527h1v3h-1zM639,508h3v1h-3zM640,507h1v3h-1zM649,524h3v1h-3zM650,523h1v3h-1zM659,509h3v1h-3zM660,508h1v3h-1zM669,524h3v1h-3zM670,523h1v3h-1zM679,544h3v1h-3zM680,543h1v3h-1zM689,542h3v1h-3zM690,541h1v3h-1z" fill="#D070D0"/>
<polyline points="50,122.9 60,124.6 70,121.1 80,121.8 90,123.0 100,121.5 110,139.0 120,157.5 130,170.0 140,180.4 150,137.5 160,137.0 170,143.0 180,141.0 190,142.0 200,150.6 210,153.6 220,159.5 230,146.5 240,143.7 250,154.5 260,158.3 270,146.0 280,139.9 290,153.0 300,152.1 310,144.1 320,146.6 330,150.9 340,152.1 350,132.9 360,149.0 370,144.5 380,145.4 390,144.5 400,178.6 410,207.8 420,187.0 430,188.0 440,201.0 450,187.0 460,189.9 470,188.0 480,197.8 490,211.9 500,187.7 510,187.3 520,188.9 530,186.1 540,194.9 550,174.7 560,167.4 570,188.9 580,176.9 590,161.8 600,163.0 610,151.4 620,155.3 630,151.8 640,185.0 650,183.7 660,168.5 670,168.4 680,151.3 690,156.3" fill="none" stroke="#1C0A9E" stroke-width="1" />
<path d="M49,122h3v1h-3zM50,121h1v3h-1zM59,124h3v1h-3zM60,123h1v3h-1zM69,121h3v1h-3zM70,120h1v3h-1zM79,121h3v1h-3zM80,120h1v3h-1zM89,123h3v1h-3zM90,122h1v3h-1zM99,121h3v1h-3zM100,120h1v3h-1zM109,139h3v1h-3zM110,138h1v3h-1zM119,157h3v1h-3zM120,156h1v3h-1zM129,170h3v1h-3zM130,169h1v3h-1zM139,180h3v1h-3zM140,179h1v3h-1zM149,137h3v1h-3zM150,136h1v3h-1zM159,137h3v1h-3zM160,136h1v3h-1zM169,143h3v1h-3zM170,142h1v3h-1zM179,141h3v1h-3zM180,140h1v3h-1zM189,141h3v1h-3zM190,140h1v3h-1zM199,150h3v1h-3zM200,149h1v3h-1zM209,153h3v1h-3zM210,152h1v3h-1zM219,159h3v1h-3zM220,158h1v3h-1zM229,146h3v1h-3zM230,145h1v3h-1zM239,143h3v1h-3zM240,142h1v3h-1zM249,154h3v1h-3zM250,153h1v3h-1zM259,158h3v1h-3zM260,157h1v3h-1zM269,146h3v1h-3zM270,145h1v3h-1zM279,139h3v1h-3zM280,138h1v3h-1zM289,153h3v1h-3zM290,152h1v3h-1zM299,152h3v1h-3zM300,151h1v3h-1zM309,144h3v1h-3zM310,143h1v3h-1zM319,146h3v1h-3zM320,145h1v3h-1zM329,150h3v1h-3zM330,149h1v3h-1zM339,152h3v1h-3zM340,151h1v3h-1zM349,132h3v1h-3zM350,131h1v3h-1zM359,149h3v1h-3zM360,148h1v3h-1zM369,144h3v1h-3zM370,143h1v3h-1zM379,145h3v1h-3zM380,144h1v3h-1zM389,144h3v1h-3zM390,143h1v3h-1zM399,178h3v1h-3zM400,177h1v3h-1zM409,207h3v1h-3zM410,206h1v3h-1zM419,187h3v1h-3zM420,186h1v3h-1zM429,187h3v1h-3zM430,186h1v3h-1zM439,201h3v1h-3zM440,200h1v3h-1zM449,187h3v1h-3zM450,186h1v3h-1zM459,189h3v1h-3zM460,188h1v3h-1zM469,188h3v1h-3zM470,187h1v3h-1zM479,197h3v1h-3zM480,196h1v3h-1zM489,211h3v1h-3zM490,210h1v3h-1zM499,187h3v1h-3zM500,186h1v3h-1zM509,187h3v1h-3zM510,186h1v3h-1zM519,188h3v1h-3zM520,187h1v3h-1zM529,186h3v1h-3zM530,185h1v3h-1zM539,194h3v1h-3zM540,193h1v3h-1zM549,174h3v1h-3zM550,173h1v3h-1zM559,167h3v1h-3zM560,166h1v3h-1zM569,188h3v1h-3zM570,187h1v3h-1zM579,176h3v1h-3zM580,175h1v3h-1zM589,161h3v1h-3zM590,160h1v3h-1zM599,162h3v1h-3zM600,161h1v3h-1zM609,151h3v1h-3zM610,150h1v3h-1zM619,155h3v1h-3zM620,154h1v3h-1zM629,151h3v1h-3zM630,150h1v3h-1zM639,185h3v1h-3zM640,184h1v3h-1zM649,183h3v1h-3zM650,182h1v3h-1zM659,168h3v1h-3zM660,167h1v3h-1zM669,168h3v1h-3zM670,167h1v3h-1zM679,151h3v1h-3zM680,150h1v3h-1zM689,156h3v1h-3zM690,155h1v3h-1z" fill="#1C0A9E"/>
<polyline points="50,532.3 60,513.9 70,484.8 80,490.8 90,489.9 100,507.3 110,519.5 120,529.6 130,528.9 140,518.8 150,519.6 160,516.7 170,517.9 180,518.0 190,514.4 200,525.4 210,525.8 220,539.3 230,538.4 240,536.2 250,532.9 260,532.5 270,523.1 280,528.8 290,538.0 300,530.4 310,517.4 320,510.2 330,520.8 340,540.1 350,530.4 360,537.1 370,539.7 380,538.3 390,535.5 400,532.3 410,540.6 420,539.7 430,544.4 440,535.1 450,539.4 460,535.8 470,541.6 480,538.7 490,538.9 500,543.9 510,509.9 520,529.5 530,537.0 540,519.8 550,544.2 560,519.1 570,528.9 580,539.7 590,541.9 600,538.5 610,531.7 620,529.7 630,528.7 640,541.6 650,543.6 660,536.8 670,535.0 680,542.6 690,530.8" fill="none" stroke="#1C0A9E" stroke-width="1" />
<path d="M49,532h3v1h-3zM50,531h1v3h-1zM59,513h3v1h-3zM60,512h1v3h-1zM69,484h3v1h-3zM70,483h1v3h-1zM79,490h3v1h-3zM80,489h1v3h-1zM89,489h3v1h-3zM90,488h1v3h-1zM99,507h3v1h-3zM100,506h1v3h-1zM109,519h3v1h-3zM110,518h1v3h-1zM119,529h3v1h-3zM120,528h1v3h-1zM129,528h3v1h-3zM130,527h1v3h-1zM139,518h3v1h-3zM140,517h1v3h-1zM149,519h3v1h-3zM150,518h1v3h-1zM159,516h3v1h-3zM160,515h1v3h-1zM169,517h3v1h-3zM170,516h1v3h-1zM179,517h3v1h-3zM180,516h1v3h-1zM189,514h3v1h-3zM190,513h1v3h-1zM199,525h3v1h-3zM200,524h1v3h-1zM209,525h3v1h-3zM210,524h1v3h-1zM219,539h3v1h-3zM220,538h1v3h-1zM229,538h3v1h-3zM230,537h1v3h-1zM239,536h3v1h-3zM240,535h1v3h-1zM249,532h3v1h-3zM250,531h1v3h-1zM259,532h3v1h-3zM260,531h1v3h-1zM269,523h3v1h-3zM270,522h1v3h-1zM279,528h3v1h-3zM280,527h1v3h-1zM289,538h3v1h-3zM290,537h1v3h-1zM299,530h3v1h-3zM300,529h1v3h-1zM309,517h3v1h-3zM310,516h1v3h-1zM319,510h3v1h-3zM320,509h1v3h-1zM329,520h3v1h-3zM330,519h1v3h-1zM339,540h3v1h-3zM340,539h1v3h-1zM349,530h3v1h-3zM350,529h1v3h-1zM359,537h3v1h-3zM360,536h1v3h-1zM369,539h3v1h-3zM370,538h1v3h-1zM379,538h3v1h-3zM380,537h1v3h-1zM389,535h3v1h-3zM390,534h1v3h-1zM399,532h3v1h-3zM400,531h1v3h-1zM409,540h3v1h-3zM410,539h1v3h-1zM419,539h3v1h-3zM420,538h1v3h-1zM429,544h3v1h-3zM430,543h1v3h-1zM439,535h3v1h-3zM440,534h1v3h-1zM449,539h3v1h-3zM450,538h1v3h-1zM459,535h3v1h-3zM460,534h1v3h-1zM469,541h3v1h-3zM470,540h1v3h-1zM479,538h3v1h-3zM480,537h1v3h-1zM489,538h3v1h-3zM490,537h1v3h-1zM499,543h3v1h-3zM500,542h1v3h-1zM509,509h3v1h-3zM510,508h1v3h-1zM519,529h3v1h-3zM520,528h1v3h-1zM529,536h3v1h-3zM530,535h1v3h-1zM539,519h3v1h-3zM540,518h1v3h-1zM549,544h3v1h-3zM550,543h1v3h-1zM559,519h3v1h-3zM560,518h1v3h-1zM569,528h3v1h-3zM570,527h1v3h-1zM579,539h3v1h-3zM580,538h1v3h-1zM589,541h3v1h-3zM590,540h1v3h-1zM599,538h3v1h-3zM600,537h1v3h-1zM609,531h3v1h-3zM610,530h1v3h-1zM619,529h3v1h-3zM620,528h1v3h-1zM629,528h3v1h-3zM630,527h1v3h-1zM639,541h3v1h-3zM640,540h1v3h-1zM649,543h3v1h-3zM650,542h1v3h-1zM659,536h3v1h-3zM660,535h1v3h-1zM669,535h3v1h-3zM670,534h1v3h-1zM679,542h3v1h-3zM680,541h1v3h-1zM689,530h3v1h-3zM690,529h1v3h-1z" fill="#1C0A9E"/>
<polyline points="50,123.3 60,125.7 70,122.4 80,119.8 90,119.4 100,116.1 110,121.3 120,148.6 130,153.6 140,169.9 150,162.4 160,159.3 170,165.3 180,158.7 190,141.9 200,153.6 210,158.9 220,156.8 230,148.5 240,152.9 250,153.6 260,161.0 270,150.0 280,150.8 290,150.8 300,162.1 310,146.4 320,148.8 330,145.8 340,158.6 350,143.5 360,145.2 370,142.6 380,141.4 390,147.0 400,147.1 410,136.5 420,159.4 430,161.2 440,172.1 450,166.8 460,164.4 470,166.1 480,151.1 490,168.2 500,156.4 510,153.0 520,164.8 530,173.2 540,171.7 550,174.5 560,151.2 570,174.6 580,174.5 590,159.0 600,153.4 610,161.4 620,144.1 630,150.0 640,129.4 650,160.7 660,125.0 670,115.0 680,124.0 690,126.0" fill="none" stroke="#DCC49A" stroke-width="1" />
<path d="M49,123h3v1h-3zM50,122h1v3h-1zM59,125h3v1h-3zM60,124h1v3h-1zM69,122h3v1h-3zM70,121h1v3h-1zM79,119h3v1h-3zM80,118h1v3h-1zM89,119h3v1h-3zM90,118h1v3h-1zM99,116h3v1h-3zM100,115h1v3h-1zM109,121h3v1h-3zM110,120h1v3h-1zM119,148h3v1h-3zM120,147h1v3h-1zM129,153h3v1h-3zM130,152h1v3h-1zM139,169h3v1h-3zM140,168h1v3h-1zM149,162h3v1h-3zM150,161h1v3h-1zM159,159h3v1h-3zM160,158h1v3h-1zM169,165h3v1h-3zM170,164h1v3h-1zM179,158h3v1h-3zM180,157h1v3h-1zM189,141h3v1h-3zM190,140h1v3h-1zM199,153h3v1h-3zM200,152h1v3h-1zM209,158h3v1h-3zM210,157h1v3h-1zM219,156h3v1h-3zM220,155h1v3h-1zM229,148h3v1h-3zM230,147h1v3h-1zM239,152h3v1h-3zM240,151h1v3h-1zM249,153h3v1h-3zM250,152h1v3h-1zM259,160h3v1h-3zM260,159h1v3h-1zM269,149h3v1h-3zM270,148h1v3h-1zM279,150h3v1h-3zM280,149h1v3h-1zM289,150h3v1h-3zM290,149h1v3h-1zM299,162h3v1h-3zM300,161h1v3h-1zM309,146h3v1h-3zM310,145h1v3h-1zM319,148h3v1h-3zM320,147h1v3h-1zM329,145h3v1h-3zM330,144h1v3h-1zM339,158h3v1h-3zM340,157h1v3h-1zM349,143h3v1h-3zM350,142h1v3h-1zM359,145h3v1h-3zM360,144h1v3h-1zM369,142h3v1h-3zM370,141h1v3h-1zM379,141h3v1h-3zM380,140h1v3h-1zM389,146h3v1h-3zM390,145h1v3h-1zM399,147h3v1h-3zM400,146h1v3h-1zM409,136h3v1h-3zM410,135h1v3h-1zM419,159h3v1h-3zM420,158h1v3h-1zM429,161h3v1h-3zM430,160h1v3h-1zM439,172h3v1h-3zM440,171h1v3h-1zM449,166h3v1h-3zM450,165h1v3h-1zM459,164h3v1h-3zM460,163h1v3h-1zM469,166h3v1h-3zM470,165h1v3h-1zM479,151h3v1h-3zM480,150h1v3h-1zM489,168h3v1h-3zM490,167h1v3h-1zM499,156h3v1h-3zM500,155h1v3h-1zM509,153h3v1h-3zM510,152h1v3h-1zM519,164h3v1h-3zM520,163h1v3h-1zM529,173h3v1h-3zM530,172h1v3h-1zM539,171h3v1h-3zM540,170h1v3h-1zM549,174h3v1h-3zM550,173h1v3h-1zM559,151h3v1h-3zM560,150h1v3h-1zM569,174h3v1h-3zM570,173h1v3h-1zM579,174h3v1h-3zM580,173h1v3h-1zM589,159h3v1h-3zM590,158h1v3h-1zM599,153h3v1h-3zM600,152h1v3h-1zM609,161h3v1h-3zM610,160h1v3h-1zM619,144h3v1h-3zM620,143h1v3h-1zM629,150h3v1h-3zM630,149h1v3h-1zM639,129h3v1h-3zM640,128h1v3h-1zM649,160h3v1h-3zM650,159h1v3h-1zM659,125h3v1h-3zM660,124h1v3h-1zM669,115h3v1h-3zM670,114h1v3h-1zM679,124h3v1h-3zM680,123h1v3h-1zM689,126h3v1h-3zM690,125h1v3h-1z" fill="#DCC49A"/>
<polyline points="50,528.6 60,515.2 70,494.2 80,491.2 90,498.6 100,508.0 110,532.5 120,525.9 130,524.2 140,518.6 150,514.4 160,515.6 170,515.3 180,522.9 190,502.2 200,504.4 210,519.5 220,534.6 230,525.9 240,522.8 250,523.9 260,531.0 270,522.4 280,500.0 290,487.8 300,500.0 310,502.6 320,510.1 330,522.4 340,523.2 350,489.0 360,509.6 370,508.9 380,522.8 390,517.8 400,501.9 410,508.4 420,541.0 430,544.1 440,524.0 450,505.7 460,517.3 470,507.6 480,518.7 490,524.5 500,528.1 510,533.6 520,518.4 530,528.5 540,511.7 550,497.1 560,508.1 570,488.5 580,531.4 590,509.6 600,522.3 610,510.3 620,523.2 630,523.0 640,505.8 650,530.5 660,505.7 670,483.3 680,501.3 690,480.7" fill="none" stroke="#DCC49A" stroke-width="1" />
<path d="M49,528h3v1h-3zM50,527h1v3h-1zM59,515h3v1h-3zM60,514h1v3h-1zM69,494h3v1h-3zM70,493h1v3h-1zM79,491h3v1h-3zM80,490h1v3h-1zM89,498h3v1h-3zM90,497h1v3h-1zM99,508h3v1h-3zM100,507h1v3h-1zM109,532h3v1h-3zM110,531h1v3h-1zM119,525h3v1h-3zM120,524h1v3h-1zM129,524h3v1h-3zM130,523h1v3h-1zM139,518h3v1h-3zM140,517h1v3h-1zM149,514h3v1h-3zM150,513h1v3h-1zM159,515h3v1h-3zM160,514h1v3h-1zM169,515h3v1h-3zM170,514h1v3h-1zM179,522h3v1h-3zM180,521h1v3h-1zM189,502h3v1h-3zM190,501h1v3h-1zM199,504h3v1h-3zM200,503h1v3h-1zM209,519h3v1h-3zM210,518h1v3h-1zM219,534h3v1h-3zM220,533h1v3h-1zM229,525h3v1h-3zM230,524h1v3h-1zM239,522h3v1h-3zM240,521h1v3h-1zM249,523h3v1h-3zM250,522h1v3h-1zM259,531h3v1h-3zM260,530h1v3h-1zM269,522h3v1h-3zM270,521h1v3h-1zM279,500h3v1h-3zM280,499h1v3h-1zM289,487h3v1h-3zM290,486h1v3h-1zM299,500h3v1h-3zM300,499h1v3h-1zM309,502h3v1h-3zM310,501h1v3h-1zM319,510h3v1h-3zM320,509h1v3h-1zM329,522h3v1h-3zM330,521h1v3h-1zM339,523h3v1h-3zM340,522h1v3h-1zM349,489h3v1h-3zM350,488h1v3h-1zM359,509h3v1h-3zM360,508h1v3h-1zM369,508h3v1h-3zM370,507h1v3h-1zM379,522h3v1h-3zM380,521h1v3h-1zM389,517h3v1h-3zM390,516h1v3h-1zM399,501h3v1h-3zM400,500h1v3h-1zM409,508h3v1h-3zM410,507h1v3h-1zM419,540h3v1h-3zM420,539h1v3h-1zM429,544h3v1h-3zM430,543h1v3h-1zM439,523h3v1h-3zM440,522h1v3h-1zM449,505h3v1h-3zM450,504h1v3h-1zM459,517h3v1h-3zM460,516h1v3h-1zM469,507h3v1h-3zM470,506h1v3h-1zM479,518h3v1h-3zM480,517h1v3h-1zM489,524h3v1h-3zM490,523h1v3h-1zM499,528h3v1h-3zM500,527h1v3h-1zM509,533h3v1h-3zM510,532h1v3h-1zM519,518h3v1h-3zM520,517h1v3h-1zM529,528h3v1h-3zM530,527h1v3h-1zM539,511h3v1h-3zM540,510h1v3h-1zM549,497h3v1h-3zM550,496h1v3h-1zM559,508h3v1h-3zM560,507h1v3h-1zM569,488h3v1h-3zM570,487h1v3h-1zM579,531h3v1h-3zM580,530h1v3h-1zM589,509h3v1h-3zM590,508h1v3h-1zM599,522h3v1h-3zM600,521h1v3h-1zM609,510h3v1h-3zM610,509h1v3h-1zM619,523h3v1h-3zM620,522h1v3h-1zM629,523h3v1h-3zM630,522h1v3h-1zM639,505h3v1h-3zM640,504h1v3h-1zM649,530h3v1h-3zM650,529h1v3h-1zM659,505h3v1h-3zM660,504h1v3h-1zM669,483h3v1h-3zM670,482h1v3h-1zM679,501h3v1h-3zM680,500h1v3h-1zM689,480h3v1h-3zM690,479h1v3h-1z" fill="#DCC49A"/>
<polyline points="50,122.5 60,124.8 70,120.2 80,117.8 90,114.5 100,115.8 110,124.2 120,144.4 130,161.6 140,184.4 150,169.3 160,163.3 170,164.8 180,158.8 190,147.5 200,169.1 210,177.0 220,170.7 230,170.9 240,173.9 250,173.1 260,169.7 270,163.2 280,159.8 290,170.7 300,167.7 310,160.9 320,170.5 330,183.8 340,183.6 350,173.8 360,173.6 370,178.8 380,181.2 390,185.0 400,196.0 410,207.6 420,192.7 430,199.3 440,213.1 450,201.9 460,198.9 470,198.8 480,200.9 490,210.9 500,197.5 510,204.0 520,200.2 530,194.5 540,183.1 550,187.9 560,176.9 570,194.3 580,180.0 590,193.3 600,169.0 610,195.7 620,191.6 630,190.7 640,196.6 650,189.8 660,167.5 670,188.1 680,173.3 690,191.7" fill="none" stroke="#8B0A0A" stroke-width="1" />
<path d="M49,122h3v1h-3zM50,121h1v3h-1zM59,124h3v1h-3zM60,123h1v3h-1zM69,120h3v1h-3zM70,119h1v3h-1zM79,117h3v1h-3zM80,116h1v3h-1zM89,114h3v1h-3zM90,113h1v3h-1zM99,115h3v1h-3zM100,114h1v3h-1zM109,124h3v1h-3zM110,123h1v3h-1zM119,144h3v1h-3zM120,143h1v3h-1zM129,161h3v1h-3zM130,160h1v3h-1zM139,184h3v1h-3zM140,183h1v3h-1zM149,169h3v1h-3zM150,168h1v3h-1zM159,163h3v1h-3zM160,162h1v3h-1zM169,164h3v1h-3zM170,163h1v3h-1zM179,158h3v1h-3zM180,157h1v3h-1zM189,147h3v1h-3zM190,146h1v3h-1zM199,169h3v1h-3zM200,168h1v3h-1zM209,177h3v1h-3zM210,176h1v3h-1zM219,170h3v1h-3zM220,169h1v3h-1zM229,170h3v1h-3zM230,169h1v3h-1zM239,173h3v1h-3zM240,172h1v3h-1zM249,173h3v1h-3zM250,172h1v3h-1zM259,169h3v1h-3zM260,168h1v3h-1zM269,163h3v1h-3zM270,162h1v3h-1zM279,159h3v1h-3zM280,158h1v3h-1zM289,170h3v1h-3zM290,169h1v3h-1zM299,167h3v1h-3zM300,166h1v3h-1zM309,160h3v1h-3zM310,159h1v3h-1zM319,170h3v1h-3zM320,169h1v3h-1zM329,183h3v1h-3zM330,182h1v3h-1zM339,183h3v1h-3zM340,182h1v3h-1zM349,173h3v1h-3zM350,172h1v3h-1zM359,173h3v1h-3zM360,172h1v3h-1zM369,178h3v1h-3zM370,177h1v3h-1zM379,181h3v1h-3zM380,180h1v3h-1zM389,185h3v1h-3zM390,184h1v3h-1zM399,196h3v1h-3zM400,195h1v3h-1zM409,207h3v1h-3zM410,206h1v3h-1zM419,192h3v1h-3zM420,191h1v3h-1zM429,199h3v1h-3zM430,198h1v3h-1zM439,213h3v1h-3zM440,212h1v3h-1zM449,201h3v1h-3zM450,200h1v3h-1zM459,198h3v1h-3zM460,197h1v3h-1zM469,198h3v1h-3zM470,197h1v3h-1zM479,200h3v1h-3zM480,199h1v3h-1zM489,210h3v1h-3zM490,209h1v3h-1zM499,197h3v1h-3zM500,196h1v3h-1zM509,203h3v1h-3zM510,202h1v3h-1zM519,200h3v1h-3zM520,199h1v3h-1zM529,194h3v1h-3zM530,193h1v3h-1zM539,183h3v1h-3zM540,182h1v3h-1zM549,187h3v1h-3zM550,186h1v3h-1zM559,176h3v1h-3zM560,175h1v3h-1zM569,194h3v1h-3zM570,193h1v3h-1zM579,179h3v1h-3zM580,178h1v3h-1zM589,193h3v1h-3zM590,192h1v3h-1zM599,168h3v1h-3zM600,167h1v3h-1zM609,195h3v1h-3zM610,194h1v3h-1zM619,191h3v1h-3zM620,190h1v3h-1zM629,190h3v1h-3zM630,189h1v3h-1zM639,196h3v1h-3zM640,195h1v3h-1zM649,189h3v1h-3zM650,188h1v3h-1zM659,167h3v1h-3zM660,166h1v3h-1zM669,188h3v1h-3zM670,187h1v3h-1zM679,173h3v1h-3zM680,172h1v3h-1zM689,191h3v1h-3zM690,190h1v3h-1z" fill="#8B0A0A"/>
<polyline points="50,536.9 60,516.3 70,491.1 80,498.3 90,523.5 100,523.4 110,532.3 120,533.0 130,533.8 140,530.9 150,533.5 160,531.3 170,537.5 180,535.6 190,527.6 200,532.3 210,534.0 220,533.2 230,527.0 240,532.4 250,537.1 260,542.8 270,529.1 280,505.2 290,506.8 300,508.4 310,514.7 320,489.6 330,490.0 340,480.0 350,486.0 360,487.7 370,495.5 380,511.0 390,542.9 400,544.0 410,543.1 420,535.8 430,543.0 440,539.0 450,542.6 460,539.5 470,522.7 480,543.6 490,515.5 500,526.6 510,529.5 520,521.3 530,519.9 540,522.9 550,526.7 560,542.6 570,544.4 580,530.9 590,513.8 600,516.5 610,543.8 620,534.1 630,536.7 640,532.6 650,533.7 660,540.2 670,511.2 680,519.3 690,543.4" fill="none" stroke="#8B0A0A" stroke-width="1" />
<path d="M49,536h3v1h-3zM50,535h1v3h-1zM59,516h3v1h-3zM60,515h1v3h-1zM69,491h3v1h-3zM70,490h1v3h-1zM79,498h3v1h-3zM80,497h1v3h-1zM89,523h3v1h-3zM90,522h1v3h-1zM99,523h3v1h-3zM100,522h1v3h-1zM109,532h3v1h-3zM110,531h1v3h-1zM119,532h3v1h-3zM120,531h1v3h-1zM129,533h3v1h-3zM130,532h1v3h-1zM139,530h3v1h-3zM140,529h1v3h-1zM149,533h3v1h-3zM150,532h1v3h-1zM159,531h3v1h-3zM160,530h1v3h-1zM169,537h3v1h-3zM170,536h1v3h-1zM179,535h3v1h-3zM180,534h1v3h-1zM189,527h3v1h-3zM190,526h1v3h-1zM199,532h3v1h-3zM200,531h1v3h-1zM209,533h3v1h-3zM210,532h1v3h-1zM219,533h3v1h-3zM220,532h1v3h-1zM229,527h3v1h-3zM230,526h1v3h-1zM239,532h3v1h-3zM240,531h1v3h-1zM249,537h3v1h-3zM250,536h1v3h-1zM259,542h3v1h-3zM260,541h1v3h-1zM269,529h3v1h-3zM270,528h1v3h-1zM279,505h3v1h-3zM280,504h1v3h-1zM289,506h3v1h-3zM290,505h1v3h-1zM299,508h3v1h-3zM300,507h1v3h-1zM309,514h3v1h-3zM310,513h1v3h-1zM319,489h3v1h-3zM320,488h1v3h-1zM329,490h3v1h-3zM330,489h1v3h-1zM339,480h3v1h-3zM340,479h1v3h-1zM349,486h3v1h-3zM350,485h1v3h-1zM359,487h3v1h-3zM360,486h1v3h-1zM369,495h3v1h-3zM370,494h1v3h-1zM379,511h3v1h-3zM380,510h1v3h-1zM389,542h3v1h-3zM390,541h1v3h-1zM399,544h3v1h-3zM400,543h1v3h-1zM409,543h3v1h-3zM410,542h1v3h-1zM419,535h3v1h-3zM420,534h1v3h-1zM429,542h3v1h-3zM430,541h1v3h-1zM439,538h3v1h-3zM440,537h1v3h-1zM449,542h3v1h-3zM450,541h1v3h-1zM459,539h3v1h-3zM460,538h1v3h-1zM469,522h3v1h-3zM470,521h1v3h-1zM479,543h3v1h-3zM480,542h1v3h-1zM489,515h3v1h-3zM490,514h1v3h-1zM499,526h3v1h-3zM500,525h1v3h-1zM509,529h3v1h-3zM510,528h1v3h-1zM519,521h3v1h-3zM520,520h1v3h-1zM529,519h3v1h-3zM530,518h1v3h-1zM539,522h3v1h-3zM540,521h1v3h-1zM549,526h3v1h-3zM550,525h1v3h-1zM559,542h3v1h-3zM560,541h1v3h-1zM569,544h3v1h-3zM570,543h1v3h-1zM579,530h3v1h-3zM580,529h1v3h-1zM589,513h3v1h-3zM590,512h1v3h-1zM599,516h3v1h-3zM600,515h1v3h-1zM609,543h3v1h-3zM610,542h1v3h-1zM619,534h3v1h-3zM620,533h1v3h-1zM629,536h3v1h-3zM630,535h1v3h-1zM639,532h3v1h-3zM640,531h1v3h-1zM649,533h3v1h-3zM650,532h1v3h-1zM659,540h3v1h-3zM660,539h1v3h-1zM669,511h3v1h-3zM670,510h1v3h-1zM679,519h3v1h-3zM680,518h1v3h-1zM689,543h3v1h-3zM690,542h1v3h-1z" fill="#8B0A0A"/>
<polyline points="50,121.8 60,123.4 70,118.2 80,110.1 90,112.1 100,113.0 110,119.1 120,139.9 130,143.1 140,161.2 150,148.9 160,145.7 170,154.4 180,152.7 190,143.3 200,142.9 210,151.6 220,148.4 230,137.5 240,146.8 250,147.9 260,152.8 270,151.1 280,143.6 290,153.2 300,158.2 310,148.9 320,148.9 330,149.0 340,154.2 350,146.9 360,150.2 370,147.0 380,145.2 390,145.4 400,142.2 410,144.4 420,161.8 430,139.9 440,145.2 450,161.6 460,162.3 470,157.5 480,158.7 490,166.3 500,160.0 510,153.5 520,159.0 530,146.0 540,140.4 550,138.0 560,129.8 570,141.7 580,145.8 590,142.4 600,138.2 610,155.1 620,163.8 630,153.7 640,157.0 650,160.7 660,167.0 670,164.4 680,163.1 690,162.5" fill="none" stroke="#0A2FC4" stroke-width="1" />
<path d="M49,121h3v1h-3zM50,120h1v3h-1zM59,123h3v1h-3zM60,122h1v3h-1zM69,118h3v1h-3zM70,117h1v3h-1zM79,110h3v1h-3zM80,109h1v3h-1zM89,112h3v1h-3zM90,111h1v3h-1zM99,113h3v1h-3zM100,112h1v3h-1zM109,119h3v1h-3zM110,118h1v3h-1zM119,139h3v1h-3zM120,138h1v3h-1zM129,143h3v1h-3zM130,142h1v3h-1zM139,161h3v1h-3zM140,160h1v3h-1zM149,148h3v1h-3zM150,147h1v3h-1zM159,145h3v1h-3zM160,144h1v3h-1zM169,154h3v1h-3zM170,153h1v3h-1zM179,152h3v1h-3zM180,151h1v3h-1zM189,143h3v1h-3zM190,142h1v3h-1zM199,142h3v1h-3zM200,141h1v3h-1zM209,151h3v1h-3zM210,150h1v3h-1zM219,148h3v1h-3zM220,147h1v3h-1zM229,137h3v1h-3zM230,136h1v3h-1zM239,146h3v1h-3zM240,145h1v3h-1zM249,147h3v1h-3zM250,146h1v3h-1zM259,152h3v1h-3zM260,151h1v3h-1zM269,151h3v1h-3zM270,150h1v3h-1zM279,143h3v1h-3zM280,142h1v3h-1zM289,153h3v1h-3zM290,152h1v3h-1zM299,158h3v1h-3zM300,157h1v3h-1zM309,148h3v1h-3zM310,147h1v3h-1zM319,148h3v1h-3zM320,147h1v3h-1zM329,149h3v1h-3zM330,148h1v3h-1zM339,154h3v1h-3zM340,153h1v3h-1zM349,146h3v1h-3zM350,145h1v3h-1zM359,150h3v1h-3zM360,149h1v3h-1zM369,147h3v1h-3zM370,146h1v3h-1zM379,145h3v1h-3zM380,144h1v3h-1zM389,145h3v1h-3zM390,144h1v3h-1zM399,142h3v1h-3zM400,141h1v3h-1zM409,144h3v1h-3zM410,143h1v3h-1zM419,161h3v1h-3zM420,160h1v3h-1zM429,139h3v1h-3zM430,138h1v3h-1zM439,145h3v1h-3zM440,144h1v3h-1zM449,161h3v1h-3zM450,160h1v3h-1zM459,162h3v1h-3zM460,161h1v3h-1zM469,157h3v1h-3zM470,156h1v3h-1zM479,158h3v1h-3zM480,157h1v3h-1zM489,166h3v1h-3zM490,165h1v3h-1zM499,160h3v1h-3zM500,159h1v3h-1zM509,153h3v1h-3zM510,152h1v3h-1zM519,158h3v1h-3zM520,157h1v3h-1zM529,146h3v1h-3zM530,145h1v3h-1zM539,140h3v1h-3zM540,139h1v3h-1zM549,137h3v1h-3zM550,136h1v3h-1zM559,129h3v1h-3zM560,128h1v3h-1zM569,141h3v1h-3zM570,140h1v3h-1zM579,145h3v1h-3zM580,144h1v3h-1zM589,142h3v1h-3zM590,141h1v3h-1zM599,138h3v1h-3zM600,137h1v3h-1zM609,155h3v1h-3zM610,154h1v3h-1zM619,163h3v1h-3zM620,162h1v3h-1zM629,153h3v1h-3zM630,152h1v3h-1zM639,157h3v1h-3zM640,156h1v3h-1zM649,160h3v1h-3zM650,159h1v3h-1zM659,166h3v1h-3zM660,165h1v3h-1zM669,164h3v1h-3zM670,163h1v3h-1zM679,163h3v1h-3zM680,162h1v3h-1zM689,162h3v1h-3zM690,161h1v3h-1z" fill="#0A2FC4"/>
<polyline points="50,538.6 60,516.9 70,489.1 80,489.4 90,507.5 100,530.2 110,515.8 120,531.6 130,543.3 140,527.7 150,530.5 160,525.0 170,514.9 180,516.6 190,514.5 200,509.8 210,529.2 220,540.1 230,530.5 240,516.2 250,519.1 260,527.5 270,522.4 280,537.2 290,537.3 300,533.5 310,522.1 320,537.8 330,522.4 340,527.2 350,534.2 360,529.3 370,519.3 380,538.9 390,538.1 400,531.3 410,534.9 420,529.3 430,531.9 440,533.5 450,540.0 460,527.9 470,538.4 480,525.7 490,522.3 500,532.2 510,538.7 520,538.0 530,538.9 540,544.4 550,530.6 560,542.1 570,514.0 580,526.2 590,500.0 600,420.0 610,450.0 620,520.0 630,544.2 640,530.1 650,510.2 660,524.3 670,536.1 680,516.0 690,528.4" fill="none" stroke="#0A2FC4" stroke-width="1" />
<path d="M49,538h3v1h-3zM50,537h1v3h-1zM59,516h3v1h-3zM60,515h1v3h-1zM69,489h3v1h-3zM70,488h1v3h-1zM79,489h3v1h-3zM80,488h1v3h-1zM89,507h3v1h-3zM90,506h1v3h-1zM99,530h3v1h-3zM100,529h1v3h-1zM109,515h3v1h-3zM110,514h1v3h-1zM119,531h3v1h-3zM120,530h1v3h-1zM129,543h3v1h-3zM130,542h1v3h-1zM139,527h3v1h-3zM140,526h1v3h-1zM149,530h3v1h-3zM150,529h1v3h-1zM159,525h3v1h-3zM160,524h1v3h-1zM169,514h3v1h-3zM170,513h1v3h-1zM179,516h3v1h-3zM180,515h1v3h-1zM189,514h3v1h-3zM190,513h1v3h-1zM199,509h3v1h-3zM200,508h1v3h-1zM209,529h3v1h-3zM210,528h1v3h-1zM219,540h3v1h-3zM220,539h1v3h-1zM229,530h3v1h-3zM230,529h1v3h-1zM239,516h3v1h-3zM240,515h1v3h-1zM249,519h3v1h-3zM250,518h1v3h-1zM259,527h3v1h-3zM260,526h1v3h-1zM269,522h3v1h-3zM270,521h1v3h-1zM279,537h3v1h-3zM280,536h1v3h-1zM289,537h3v1h-3zM290,536h1v3h-1zM299,533h3v1h-3zM300,532h1v3h-1zM309,522h3v1h-3zM310,521h1v3h-1zM319,537h3v1h-3zM320,536h1v3h-1zM329,522h3v1h-3zM330,521h1v3h-1zM339,527h3v1h-3zM340,526h1v3h-1zM349,534h3v1h-3zM350,533h1v3h-1zM359,529h3v1h-3zM360,528h1v3h-1zM369,519h3v1h-3zM370,518h1v3h-1zM379,538h3v1h-3zM380,537h1v3h-1zM389,538h3v1h-3zM390,537h1v3h-1zM399,531h3v1h-3zM400,530h1v3h-1zM409,534h3v1h-3zM410,533h1v3h-1zM419,529h3v1h-3zM420,528h1v3h-1zM429,531h3v1h-3zM430,530h1v3h-1zM439,533h3v1h-3zM440,532h1v3h-1zM449,540h3v1h-3zM450,539h1v3h-1zM459,527h3v1h-3zM460,526h1v3h-1zM469,538h3v1h-3zM470,537h1v3h-1zM479,525h3v1h-3zM480,524h1v3h-1zM489,522h3v1h-3zM490,521h1v3h-1zM499,532h3v1h-3zM500,531h1v3h-1zM509,538h3v1h-3zM510,537h1v3h-1zM519,538h3v1h-3zM520,537h1v3h-1zM529,538h3v1h-3zM530,537h1v3h-1zM539,544h3v1h-3zM540,543h1v3h-1zM549,530h3v1h-3zM550,529h1v3h-1zM559,542h3v1h-3zM560,541h1v3h-1zM569,514h3v1h-3zM570,513h1v3h-1zM579,526h3v1h-3zM580,525h1v3h-1zM589,500h3v1h-3zM590,499h1v3h-1zM599,420h3v1h-3zM600,419h1v3h-1zM609,450h3v1h-3zM610,449h1v3h-1zM619,520h3v1h-3zM620,519h1v3h-1zM629,544h3v1h-3zM630,543h1v3h-1zM639,530h3v1h-3zM640,529h1v3h-1zM649,510h3v1h-3zM650,509h1v3h-1zM659,524h3v1h-3zM660,523h1v3h-1zM669,536h3v1h-3zM670,535h1v3h-1zM679,515h3v1h-3zM680,514h1v3h-1zM689,528h3v1h-3zM690,527h1v3h-1z" fill="#0A2FC4"/>
<polyline points="50,122.2 60,123.9 70,119.6 80,115.3 90,114.2 100,113.5 110,115.3 120,131.5 130,147.7 140,163.3 150,155.3 160,154.2 170,155.9 180,156.4 190,143.4 200,148.2 210,155.1 220,156.6 230,153.0 240,155.1 250,158.4 260,159.5 270,151.9 280,150.8 290,155.1 300,155.8 310,149.7 320,151.9 330,154.0 340,156.6 350,148.6 360,150.2 370,153.6 380,156.6 390,155.1 400,159.5 410,167.0 420,165.9 430,164.4 440,170.3 450,174.6 460,171.8 470,169.6 480,173.5 490,178.9 500,176.0 510,171.6 520,173.8 530,177.5 540,172.7 550,169.5 560,170.5 570,174.9 580,167.9 590,165.1 600,166.3 610,170.7 620,164.5 630,162.0 640,163.8 650,168.0 660,163.6 670,159.6 680,165.0 690,172.0" fill="none" stroke="#ff0000" stroke-width="3.5" />
<polyline points="50,528.9 60,513.8 70,486.8 80,490.0 90,500.8 100,511.6 110,519.2 120,524.6 130,522.4 140,518.1 150,515.9 160,513.1 170,511.6 180,520.3 190,512.7 200,517.0 210,524.6 220,530.0 230,521.4 240,522.4 250,525.7 260,526.8 270,522.4 280,516.0 290,516.0 300,516.0 310,512.7 320,504.0 330,511.6 340,518.1 350,515.4 360,513.4 370,519.7 380,530.0 390,525.4 400,523.8 410,522.2 420,523.8 430,519.0 440,511.2 450,517.5 460,521.6 470,517.5 480,519.7 490,520.6 500,520.6 510,519.7 520,517.0 530,520.6 540,522.8 550,522.2 560,518.4 570,516.0 580,523.8 590,520.6 600,516.6 610,515.3 620,522.2 630,517.5 640,511.2 650,511.2 660,512.2 670,505.0 680,509.6 690,514.4" fill="none" stroke="#ff0000" stroke-width="3.5" />
</g>
<g stroke="#000" stroke-width="1" shape-rendering="crispEdges">
<path d="M35,565.5H66M50.5,550V581M39.2,554.2L61.8,576.8M39.2,576.8L61.8,554.2" fill="none"/>
<path d="M75,565.5H106M90.5,550V581M79.2,554.2L101.8,576.8M79.2,576.8L101.8,554.2" fill="none"/>
<path d="M115,565.5H146M130.5,550V581M119.2,554.2L141.8,576.8M119.2,576.8L141.8,554.2" fill="none"/>
<path d="M155,565.5H186M170.5,550V581M159.2,554.2L181.8,576.8M159.2,576.8L181.8,554.2" fill="none"/>
<path d="M195,565.5H226M210.5,550V581M199.2,554.2L221.8,576.8M199.2,576.8L221.8,554.2" fill="none"/>
<path d="M235,565.5H266M250.5,550V581M239.2,554.2L261.8,576.8M239.2,576.8L261.8,554.2" fill="none"/>
<path d="M275,565.5H306M290.5,550V581M279.2,554.2L301.8,576.8M279.2,576.8L301.8,554.2" fill="none"/>
<path d="M315,565.5H346M330.5,550V581M319.2,554.2L341.8,576.8M319.2,576.8L341.8,554.2" fill="none"/>
<path d="M355,565.5H386M370.5,550V581M359.2,554.2L381.8,576.8M359.2,576.8L381.8,554.2" fill="none"/>
<path d="M395,565.5H426M410.5,550V581M399.2,554.2L421.8,576.8M399.2,576.8L421.8,554.2" fill="none"/>
<path d="M435,565.5H466M450.5,550V581M439.2,554.2L461.8,576.8M439.2,576.8L461.8,554.2" fill="none"/>
<path d="M475,565.5H506M490.5,550V581M479.2,554.2L501.8,576.8M479.2,576.8L501.8,554.2" fill="none"/>
<path d="M515,565.5H546M530.5,550V581M519.2,554.2L541.8,576.8M519.2,576.8L541.8,554.2" fill="none"/>
<path d="M555,565.5H586M570.5,550V581M559.2,554.2L581.8,576.8M559.2,576.8L581.8,554.2" fill="none"/>
<path d="M595,565.5H626M610.5,550V581M599.2,554.2L621.8,576.8M599.2,576.8L621.8,554.2" fill="none"/>
<path d="M635,565.5H666M650.5,550V581M639.2,554.2L661.8,576.8M639.2,576.8L661.8,554.2" fill="none"/>
<path d="M675,565.5H706M690.5,550V581M679.2,554.2L701.8,576.8M679.2,576.8L701.8,554.2" fill="none"/>
</g>
<g fill="#0000ff" shape-rendering="crispEdges">
<polygon points="45.5,564 51,565.5 50.5,569.5 14.5,601"/>
<polygon points="52,565.5 71,565 72,563.8 91,563.5 93,566 79,577 52,566.5"/>
<polygon points="127,561 133,563 138,566 147,581 130,587 129,570 127,566"/>
<polygon points="170,561 174,565 174,572 172,580 170.5,601 160,576 166,568"/>
<polygon points="209.5,549 216,560 213,567 210,578 205,566 202,558"/>
<polygon points="250.3,552.6 256.4,560 264,564.7 258.4,570.4 250,572.8 246.3,568.4 245.3,559"/>
<polygon points="286.8,562.3 296,559.3 301,565.3 308,583 292,570.4 288,569.4"/>
<polygon points="326.4,565.3 331.4,560.7 348.7,564.3 341.6,575.5 329.4,575.5 325.8,570"/>
<polygon points="360.8,555.8 372.4,561.3 380.5,565.3 372.4,570.4 361.2,574.5 365.3,565.3"/>
<path d="M48,567L15.5,599.5" stroke="#0000ff" stroke-width="1.4" fill="none"/>
<rect x="410" y="528" width="1" height="55"/>
<rect x="409" y="546" width="3" height="33"/>
<rect x="408" y="556" width="5" height="15"/>
<rect x="450" y="528" width="1" height="56"/>
<rect x="449" y="546" width="3" height="34"/>
<rect x="448" y="556" width="5" height="15"/>
<rect x="490" y="546" width="1" height="50"/>
<rect x="489" y="554" width="3" height="28"/>
<rect x="488" y="556" width="5" height="15"/>
<rect x="530" y="549" width="1" height="49"/>
<rect x="529" y="557" width="3" height="25"/>
<rect x="528" y="556" width="5" height="15"/>
<rect x="570" y="532" width="1" height="47"/>
<rect x="569" y="546" width="3" height="29"/>
<rect x="568" y="556" width="5" height="15"/>
<rect x="610" y="529" width="1" height="50"/>
<rect x="609" y="546" width="3" height="29"/>
<rect x="608" y="556" width="5" height="15"/>
<rect x="650" y="536" width="1" height="50"/>
<rect x="649" y="546" width="3" height="36"/>
<rect x="648" y="556" width="5" height="15"/>
<rect x="690" y="536" width="1" height="49"/>
<rect x="689" y="546" width="3" height="35"/>
<rect x="688" y="556" width="5" height="15"/>
</g>
<g stroke="#000" stroke-width="1" shape-rendering="crispEdges">
<path d="M35,565.5H66M50.5,550V581M39.2,554.2L61.8,576.8M39.2,576.8L61.8,554.2" fill="none"/>
<path d="M75,565.5H106M90.5,550V581M79.2,554.2L101.8,576.8M79.2,576.8L101.8,554.2" fill="none"/>
<path d="M115,565.5H146M130.5,550V581M119.2,554.2L141.8,576.8M119.2,576.8L141.8,554.2" fill="none"/>
<path d="M155,565.5H186M170.5,550V581M159.2,554.2L181.8,576.8M159.2,576.8L181.8,554.2" fill="none"/>
<path d="M195,565.5H226M210.5,550V581M199.2,554.2L221.8,576.8M199.2,576.8L221.8,554.2" fill="none"/>
<path d="M235,565.5H266M250.5,550V581M239.2,554.2L261.8,576.8M239.2,576.8L261.8,554.2" fill="none"/>
<path d="M275,565.5H306M290.5,550V581M279.2,554.2L301.8,576.8M279.2,576.8L301.8,554.2" fill="none"/>
<path d="M315,565.5H346M330.5,550V581M319.2,554.2L341.8,576.8M319.2,576.8L341.8,554.2" fill="none"/>
<path d="M355,565.5H386M370.5,550V581M359.2,554.2L381.8,576.8M359.2,576.8L381.8,554.2" fill="none"/>
<path d="M395,565.5H426M410.5,550V581M399.2,554.2L421.8,576.8M399.2,576.8L421.8,554.2" fill="none"/>
<path d="M435,565.5H466M450.5,550V581M439.2,554.2L461.8,576.8M439.2,576.8L461.8,554.2" fill="none"/>
<path d="M475,565.5H506M490.5,550V581M479.2,554.2L501.8,576.8M479.2,576.8L501.8,554.2" fill="none"/>
<path d="M515,565.5H546M530.5,550V581M519.2,554.2L541.8,576.8M519.2,576.8L541.8,554.2" fill="none"/>
<path d="M555,565.5H586M570.5,550V581M559.2,554.2L581.8,576.8M559.2,576.8L581.8,554.2" fill="none"/>
<path d="M595,565.5H626M610.5,550V581M599.2,554.2L621.8,576.8M599.2,576.8L621.8,554.2" fill="none"/>
<path d="M635,565.5H666M650.5,550V581M639.2,554.2L661.8,576.8M639.2,576.8L661.8,554.2" fill="none"/>
<path d="M675,565.5H706M690.5,550V581M679.2,554.2L701.8,576.8M679.2,576.8L701.8,554.2" fill="none"/>
</g>
<text transform="translate(90.7,549.3) scale(0.74,1)" font-family="'Liberation Sans',sans-serif" font-weight="bold" font-size="8.4" fill="#000" text-anchor="middle">N</text>
<text transform="translate(90.7,589.3) scale(0.74,1)" font-family="'Liberation Sans',sans-serif" font-weight="bold" font-size="8.4" fill="#000" text-anchor="middle">S</text>
<text transform="translate(108.7,570.2) scale(0.74,1)" font-family="'Liberation Sans',sans-serif" font-weight="bold" font-size="8.4" fill="#000" text-anchor="middle">E</text>
<text transform="translate(75.3,570.2) scale(0.74,1)" font-family="'Liberation Sans',sans-serif" font-weight="bold" font-size="8.4" fill="#000" text-anchor="middle">W</text>
<text x="19.6" y="27" font-family="'Liberation Sans',sans-serif" font-size="11" fill="#000">30</text>
<text x="709.6" y="27" font-family="'Liberation Sans',sans-serif" font-size="11" fill="#000">300</text>
<text x="19.6" y="62" font-family="'Liberation Sans',sans-serif" font-size="11" fill="#000">25</text>
<text x="709.6" y="62" font-family="'Liberation Sans',sans-serif" font-size="11" fill="#000">280</text>
<text x="19.6" y="97" font-family="'Liberation Sans',sans-serif" font-size="11" fill="#000">20</text>
<text x="709.6" y="97" font-family="'Liberation Sans',sans-serif" font-size="11" fill="#000">260</text>
<text x="19.6" y="132" font-family="'Liberation Sans',sans-serif" font-size="11" fill="#000">15</text>
<text x="709.6" y="132" font-family="'Liberation Sans',sans-serif" font-size="11" fill="#000">240</text>
<text x="19.6" y="167" font-family="'Liberation Sans',sans-serif" font-size="11" fill="#000">10</text>
<text x="709.6" y="167" font-family="'Liberation Sans',sans-serif" font-size="11" fill="#000">220</text>
<text x="19.6" y="202" font-family="'Liberation Sans',sans-serif" font-size="11" fill="#000">5</text>
<text x="709.6" y="202" font-family="'Liberation Sans',sans-serif" font-size="11" fill="#000">200</text>
<text x="19.6" y="237" font-family="'Liberation Sans',sans-serif" font-size="11" fill="#000">0</text>
<text x="709.6" y="237" font-family="'Liberation Sans',sans-serif" font-size="11" fill="#000">180</text>
<text transform="translate(19.5,270.7) scale(1.6,1)" font-family="'Liberation Sans',sans-serif" font-size="11" fill="#000">-</text><text x="25.5" y="272" font-family="'Liberation Sans',sans-serif" font-size="11" fill="#000">5</text>
<text x="709.6" y="272" font-family="'Liberation Sans',sans-serif" font-size="11" fill="#000">160</text>
<text transform="translate(19.5,305.7) scale(1.6,1)" font-family="'Liberation Sans',sans-serif" font-size="11" fill="#000">-</text><text x="25.5" y="307" font-family="'Liberation Sans',sans-serif" font-size="11" fill="#000">10</text>
<text x="709.6" y="307" font-family="'Liberation Sans',sans-serif" font-size="11" fill="#000">140</text>
<text transform="translate(19.5,340.7) scale(1.6,1)" font-family="'Liberation Sans',sans-serif" font-size="11" fill="#000">-</text><text x="25.5" y="342" font-family="'Liberation Sans',sans-serif" font-size="11" fill="#000">15</text>
<text x="709.6" y="342" font-family="'Liberation Sans',sans-serif" font-size="11" fill="#000">120</text>
<text transform="translate(19.5,375.7) scale(1.6,1)" font-family="'Liberation Sans',sans-serif" font-size="11" fill="#000">-</text><text x="25.5" y="377" font-family="'Liberation Sans',sans-serif" font-size="11" fill="#000">20</text>
<text x="709.6" y="377" font-family="'Liberation Sans',sans-serif" font-size="11" fill="#000">100</text>
<text transform="translate(19.5,410.7) scale(1.6,1)" font-family="'Liberation Sans',sans-serif" font-size="11" fill="#000">-</text><text x="25.5" y="412" font-family="'Liberation Sans',sans-serif" font-size="11" fill="#000">25</text>
<text x="709.6" y="412" font-family="'Liberation Sans',sans-serif" font-size="11" fill="#000">80</text>
<text transform="translate(19.5,445.7) scale(1.6,1)" font-family="'Liberation Sans',sans-serif" font-size="11" fill="#000">-</text><text x="25.5" y="447" font-family="'Liberation Sans',sans-serif" font-size="11" fill="#000">30</text>
<text x="709.6" y="447" font-family="'Liberation Sans',sans-serif" font-size="11" fill="#000">60</text>
<text transform="translate(19.5,480.7) scale(1.6,1)" font-family="'Liberation Sans',sans-serif" font-size="11" fill="#000">-</text><text x="25.5" y="482" font-family="'Liberation Sans',sans-serif" font-size="11" fill="#000">35</text>
<text x="709.6" y="482" font-family="'Liberation Sans',sans-serif" font-size="11" fill="#000">40</text>
<text transform="translate(19.5,515.7) scale(1.6,1)" font-family="'Liberation Sans',sans-serif" font-size="11" fill="#000">-</text><text x="25.5" y="517" font-family="'Liberation Sans',sans-serif" font-size="11" fill="#000">40</text>
<text x="709.6" y="517" font-family="'Liberation Sans',sans-serif" font-size="11" fill="#000">20</text>
<text transform="translate(19.5,550.7) scale(1.6,1)" font-family="'Liberation Sans',sans-serif" font-size="11" fill="#000">-</text><text x="25.5" y="552" font-family="'Liberation Sans',sans-serif" font-size="11" fill="#000">45</text>
<text x="709.6" y="552" font-family="'Liberation Sans',sans-serif" font-size="11" fill="#000">0</text>
<text transform="translate(59.5,95) scale(0.8333,1)" text-rendering="geometricPrecision" font-family="'Liberation Mono',monospace" font-size="12.0" fill="#000">Temp. 850hPa</text>
<text transform="translate(59.5,466) scale(0.8333,1)" text-rendering="geometricPrecision" font-family="'Liberation Mono',monospace" font-size="12.0" fill="#000">Vent 850hPa</text>
<text transform="translate(19.5,611) scale(0.8333,1)" text-rendering="geometricPrecision" font-family="'Liberation Mono',monospace" font-size="12.0" fill="#000">(°C)</text>
<text transform="translate(704.5,611) scale(0.8333,1)" text-rendering="geometricPrecision" font-family="'Liberation Mono',monospace" font-size="12.0" fill="#000">(km/h)</text>
<text transform="translate(92.2,631.3) rotate(-90) scale(0.8333,1)" text-rendering="geometricPrecision" font-family="'Liberation Mono',monospace" font-size="12.0" fill="#000">22/04</text>
<text transform="translate(132.2,631.3) rotate(-90) scale(0.8333,1)" text-rendering="geometricPrecision" font-family="'Liberation Mono',monospace" font-size="12.0" fill="#000">23/04</text>
<text transform="translate(172.2,631.3) rotate(-90) scale(0.8333,1)" text-rendering="geometricPrecision" font-family="'Liberation Mono',monospace" font-size="12.0" fill="#000">24/04</text>
<text transform="translate(212.2,631.3) rotate(-90) scale(0.8333,1)" text-rendering="geometricPrecision" font-family="'Liberation Mono',monospace" font-size="12.0" fill="#000">25/04</text>
<text transform="translate(252.2,631.3) rotate(-90) scale(0.8333,1)" text-rendering="geometricPrecision" font-family="'Liberation Mono',monospace" font-size="12.0" fill="#000">26/04</text>
<text transform="translate(292.2,631.3) rotate(-90) scale(0.8333,1)" text-rendering="geometricPrecision" font-family="'Liberation Mono',monospace" font-size="12.0" fill="#000">27/04</text>
<text transform="translate(332.2,631.3) rotate(-90) scale(0.8333,1)" text-rendering="geometricPrecision" font-family="'Liberation Mono',monospace" font-size="12.0" fill="#000">28/04</text>
<text transform="translate(372.2,631.3) rotate(-90) scale(0.8333,1)" text-rendering="geometricPrecision" font-family="'Liberation Mono',monospace" font-size="12.0" fill="#000">29/04</text>
<text transform="translate(412.2,631.3) rotate(-90) scale(0.8333,1)" text-rendering="geometricPrecision" font-family="'Liberation Mono',monospace" font-size="12.0" fill="#000">30/04</text>
<text transform="translate(452.2,631.3) rotate(-90) scale(0.8333,1)" text-rendering="geometricPrecision" font-family="'Liberation Mono',monospace" font-size="12.0" fill="#000">01/05</text>
<text transform="translate(492.2,631.3) rotate(-90) scale(0.8333,1)" text-rendering="geometricPrecision" font-family="'Liberation Mono',monospace" font-size="12.0" fill="#000">02/05</text>
<text transform="translate(532.2,631.3) rotate(-90) scale(0.8333,1)" text-rendering="geometricPrecision" font-family="'Liberation Mono',monospace" font-size="12.0" fill="#000">03/05</text>
<text transform="translate(572.2,631.3) rotate(-90) scale(0.8333,1)" text-rendering="geometricPrecision" font-family="'Liberation Mono',monospace" font-size="12.0" fill="#000">04/05</text>
<text transform="translate(612.2,631.3) rotate(-90) scale(0.8333,1)" text-rendering="geometricPrecision" font-family="'Liberation Mono',monospace" font-size="12.0" fill="#000">05/05</text>
<text transform="translate(652.2,631.3) rotate(-90) scale(0.8333,1)" text-rendering="geometricPrecision" font-family="'Liberation Mono',monospace" font-size="12.0" fill="#000">06/05</text>
<text transform="translate(692.2,631.3) rotate(-90) scale(0.8333,1)" text-rendering="geometricPrecision" font-family="'Liberation Mono',monospace" font-size="12.0" fill="#000">07/05</text>
<g shape-rendering="crispEdges">
<rect x="35" y="630" width="31" height="4" fill="#ff0000"/>
<rect x="225" y="635" width="31" height="4" fill="#0000ff"/>
<rect x="225" y="645" width="31" height="4" fill="#000"/>
<rect x="400" y="650" width="10" height="6" fill="#E67E30"/>
<rect x="411" y="650" width="10" height="6" fill="#7DC46A"/>
<rect x="422" y="650" width="10" height="6" fill="#F1C40F"/>
<rect x="433" y="650" width="10" height="6" fill="#8E44AD"/>
<rect x="444" y="650" width="10" height="6" fill="#B5490F"/>
<rect x="455" y="650" width="10" height="6" fill="#4E7F0E"/>
<rect x="466" y="650" width="10" height="6" fill="#0A7CFF"/>
<rect x="477" y="650" width="10" height="6" fill="#E8D5A8"/>
<rect x="488" y="650" width="10" height="6" fill="#3A87B7"/>
<rect x="499" y="650" width="10" height="6" fill="#E4A656"/>
<rect x="510" y="650" width="10" height="6" fill="#5E4A1E"/>
<rect x="521" y="650" width="10" height="6" fill="#F56A1E"/>
<rect x="532" y="650" width="10" height="6" fill="#D1BC72"/>
<rect x="543" y="650" width="10" height="6" fill="#0FD45C"/>
<rect x="554" y="650" width="10" height="6" fill="#28405C"/>
<rect x="565" y="650" width="10" height="6" fill="#6B7680"/>
<rect x="576" y="650" width="10" height="6" fill="#E070F5"/>
<rect x="587" y="650" width="10" height="6" fill="#7A1FF5"/>
<rect x="598" y="650" width="10" height="6" fill="#7A5520"/>
<rect x="609" y="650" width="10" height="6" fill="#2E0A6E"/>
<rect x="620" y="650" width="10" height="6" fill="#F5D010"/>
<rect x="631" y="650" width="10" height="6" fill="#2A6CA8"/>
<rect x="642" y="650" width="10" height="6" fill="#915520"/>
<rect x="653" y="650" width="10" height="6" fill="#9388E6"/>
<rect x="664" y="650" width="10" height="6" fill="#99F53D"/>
<rect x="675" y="650" width="10" height="6" fill="#D070D0"/>
<rect x="686" y="650" width="10" height="6" fill="#1C0A9E"/>
<rect x="697" y="650" width="10" height="6" fill="#DCC49A"/>
<rect x="708" y="650" width="10" height="6" fill="#8B0A0A"/>
<rect x="719" y="650" width="10" height="6" fill="#0A2FC4"/>
</g>
<text transform="translate(74.5,641) scale(0.8333,1)" text-rendering="geometricPrecision" font-family="'Liberation Mono',monospace" font-size="12.0" fill="#000">Moyenne des scénarios</text>
<text transform="translate(264.5,641) scale(0.8333,1)" text-rendering="geometricPrecision" font-family="'Liberation Mono',monospace" font-size="12.0" fill="#000">Run de contrôle</text>
<text transform="translate(264.5,651) scale(0.8333,1)" text-rendering="geometricPrecision" font-family="'Liberation Mono',monospace" font-size="12.0" fill="#000">Run GFS</text>
<text transform="translate(338.5,656) scale(0.8333,1)" text-rendering="geometricPrecision" font-family="'Liberation Mono',monospace" font-size="12.0" fill="#000">30 Perts.</text>
<text x="400.6" y="647" font-family="'Liberation Sans',sans-serif" font-weight="bold" font-size="8.2" letter-spacing="0.3" fill="#000">01</text>
<text x="411.6" y="647" font-family="'Liberation Sans',sans-serif" font-weight="bold" font-size="8.2" letter-spacing="0.3" fill="#000">02</text>
<text x="422.6" y="647" font-family="'Liberation Sans',sans-serif" font-weight="bold" font-size="8.2" letter-spacing="0.3" fill="#000">03</text>
<text x="433.6" y="647" font-family="'Liberation Sans',sans-serif" font-weight="bold" font-size="8.2" letter-spacing="0.3" fill="#000">04</text>
<text x="444.6" y="647" font-family="'Liberation Sans',sans-serif" font-weight="bold" font-size="8.2" letter-spacing="0.3" fill="#000">05</text>
<text x="455.6" y="647" font-family="'Liberation Sans',sans-serif" font-weight="bold" font-size="8.2" letter-spacing="0.3" fill="#000">06</text>
<text x="466.6" y="647" font-family="'Liberation Sans',sans-serif" font-weight="bold" font-size="8.2" letter-spacing="0.3" fill="#000">07</text>
<text x="477.6" y="647" font-family="'Liberation Sans',sans-serif" font-weight="bold" font-size="8.2" letter-spacing="0.3" fill="#000">08</text>
<text x="488.6" y="647" font-family="'Liberation Sans',sans-serif" font-weight="bold" font-size="8.2" letter-spacing="0.3" fill="#000">09</text>
<text x="499.6" y="647" font-family="'Liberation Sans',sans-serif" font-weight="bold" font-size="8.2" letter-spacing="0.3" fill="#000">10</text>
<text x="510.6" y="647" font-family="'Liberation Sans',sans-serif" font-weight="bold" font-size="8.2" letter-spacing="0.3" fill="#000">11</text>
<text x="521.6" y="647" font-family="'Liberation Sans',sans-serif" font-weight="bold" font-size="8.2" letter-spacing="0.3" fill="#000">12</text>
<text x="532.6" y="647" font-family="'Liberation Sans',sans-serif" font-weight="bold" font-size="8.2" letter-spacing="0.3" fill="#000">13</text>
<text x="543.6" y="647" font-family="'Liberation Sans',sans-serif" font-weight="bold" font-size="8.2" letter-spacing="0.3" fill="#000">14</text>
<text x="554.6" y="647" font-family="'Liberation Sans',sans-serif" font-weight="bold" font-size="8.2" letter-spacing="0.3" fill="#000">15</text>
<text x="565.6" y="647" font-family="'Liberation Sans',sans-serif" font-weight="bold" font-size="8.2" letter-spacing="0.3" fill="#000">16</text>
<text x="576.6" y="647" font-family="'Liberation Sans',sans-serif" font-weight="bold" font-size="8.2" letter-spacing="0.3" fill="#000">17</text>
<text x="587.6" y="647" font-family="'Liberation Sans',sans-serif" font-weight="bold" font-size="8.2" letter-spacing="0.3" fill="#000">18</text>
<text x="598.6" y="647" font-family="'Liberation Sans',sans-serif" font-weight="bold" font-size="8.2" letter-spacing="0.3" fill="#000">19</text>
<text x="609.6" y="647" font-family="'Liberation Sans',sans-serif" font-weight="bold" font-size="8.2" letter-spacing="0.3" fill="#000">20</text>
<text x="620.6" y="647" font-family="'Liberation Sans',sans-serif" font-weight="bold" font-size="8.2" letter-spacing="0.3" fill="#000">21</text>
<text x="631.6" y="647" font-family="'Liberation Sans',sans-serif" font-weight="bold" font-size="8.2" letter-spacing="0.3" fill="#000">22</text>
<text x="642.6" y="647" font-family="'Liberation Sans',sans-serif" font-weight="bold" font-size="8.2" letter-spacing="0.3" fill="#000">23</text>
<text x="653.6" y="647" font-family="'Liberation Sans',sans-serif" font-weight="bold" font-size="8.2" letter-spacing="0.3" fill="#000">24</text>
<text x="664.6" y="647" font-family="'Liberation Sans',sans-serif" font-weight="bold" font-size="8.2" letter-spacing="0.3" fill="#000">25</text>
<text x="675.6" y="647" font-family="'Liberation Sans',sans-serif" font-weight="bold" font-size="8.2" letter-spacing="0.3" fill="#000">26</text>
<text x="686.6" y="647" font-family="'Liberation Sans',sans-serif" font-weight="bold" font-size="8.2" letter-spacing="0.3" fill="#000">27</text>
<text x="697.6" y="647" font-family="'Liberation Sans',sans-serif" font-weight="bold" font-size="8.2" letter-spacing="0.3" fill="#000">28</text>
<text x="708.6" y="647" font-family="'Liberation Sans',sans-serif" font-weight="bold" font-size="8.2" letter-spacing="0.3" fill="#000">29</text>
<text x="719.6" y="647" font-family="'Liberation Sans',sans-serif" font-weight="bold" font-size="8.2" letter-spacing="0.3" fill="#000">30</text>
<g shape-rendering="crispEdges" fill="#000">
<rect x="20" y="667" width="421" height="1"/>
<rect x="20" y="699" width="421" height="1"/>
<rect x="20" y="667" width="1" height="33"/>
<rect x="440" y="667" width="1" height="33"/>
</g>
<text transform="translate(29.6,681) scale(0.9722,1)" text-rendering="geometricPrecision" font-family="'Liberation Mono',monospace" font-weight="bold" font-size="12.0" fill="#000">Diagramme des ensembles GEFS sur 384h : 40.5N -0E</text>
<text transform="translate(29.5,696) scale(0.8333,1)" text-rendering="geometricPrecision" font-family="'Liberation Mono',monospace" font-size="12.0" fill="#000">Vent/flux et température au niveau 850hPa</text>
<text transform="translate(449.5,676) scale(0.8333,1)" text-rendering="geometricPrecision" font-family="'Liberation Mono',monospace" font-size="12.0" fill="#000">Ensemble GEFS du 21/04/2026 - 06Z</text>
<text transform="translate(449.6,696) scale(0.9722,1)" text-rendering="geometricPrecision" font-family="'Liberation Mono',monospace" font-weight="bold" font-size="12.0" fill="#000">Copyright 2026 Meteociel.fr</text>
</svg>
</body></html>
